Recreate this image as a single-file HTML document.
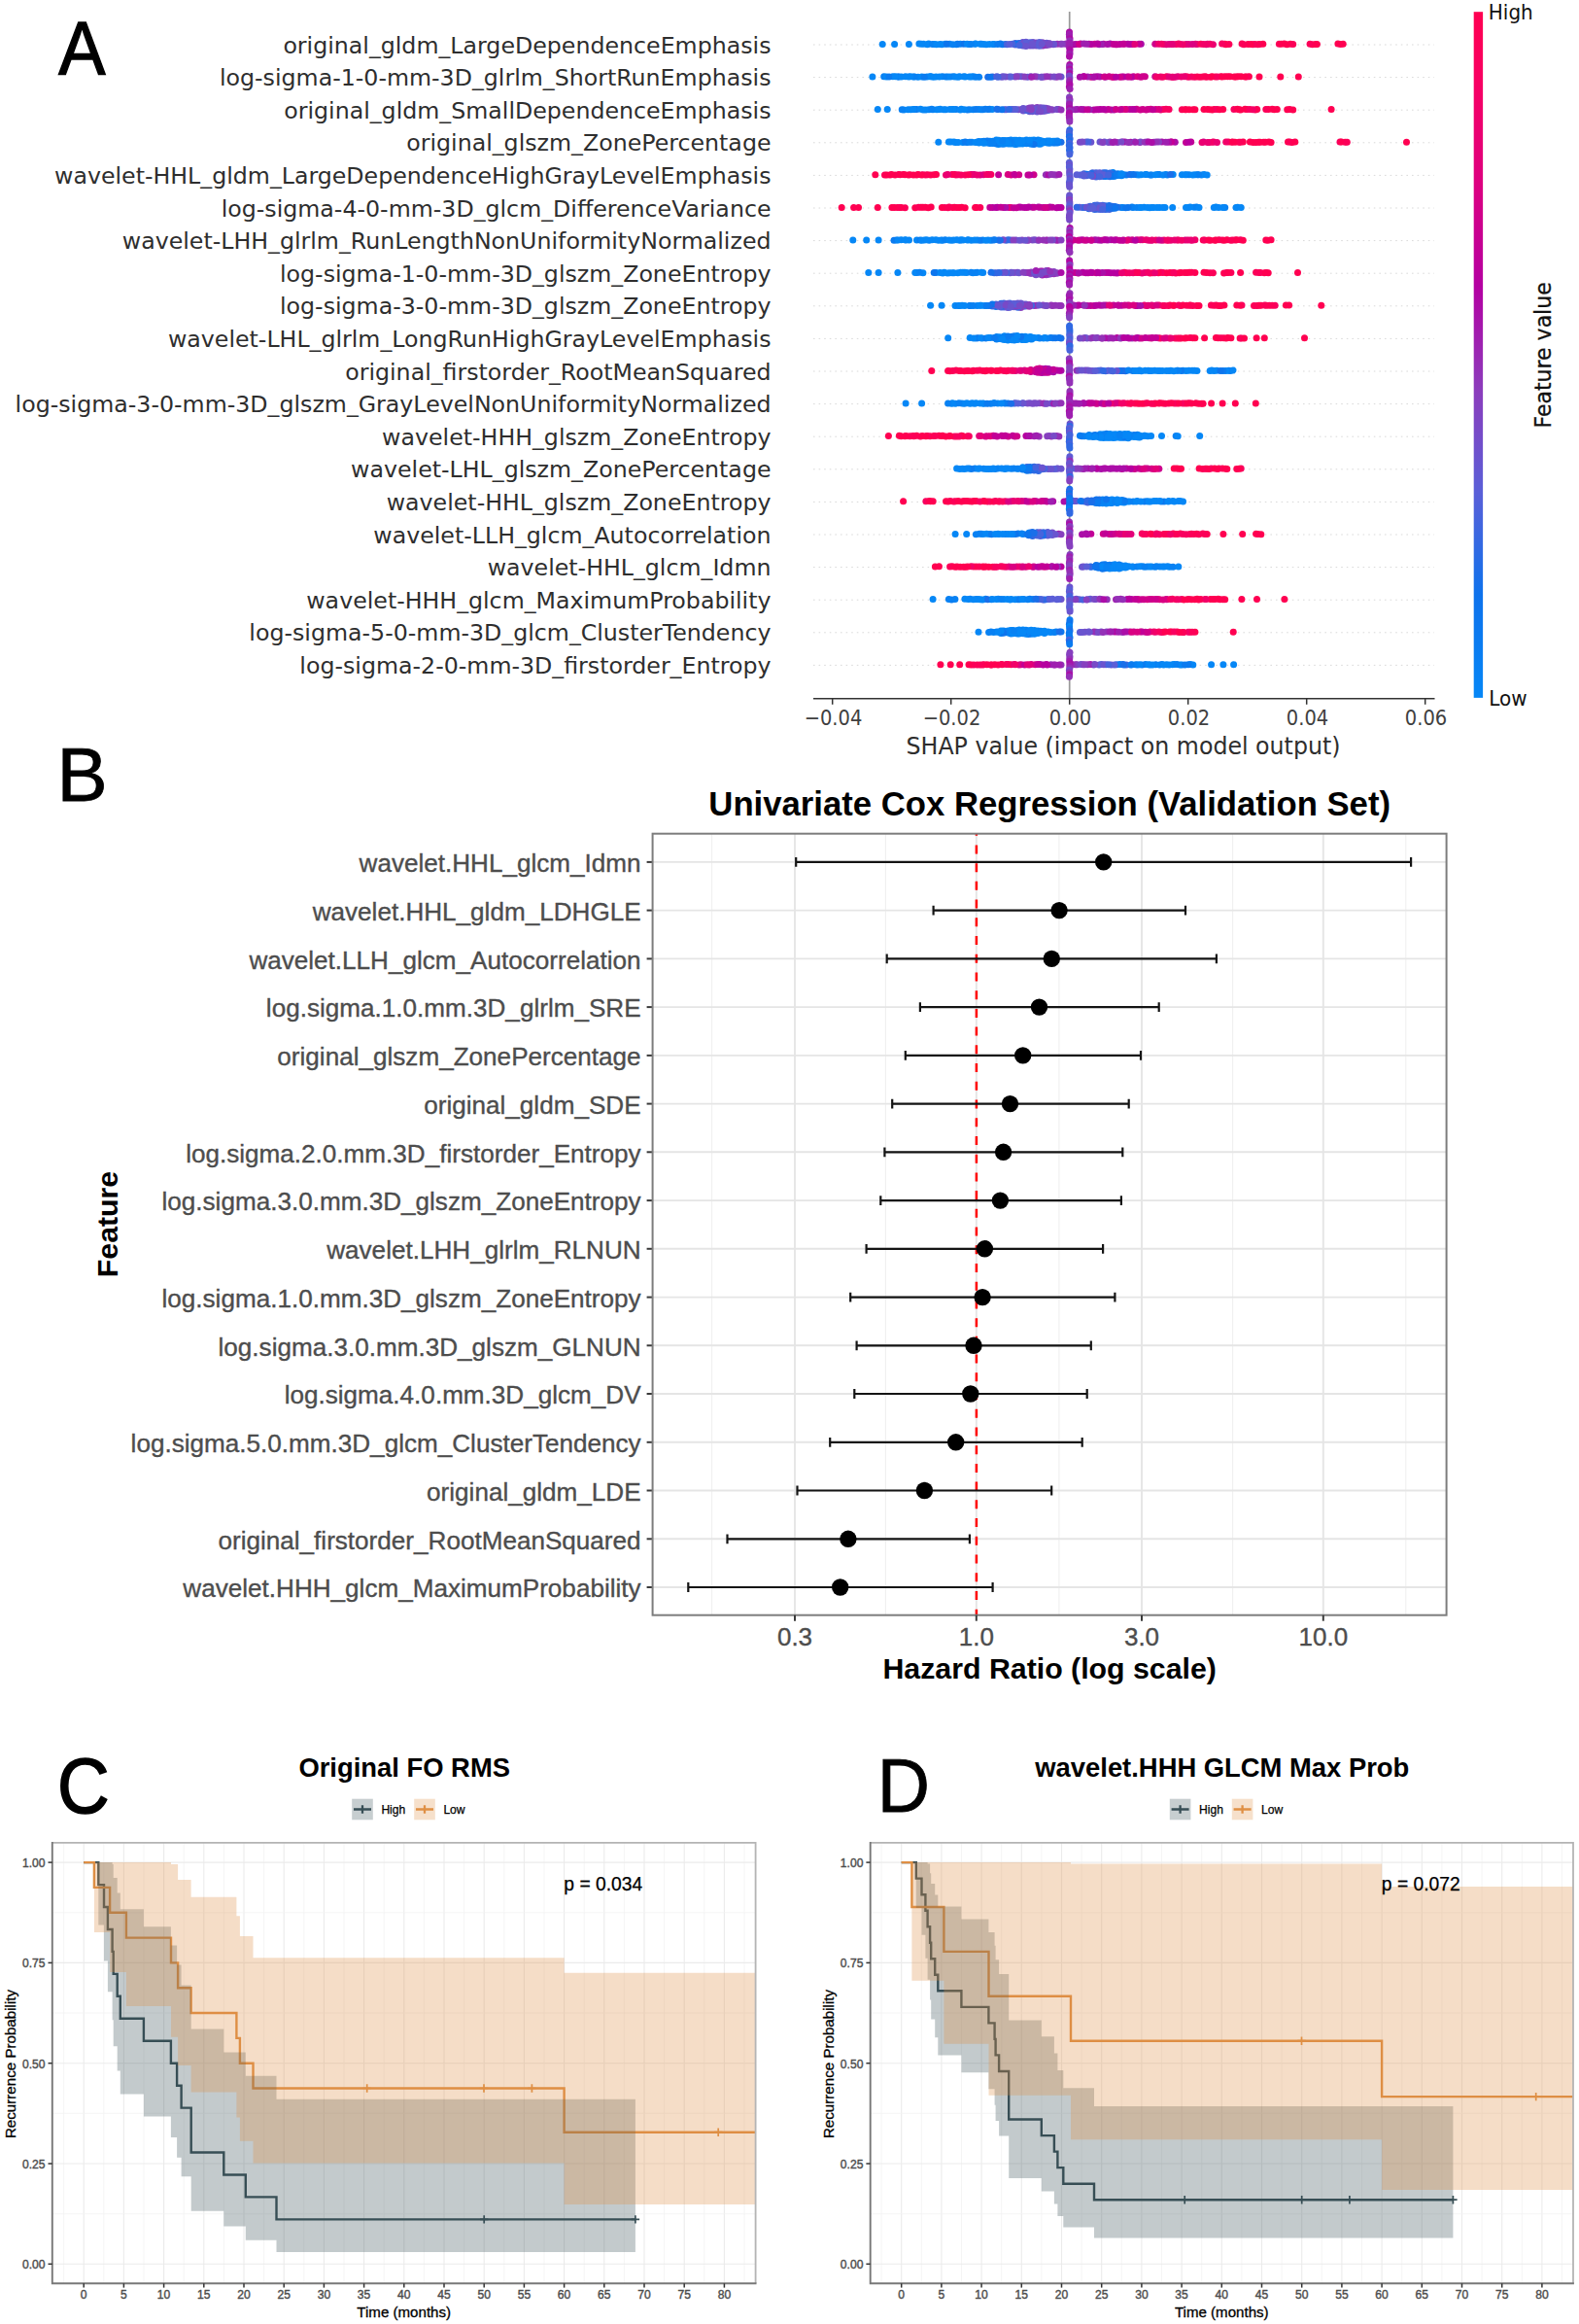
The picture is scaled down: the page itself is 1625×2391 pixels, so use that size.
<!DOCTYPE html><html><head><meta charset="utf-8"><title>Figure</title><style>html,body{margin:0;padding:0;background:#fff}svg{display:block}.dj{font-family:"DejaVu Sans","Liberation Sans",sans-serif}.lr,.lb{font-family:"Liberation Sans",Arial,Helvetica,sans-serif}.lbd{font-family:"Liberation Sans",Arial,Helvetica,sans-serif;font-weight:bold;fill:#000}.dots circle{r:3.5px}.k0{fill:#0687f6}.k1{fill:#0881f3}.k2{fill:#0b7bf0}.k3{fill:#0d75ed}.k4{fill:#1a6fe9}.k5{fill:#3069e3}.k6{fill:#4664dd}.k7{fill:#5b5ed7}.k8{fill:#6a54cf}.k9{fill:#784ac7}.k10{fill:#8740bf}.k11{fill:#9431b7}.k12{fill:#9f1fb0}.k13{fill:#ab0ea8}.k14{fill:#b600a0}.k15{fill:#c20096}.k16{fill:#ce008c}.k17{fill:#da0082}.k18{fill:#e30079}.k19{fill:#eb0071}.k20{fill:#f30068}.k21{fill:#f90060}.k22{fill:#fc0058}.k23{fill:#ff0051}</style></head><body><svg width="1625" height="2391" viewBox="0 0 1625 2391">
<g id="panelA">
<line x1="837" x2="1476" y1="46.0" y2="46.0" stroke="#d9d9d9" stroke-width="1" stroke-dasharray="1.6 4"/>
<line x1="837" x2="1476" y1="79.6" y2="79.6" stroke="#d9d9d9" stroke-width="1" stroke-dasharray="1.6 4"/>
<line x1="837" x2="1476" y1="113.2" y2="113.2" stroke="#d9d9d9" stroke-width="1" stroke-dasharray="1.6 4"/>
<line x1="837" x2="1476" y1="146.8" y2="146.8" stroke="#d9d9d9" stroke-width="1" stroke-dasharray="1.6 4"/>
<line x1="837" x2="1476" y1="180.4" y2="180.4" stroke="#d9d9d9" stroke-width="1" stroke-dasharray="1.6 4"/>
<line x1="837" x2="1476" y1="214.0" y2="214.0" stroke="#d9d9d9" stroke-width="1" stroke-dasharray="1.6 4"/>
<line x1="837" x2="1476" y1="247.6" y2="247.6" stroke="#d9d9d9" stroke-width="1" stroke-dasharray="1.6 4"/>
<line x1="837" x2="1476" y1="281.2" y2="281.2" stroke="#d9d9d9" stroke-width="1" stroke-dasharray="1.6 4"/>
<line x1="837" x2="1476" y1="314.8" y2="314.8" stroke="#d9d9d9" stroke-width="1" stroke-dasharray="1.6 4"/>
<line x1="837" x2="1476" y1="348.4" y2="348.4" stroke="#d9d9d9" stroke-width="1" stroke-dasharray="1.6 4"/>
<line x1="837" x2="1476" y1="382.0" y2="382.0" stroke="#d9d9d9" stroke-width="1" stroke-dasharray="1.6 4"/>
<line x1="837" x2="1476" y1="415.6" y2="415.6" stroke="#d9d9d9" stroke-width="1" stroke-dasharray="1.6 4"/>
<line x1="837" x2="1476" y1="449.2" y2="449.2" stroke="#d9d9d9" stroke-width="1" stroke-dasharray="1.6 4"/>
<line x1="837" x2="1476" y1="482.8" y2="482.8" stroke="#d9d9d9" stroke-width="1" stroke-dasharray="1.6 4"/>
<line x1="837" x2="1476" y1="516.4" y2="516.4" stroke="#d9d9d9" stroke-width="1" stroke-dasharray="1.6 4"/>
<line x1="837" x2="1476" y1="550.0" y2="550.0" stroke="#d9d9d9" stroke-width="1" stroke-dasharray="1.6 4"/>
<line x1="837" x2="1476" y1="583.6" y2="583.6" stroke="#d9d9d9" stroke-width="1" stroke-dasharray="1.6 4"/>
<line x1="837" x2="1476" y1="617.2" y2="617.2" stroke="#d9d9d9" stroke-width="1" stroke-dasharray="1.6 4"/>
<line x1="837" x2="1476" y1="650.8" y2="650.8" stroke="#d9d9d9" stroke-width="1" stroke-dasharray="1.6 4"/>
<line x1="837" x2="1476" y1="684.4" y2="684.4" stroke="#d9d9d9" stroke-width="1" stroke-dasharray="1.6 4"/>
<line x1="1100.7" x2="1100.7" y1="12" y2="718.4" stroke="#999" stroke-width="1.7"/>
<g class="dots">
<circle class="k2" cx="1031.6" cy="45.7"/>
<circle class="k15" cx="1135.7" cy="45.2"/>
<circle class="k8" cx="1074.1" cy="46.7"/>
<circle class="k6" cx="1047.9" cy="45.1"/>
<circle class="k10" cx="1084.0" cy="45.7"/>
<circle class="k16" cx="1203.1" cy="45.6"/>
<circle class="k19" cx="1230.4" cy="45.2"/>
<circle class="k0" cx="988.3" cy="45.2"/>
<circle class="k13" cx="1142.4" cy="45.1"/>
<circle class="k11" cx="1088.1" cy="45.2"/>
<circle class="k10" cx="1078.1" cy="45.3"/>
<circle class="k12" cx="1102.1" cy="45.6"/>
<circle class="k7" cx="1052.6" cy="47.0"/>
<circle class="k18" cx="1232.0" cy="45.6"/>
<circle class="k21" cx="1210.5" cy="45.6"/>
<circle class="k14" cx="1105.0" cy="45.7"/>
<circle class="k8" cx="1044.9" cy="46.1"/>
<circle class="k22" cx="1278.1" cy="45.1"/>
<circle class="k7" cx="1058.3" cy="45.2"/>
<circle class="k12" cx="1134.4" cy="45.4"/>
<circle class="k1" cx="969.1" cy="45.7"/>
<circle class="k23" cx="1328.0" cy="45.3"/>
<circle class="k13" cx="1174.3" cy="45.2"/>
<circle class="k9" cx="1069.7" cy="45.1"/>
<circle class="k15" cx="1148.1" cy="45.7"/>
<circle class="k17" cx="1220.8" cy="45.6"/>
<circle class="k0" cx="961.8" cy="45.4"/>
<circle class="k22" cx="1379.6" cy="45.4"/>
<circle class="k0" cx="955.7" cy="45.1"/>
<circle class="k6" cx="1060.1" cy="43.8"/>
<circle class="k4" cx="1034.7" cy="45.6"/>
<circle class="k8" cx="1064.9" cy="44.4"/>
<circle class="k20" cx="1217.6" cy="45.7"/>
<circle class="k11" cx="1096.4" cy="45.3"/>
<circle class="k11" cx="1074.1" cy="44.6"/>
<circle class="k23" cx="1291.4" cy="45.4"/>
<circle class="k12" cx="1131.2" cy="45.7"/>
<circle class="k8" cx="1075.7" cy="45.1"/>
<circle class="k0" cx="967.4" cy="45.6"/>
<circle class="k6" cx="1051.6" cy="44.4"/>
<circle class="k15" cx="1157.1" cy="45.3"/>
<circle class="k15" cx="1172.2" cy="45.3"/>
<circle class="k8" cx="1052.6" cy="43.5"/>
<circle class="k5" cx="1048.9" cy="44.6"/>
<circle class="k22" cx="1330.7" cy="45.4"/>
<circle class="k8" cx="1066.3" cy="45.1"/>
<circle class="k15" cx="1165.4" cy="45.4"/>
<circle class="k23" cx="1284.3" cy="45.5"/>
<circle class="k7" cx="1050.3" cy="45.5"/>
<circle class="k6" cx="1044.9" cy="44.6"/>
<circle class="k23" cx="1296.3" cy="45.6"/>
<circle class="k23" cx="1299.8" cy="45.2"/>
<circle class="k18" cx="1205.6" cy="45.4"/>
<circle class="k22" cx="1294.5" cy="45.7"/>
<circle class="k8" cx="1064.6" cy="45.3"/>
<circle class="k3" cx="1045.7" cy="45.3"/>
<circle class="k8" cx="1077.1" cy="44.2"/>
<circle class="k0" cx="908.2" cy="45.4"/>
<circle class="k21" cx="1289.3" cy="45.7"/>
<circle class="k10" cx="1080.1" cy="46.1"/>
<circle class="k0" cx="945.9" cy="45.1"/>
<circle class="k16" cx="1188.8" cy="45.2"/>
<circle class="k23" cx="1355.4" cy="45.4"/>
<circle class="k0" cx="984.3" cy="45.7"/>
<circle class="k19" cx="1214.9" cy="45.5"/>
<circle class="k23" cx="1261.7" cy="45.7"/>
<circle class="k0" cx="1014.9" cy="45.7"/>
<circle class="k0" cx="1010.0" cy="45.3"/>
<circle class="k18" cx="1207.2" cy="45.5"/>
<circle class="k8" cx="1063.0" cy="43.6"/>
<circle class="k9" cx="1066.4" cy="43.9"/>
<circle class="k8" cx="1055.6" cy="46.4"/>
<circle class="k13" cx="1107.3" cy="45.4"/>
<circle class="k8" cx="1084.8" cy="45.5"/>
<circle class="k0" cx="972.7" cy="45.2"/>
<circle class="k17" cx="1197.7" cy="45.5"/>
<circle class="k0" cx="1021.9" cy="45.4"/>
<circle class="k11" cx="1098.1" cy="45.1"/>
<circle class="k13" cx="1112.1" cy="45.1"/>
<circle class="k0" cx="1003.4" cy="45.2"/>
<circle class="k23" cx="1260.5" cy="45.2"/>
<circle class="k8" cx="1063.0" cy="47.0"/>
<circle class="k22" cx="1235.8" cy="45.3"/>
<circle class="k22" cx="1264.9" cy="45.6"/>
<circle class="k23" cx="1324.4" cy="45.7"/>
<circle class="k0" cx="1023.1" cy="45.5"/>
<circle class="k0" cx="935.4" cy="45.4"/>
<circle class="k5" cx="1056.0" cy="45.1"/>
<circle class="k19" cx="1248.4" cy="45.7"/>
<circle class="k23" cx="1321.7" cy="45.1"/>
<circle class="k8" cx="1055.9" cy="43.2"/>
<circle class="k16" cx="1110.6" cy="45.4"/>
<circle class="k11" cx="1091.6" cy="45.2"/>
<circle class="k6" cx="1036.3" cy="45.7"/>
<circle class="k9" cx="1064.9" cy="46.5"/>
<circle class="k9" cx="1066.4" cy="47.1"/>
<circle class="k10" cx="1077.1" cy="46.4"/>
<circle class="k14" cx="1152.5" cy="45.5"/>
<circle class="k6" cx="1042.0" cy="45.3"/>
<circle class="k0" cx="1004.0" cy="45.1"/>
<circle class="k9" cx="1060.1" cy="47.0"/>
<circle class="k0" cx="954.3" cy="45.7"/>
<circle class="k23" cx="1287.3" cy="45.4"/>
<circle class="k3" cx="991.9" cy="45.2"/>
<circle class="k23" cx="1353.9" cy="45.4"/>
<circle class="k0" cx="1018.1" cy="45.5"/>
<circle class="k19" cx="1192.2" cy="45.2"/>
<circle class="k8" cx="1061.1" cy="46.6"/>
<circle class="k0" cx="950.5" cy="45.3"/>
<circle class="k9" cx="1070.1" cy="44.4"/>
<circle class="k15" cx="1149.6" cy="45.7"/>
<circle class="k3" cx="1029.5" cy="45.1"/>
<circle class="k8" cx="1079.8" cy="45.1"/>
<circle class="k16" cx="1126.7" cy="45.2"/>
<circle class="k9" cx="1053.6" cy="45.1"/>
<circle class="k0" cx="920.6" cy="45.4"/>
<circle class="k9" cx="1067.1" cy="44.4"/>
<circle class="k0" cx="977.3" cy="45.3"/>
<circle class="k11" cx="1072.8" cy="47.0"/>
<circle class="k22" cx="1316.4" cy="45.2"/>
<circle class="k1" cx="959.5" cy="45.4"/>
<circle class="k8" cx="1067.1" cy="46.6"/>
<circle class="k19" cx="1242.7" cy="45.3"/>
<circle class="k15" cx="1145.8" cy="45.4"/>
<circle class="k9" cx="1057.5" cy="46.6"/>
<circle class="k7" cx="1055.6" cy="44.1"/>
<circle class="k18" cx="1223.5" cy="45.6"/>
<circle class="k23" cx="1376.9" cy="45.1"/>
<circle class="k9" cx="1080.1" cy="44.7"/>
<circle class="k14" cx="1120.7" cy="45.2"/>
<circle class="k2" cx="985.4" cy="45.2"/>
<circle class="k8" cx="1051.6" cy="46.4"/>
<circle class="k7" cx="1057.5" cy="44.2"/>
<circle class="k3" cx="974.5" cy="45.3"/>
<circle class="k14" cx="1129.6" cy="45.1"/>
<circle class="k1" cx="997.2" cy="45.4"/>
<circle class="k14" cx="1160.8" cy="45.2"/>
<circle class="k23" cx="1318.7" cy="45.3"/>
<circle class="k7" cx="1070.1" cy="46.4"/>
<circle class="k23" cx="1382.2" cy="45.2"/>
<circle class="k7" cx="1039.0" cy="45.6"/>
<circle class="k7" cx="1069.7" cy="47.3"/>
<circle class="k12" cx="1115.6" cy="45.1"/>
<circle class="k18" cx="1241.3" cy="45.7"/>
<circle class="k2" cx="1026.7" cy="45.5"/>
<circle class="k7" cx="1061.1" cy="44.4"/>
<circle class="k8" cx="1062.1" cy="45.2"/>
<circle class="k0" cx="963.8" cy="45.7"/>
<circle class="k14" cx="1123.1" cy="45.6"/>
<circle class="k12" cx="1118.1" cy="45.3"/>
<circle class="k0" cx="995.3" cy="45.2"/>
<circle class="k0" cx="1008.5" cy="45.3"/>
<circle class="k10" cx="1092.9" cy="45.3"/>
<circle class="k0" cx="1012.3" cy="45.4"/>
<circle class="k1" cx="980.7" cy="45.7"/>
<circle class="k9" cx="1072.8" cy="43.8"/>
<circle class="k13" cx="1139.8" cy="45.4"/>
<circle class="k23" cx="1350.7" cy="45.7"/>
<circle class="k14" cx="1162.8" cy="45.6"/>
<circle class="k20" cx="1212.9" cy="45.1"/>
<circle class="k8" cx="1055.9" cy="47.4"/>
<circle class="k21" cx="1257.6" cy="45.1"/>
<circle class="k22" cx="1280.1" cy="45.7"/>
<circle class="k6" cx="1048.9" cy="46.4"/>
<circle class="k7" cx="1069.7" cy="43.4"/>
<circle class="k0" cx="948.2" cy="45.2"/>
<circle class="k18" cx="1200.3" cy="45.7"/>
<circle class="k1" cx="999.4" cy="45.5"/>
<circle class="k15" cx="1155.9" cy="45.2"/>
<circle class="k20" cx="1195.3" cy="45.2"/>
<circle class="k8" cx="1072.3" cy="45.2"/>
<circle class="k20" cx="1238.6" cy="45.6"/>
<circle class="k18" cx="1167.9" cy="45.6"/>
<circle class="k17" cx="1227.1" cy="45.4"/>
<circle class="k22" cx="1348.1" cy="45.3"/>
<circle class="k20" cx="1245.1" cy="45.3"/>
<circle class="k13" cx="1100.5" cy="32.9"/>
<circle class="k12" cx="1100.4" cy="35.2"/>
<circle class="k12" cx="1100.5" cy="37.4"/>
<circle class="k13" cx="1101.0" cy="39.7"/>
<circle class="k11" cx="1100.9" cy="42.0"/>
<circle class="k12" cx="1100.7" cy="44.3"/>
<circle class="k12" cx="1100.6" cy="46.5"/>
<circle class="k12" cx="1100.5" cy="48.8"/>
<circle class="k13" cx="1101.1" cy="51.1"/>
<circle class="k13" cx="1100.8" cy="53.4"/>
<circle class="k12" cx="1101.0" cy="55.6"/>
<circle class="k13" cx="1100.5" cy="57.9"/>
<circle class="k20" cx="1229.3" cy="79.3"/>
<circle class="k16" cx="1166.6" cy="78.7"/>
<circle class="k23" cx="1247.4" cy="78.7"/>
<circle class="k8" cx="1092.0" cy="78.9"/>
<circle class="k0" cx="939.8" cy="78.9"/>
<circle class="k14" cx="1164.5" cy="79.2"/>
<circle class="k1" cx="958.1" cy="78.8"/>
<circle class="k16" cx="1156.4" cy="78.9"/>
<circle class="k0" cx="973.2" cy="79.0"/>
<circle class="k23" cx="1272.2" cy="79.1"/>
<circle class="k0" cx="999.7" cy="79.1"/>
<circle class="k0" cx="987.5" cy="78.8"/>
<circle class="k22" cx="1232.1" cy="78.9"/>
<circle class="k23" cx="1285.4" cy="78.8"/>
<circle class="k1" cx="975.4" cy="79.1"/>
<circle class="k0" cx="993.4" cy="78.9"/>
<circle class="k0" cx="924.1" cy="79.0"/>
<circle class="k4" cx="1016.7" cy="79.3"/>
<circle class="k9" cx="1067.2" cy="78.9"/>
<circle class="k0" cx="978.0" cy="78.9"/>
<circle class="k0" cx="985.9" cy="79.3"/>
<circle class="k8" cx="1071.5" cy="79.2"/>
<circle class="k10" cx="1081.0" cy="79.0"/>
<circle class="k0" cx="944.8" cy="79.3"/>
<circle class="k13" cx="1131.9" cy="79.0"/>
<circle class="k13" cx="1129.2" cy="78.8"/>
<circle class="k0" cx="960.5" cy="79.3"/>
<circle class="k0" cx="918.9" cy="78.7"/>
<circle class="k1" cx="909.7" cy="78.8"/>
<circle class="k7" cx="1038.8" cy="78.9"/>
<circle class="k11" cx="1087.4" cy="79.3"/>
<circle class="k16" cx="1188.8" cy="78.8"/>
<circle class="k5" cx="1021.5" cy="78.9"/>
<circle class="k3" cx="1019.4" cy="79.3"/>
<circle class="k21" cx="1226.2" cy="79.1"/>
<circle class="k12" cx="1074.9" cy="79.0"/>
<circle class="k22" cx="1240.2" cy="78.8"/>
<circle class="k9" cx="1060.7" cy="78.7"/>
<circle class="k8" cx="1057.4" cy="79.3"/>
<circle class="k21" cx="1207.1" cy="79.2"/>
<circle class="k23" cx="1245.9" cy="79.3"/>
<circle class="k14" cx="1154.5" cy="79.1"/>
<circle class="k19" cx="1206.0" cy="79.2"/>
<circle class="k3" cx="925.0" cy="79.1"/>
<circle class="k18" cx="1209.4" cy="79.3"/>
<circle class="k0" cx="912.2" cy="79.1"/>
<circle class="k9" cx="1072.4" cy="79.2"/>
<circle class="k1" cx="1007.6" cy="79.2"/>
<circle class="k0" cx="1001.7" cy="78.8"/>
<circle class="k23" cx="1336.3" cy="79.0"/>
<circle class="k9" cx="1084.8" cy="78.9"/>
<circle class="k1" cx="981.0" cy="78.8"/>
<circle class="k19" cx="1194.3" cy="79.1"/>
<circle class="k20" cx="1196.5" cy="79.3"/>
<circle class="k13" cx="1115.0" cy="78.7"/>
<circle class="k23" cx="1250.7" cy="79.1"/>
<circle class="k23" cx="1263.4" cy="78.8"/>
<circle class="k11" cx="1064.9" cy="78.8"/>
<circle class="k17" cx="1122.8" cy="79.3"/>
<circle class="k23" cx="1256.4" cy="78.8"/>
<circle class="k9" cx="1034.9" cy="79.1"/>
<circle class="k0" cx="983.0" cy="79.1"/>
<circle class="k0" cx="963.3" cy="79.1"/>
<circle class="k0" cx="935.0" cy="79.1"/>
<circle class="k23" cx="1274.3" cy="78.8"/>
<circle class="k14" cx="1126.5" cy="78.9"/>
<circle class="k12" cx="1137.7" cy="79.3"/>
<circle class="k20" cx="1223.1" cy="79.3"/>
<circle class="k7" cx="1025.8" cy="78.8"/>
<circle class="k13" cx="1125.4" cy="79.3"/>
<circle class="k0" cx="957.0" cy="78.8"/>
<circle class="k11" cx="1077.6" cy="78.7"/>
<circle class="k8" cx="1032.3" cy="78.7"/>
<circle class="k21" cx="1220.9" cy="78.8"/>
<circle class="k16" cx="1176.0" cy="78.8"/>
<circle class="k0" cx="948.7" cy="79.1"/>
<circle class="k21" cx="1252.9" cy="79.1"/>
<circle class="k18" cx="1212.1" cy="78.7"/>
<circle class="k23" cx="1296.0" cy="79.0"/>
<circle class="k1" cx="941.2" cy="79.0"/>
<circle class="k14" cx="1160.1" cy="78.9"/>
<circle class="k12" cx="1061.6" cy="79.3"/>
<circle class="k20" cx="1190.5" cy="79.2"/>
<circle class="k12" cx="1119.3" cy="79.0"/>
<circle class="k17" cx="1170.9" cy="78.8"/>
<circle class="k22" cx="1241.7" cy="79.2"/>
<circle class="k0" cx="936.8" cy="78.7"/>
<circle class="k8" cx="1051.1" cy="78.8"/>
<circle class="k22" cx="1237.9" cy="79.0"/>
<circle class="k10" cx="1054.2" cy="78.9"/>
<circle class="k0" cx="897.9" cy="79.0"/>
<circle class="k1" cx="969.9" cy="78.7"/>
<circle class="k9" cx="1044.6" cy="78.9"/>
<circle class="k16" cx="1174.0" cy="79.2"/>
<circle class="k22" cx="1235.0" cy="79.3"/>
<circle class="k0" cx="966.8" cy="78.9"/>
<circle class="k16" cx="1144.5" cy="79.2"/>
<circle class="k8" cx="1030.9" cy="79.2"/>
<circle class="k23" cx="1317.8" cy="79.0"/>
<circle class="k21" cx="1200.6" cy="78.7"/>
<circle class="k19" cx="1215.7" cy="78.9"/>
<circle class="k6" cx="1027.1" cy="79.3"/>
<circle class="k14" cx="1115.7" cy="78.8"/>
<circle class="k16" cx="1178.4" cy="78.7"/>
<circle class="k19" cx="1218.8" cy="78.7"/>
<circle class="k2" cx="915.0" cy="79.1"/>
<circle class="k8" cx="1048.3" cy="78.7"/>
<circle class="k1" cx="1004.0" cy="79.2"/>
<circle class="k16" cx="1152.6" cy="79.2"/>
<circle class="k0" cx="997.6" cy="78.9"/>
<circle class="k23" cx="1265.9" cy="78.8"/>
<circle class="k0" cx="991.9" cy="78.7"/>
<circle class="k16" cx="1161.9" cy="78.9"/>
<circle class="k23" cx="1257.9" cy="78.9"/>
<circle class="k0" cx="954.0" cy="79.0"/>
<circle class="k17" cx="1145.9" cy="79.2"/>
<circle class="k0" cx="927.7" cy="78.9"/>
<circle class="k10" cx="1089.8" cy="78.8"/>
<circle class="k16" cx="1141.4" cy="78.8"/>
<circle class="k21" cx="1282.8" cy="79.1"/>
<circle class="k13" cx="1111.4" cy="79.3"/>
<circle class="k14" cx="1148.4" cy="79.2"/>
<circle class="k7" cx="1040.5" cy="78.9"/>
<circle class="k18" cx="1203.1" cy="79.0"/>
<circle class="k0" cx="931.9" cy="78.8"/>
<circle class="k23" cx="1281.2" cy="78.9"/>
<circle class="k23" cx="1277.2" cy="78.7"/>
<circle class="k23" cx="1260.7" cy="78.7"/>
<circle class="k23" cx="1270.2" cy="79.1"/>
<circle class="k0" cx="921.4" cy="78.7"/>
<circle class="k10" cx="1046.3" cy="78.8"/>
<circle class="k2" cx="951.2" cy="79.3"/>
<circle class="k16" cx="1136.5" cy="79.0"/>
<circle class="k13" cx="1100.8" cy="66.5"/>
<circle class="k11" cx="1100.5" cy="68.8"/>
<circle class="k13" cx="1100.8" cy="71.0"/>
<circle class="k11" cx="1100.8" cy="73.3"/>
<circle class="k13" cx="1100.7" cy="75.6"/>
<circle class="k9" cx="1100.4" cy="77.9"/>
<circle class="k9" cx="1100.9" cy="80.1"/>
<circle class="k11" cx="1100.7" cy="82.4"/>
<circle class="k12" cx="1100.6" cy="84.7"/>
<circle class="k13" cx="1101.0" cy="87.0"/>
<circle class="k13" cx="1100.4" cy="89.2"/>
<circle class="k12" cx="1101.1" cy="91.5"/>
<circle class="k2" cx="983.9" cy="112.5"/>
<circle class="k15" cx="1162.8" cy="112.5"/>
<circle class="k0" cx="980.0" cy="112.5"/>
<circle class="k23" cx="1311.3" cy="112.8"/>
<circle class="k23" cx="1258.7" cy="112.4"/>
<circle class="k23" cx="1242.7" cy="112.4"/>
<circle class="k3" cx="995.6" cy="112.9"/>
<circle class="k0" cx="930.1" cy="112.9"/>
<circle class="k8" cx="1073.8" cy="114.3"/>
<circle class="k9" cx="1057.4" cy="111.7"/>
<circle class="k0" cx="934.5" cy="112.8"/>
<circle class="k12" cx="1106.5" cy="112.7"/>
<circle class="k7" cx="1052.0" cy="112.3"/>
<circle class="k14" cx="1159.1" cy="112.4"/>
<circle class="k22" cx="1327.3" cy="112.6"/>
<circle class="k8" cx="1067.1" cy="113.3"/>
<circle class="k8" cx="1074.9" cy="112.7"/>
<circle class="k10" cx="1076.3" cy="113.9"/>
<circle class="k10" cx="1062.4" cy="110.8"/>
<circle class="k0" cx="964.1" cy="112.7"/>
<circle class="k10" cx="1076.3" cy="111.3"/>
<circle class="k1" cx="952.8" cy="112.9"/>
<circle class="k19" cx="1194.5" cy="112.9"/>
<circle class="k23" cx="1247.6" cy="112.9"/>
<circle class="k23" cx="1220.7" cy="112.7"/>
<circle class="k11" cx="1068.1" cy="112.7"/>
<circle class="k22" cx="1293.7" cy="112.4"/>
<circle class="k21" cx="1269.9" cy="112.5"/>
<circle class="k17" cx="1169.7" cy="112.3"/>
<circle class="k6" cx="1033.5" cy="112.8"/>
<circle class="k0" cx="1011.5" cy="112.8"/>
<circle class="k23" cx="1223.9" cy="112.8"/>
<circle class="k21" cx="1203.1" cy="112.4"/>
<circle class="k8" cx="1062.6" cy="111.9"/>
<circle class="k7" cx="1041.1" cy="112.6"/>
<circle class="k7" cx="1059.7" cy="113.2"/>
<circle class="k16" cx="1179.6" cy="112.9"/>
<circle class="k8" cx="1053.6" cy="112.5"/>
<circle class="k17" cx="1189.5" cy="112.6"/>
<circle class="k23" cx="1324.7" cy="112.8"/>
<circle class="k8" cx="1060.2" cy="112.7"/>
<circle class="k23" cx="1276.8" cy="112.9"/>
<circle class="k1" cx="941.1" cy="112.4"/>
<circle class="k7" cx="1078.8" cy="113.4"/>
<circle class="k8" cx="1067.3" cy="114.9"/>
<circle class="k0" cx="956.0" cy="112.8"/>
<circle class="k9" cx="1072.2" cy="112.6"/>
<circle class="k11" cx="1103.2" cy="112.7"/>
<circle class="k9" cx="1048.2" cy="112.8"/>
<circle class="k23" cx="1229.9" cy="112.7"/>
<circle class="k0" cx="1001.5" cy="112.7"/>
<circle class="k0" cx="1007.1" cy="112.5"/>
<circle class="k0" cx="937.2" cy="112.7"/>
<circle class="k23" cx="1281.3" cy="112.3"/>
<circle class="k15" cx="1140.6" cy="112.4"/>
<circle class="k23" cx="1275.2" cy="112.8"/>
<circle class="k7" cx="1035.4" cy="112.7"/>
<circle class="k8" cx="1053.1" cy="113.9"/>
<circle class="k9" cx="1069.5" cy="114.0"/>
<circle class="k15" cx="1168.2" cy="112.4"/>
<circle class="k0" cx="913.2" cy="112.6"/>
<circle class="k15" cx="1128.4" cy="112.8"/>
<circle class="k4" cx="1027.0" cy="112.6"/>
<circle class="k7" cx="1042.9" cy="112.6"/>
<circle class="k0" cx="981.3" cy="112.4"/>
<circle class="k2" cx="943.4" cy="112.4"/>
<circle class="k10" cx="1074.1" cy="112.0"/>
<circle class="k9" cx="1064.3" cy="112.9"/>
<circle class="k23" cx="1305.4" cy="112.6"/>
<circle class="k14" cx="1125.7" cy="112.9"/>
<circle class="k1" cx="1018.4" cy="112.3"/>
<circle class="k15" cx="1143.5" cy="112.9"/>
<circle class="k12" cx="1121.2" cy="112.8"/>
<circle class="k16" cx="1154.8" cy="112.4"/>
<circle class="k3" cx="1031.1" cy="112.8"/>
<circle class="k1" cx="973.1" cy="112.7"/>
<circle class="k10" cx="1067.3" cy="110.6"/>
<circle class="k14" cx="1132.7" cy="112.5"/>
<circle class="k12" cx="1114.1" cy="112.8"/>
<circle class="k23" cx="1273.3" cy="112.3"/>
<circle class="k22" cx="1216.4" cy="112.7"/>
<circle class="k2" cx="1004.3" cy="112.6"/>
<circle class="k8" cx="1059.8" cy="114.8"/>
<circle class="k23" cx="1330.7" cy="112.9"/>
<circle class="k23" cx="1309.3" cy="112.3"/>
<circle class="k9" cx="1083.2" cy="112.9"/>
<circle class="k0" cx="939.9" cy="112.5"/>
<circle class="k17" cx="1184.3" cy="112.3"/>
<circle class="k23" cx="1219.6" cy="112.7"/>
<circle class="k10" cx="1081.8" cy="112.8"/>
<circle class="k0" cx="966.7" cy="112.6"/>
<circle class="k1" cx="997.8" cy="112.8"/>
<circle class="k7" cx="1059.7" cy="111.5"/>
<circle class="k1" cx="1009.5" cy="112.8"/>
<circle class="k0" cx="960.0" cy="112.8"/>
<circle class="k8" cx="1062.4" cy="114.8"/>
<circle class="k8" cx="1067.1" cy="111.7"/>
<circle class="k23" cx="1245.0" cy="112.7"/>
<circle class="k9" cx="1069.5" cy="112.9"/>
<circle class="k16" cx="1181.4" cy="112.6"/>
<circle class="k0" cx="947.3" cy="112.3"/>
<circle class="k12" cx="1108.6" cy="112.6"/>
<circle class="k0" cx="992.4" cy="112.8"/>
<circle class="k9" cx="1078.8" cy="111.8"/>
<circle class="k11" cx="1089.3" cy="112.4"/>
<circle class="k23" cx="1314.3" cy="112.5"/>
<circle class="k0" cx="1021.1" cy="112.6"/>
<circle class="k23" cx="1227.9" cy="112.7"/>
<circle class="k13" cx="1146.5" cy="112.9"/>
<circle class="k23" cx="1249.7" cy="112.4"/>
<circle class="k14" cx="1115.8" cy="112.8"/>
<circle class="k17" cx="1158.2" cy="112.4"/>
<circle class="k0" cx="950.1" cy="112.9"/>
<circle class="k23" cx="1291.9" cy="112.9"/>
<circle class="k8" cx="1069.5" cy="111.5"/>
<circle class="k6" cx="1057.4" cy="113.7"/>
<circle class="k21" cx="1252.4" cy="112.5"/>
<circle class="k15" cx="1138.0" cy="112.9"/>
<circle class="k7" cx="1062.6" cy="113.7"/>
<circle class="k13" cx="1112.4" cy="112.4"/>
<circle class="k21" cx="1200.0" cy="112.3"/>
<circle class="k9" cx="1058.1" cy="112.3"/>
<circle class="k22" cx="1302.8" cy="112.4"/>
<circle class="k0" cx="989.3" cy="112.3"/>
<circle class="k0" cx="971.2" cy="112.8"/>
<circle class="k21" cx="1197.1" cy="112.5"/>
<circle class="k5" cx="1038.5" cy="112.5"/>
<circle class="k23" cx="1255.0" cy="112.7"/>
<circle class="k9" cx="1070.8" cy="110.8"/>
<circle class="k10" cx="1079.3" cy="112.4"/>
<circle class="k2" cx="1016.9" cy="112.6"/>
<circle class="k0" cx="988.2" cy="112.9"/>
<circle class="k8" cx="1073.8" cy="110.9"/>
<circle class="k14" cx="1130.7" cy="112.7"/>
<circle class="k0" cx="967.6" cy="112.3"/>
<circle class="k10" cx="1061.4" cy="112.8"/>
<circle class="k23" cx="1370.1" cy="112.6"/>
<circle class="k1" cx="928.2" cy="112.7"/>
<circle class="k14" cx="1165.7" cy="112.5"/>
<circle class="k8" cx="1053.1" cy="111.6"/>
<circle class="k2" cx="1014.1" cy="112.3"/>
<circle class="k15" cx="1152.9" cy="112.7"/>
<circle class="k8" cx="1074.1" cy="114.0"/>
<circle class="k1" cx="958.8" cy="112.3"/>
<circle class="k17" cx="1192.7" cy="112.4"/>
<circle class="k10" cx="1059.8" cy="110.9"/>
<circle class="k4" cx="1025.9" cy="112.3"/>
<circle class="k16" cx="1176.1" cy="112.4"/>
<circle class="k0" cx="977.4" cy="112.5"/>
<circle class="k9" cx="1070.8" cy="114.7"/>
<circle class="k20" cx="1289.2" cy="112.8"/>
<circle class="k23" cx="1283.1" cy="112.4"/>
<circle class="k16" cx="1148.4" cy="112.4"/>
<circle class="k14" cx="1135.9" cy="112.4"/>
<circle class="k9" cx="1087.6" cy="112.4"/>
<circle class="k16" cx="1173.6" cy="112.9"/>
<circle class="k15" cx="1119.0" cy="112.7"/>
<circle class="k0" cx="903.3" cy="112.6"/>
<circle class="k21" cx="1286.1" cy="112.4"/>
<circle class="k7" cx="1045.3" cy="112.5"/>
<circle class="k23" cx="1239.0" cy="112.6"/>
<circle class="k11" cx="1092.0" cy="112.9"/>
<circle class="k15" cx="1186.5" cy="112.8"/>
<circle class="k10" cx="1100.5" cy="100.1"/>
<circle class="k11" cx="1101.0" cy="102.4"/>
<circle class="k10" cx="1100.7" cy="104.6"/>
<circle class="k12" cx="1100.5" cy="106.9"/>
<circle class="k12" cx="1100.5" cy="109.2"/>
<circle class="k13" cx="1100.6" cy="111.5"/>
<circle class="k11" cx="1100.8" cy="113.7"/>
<circle class="k13" cx="1100.4" cy="116.0"/>
<circle class="k13" cx="1100.3" cy="118.3"/>
<circle class="k12" cx="1100.4" cy="120.6"/>
<circle class="k12" cx="1100.8" cy="122.8"/>
<circle class="k11" cx="1100.8" cy="125.1"/>
<circle class="k23" cx="1384.3" cy="146.3"/>
<circle class="k1" cx="1056.3" cy="144.0"/>
<circle class="k8" cx="1117.8" cy="146.0"/>
<circle class="k23" cx="1296.8" cy="146.2"/>
<circle class="k11" cx="1157.9" cy="145.9"/>
<circle class="k0" cx="1025.3" cy="144.1"/>
<circle class="k0" cx="1011.2" cy="146.8"/>
<circle class="k1" cx="1044.3" cy="147.2"/>
<circle class="k0" cx="1024.9" cy="145.5"/>
<circle class="k23" cx="1268.7" cy="145.9"/>
<circle class="k20" cx="1244.5" cy="146.5"/>
<circle class="k0" cx="1028.3" cy="147.5"/>
<circle class="k0" cx="1027.7" cy="148.4"/>
<circle class="k10" cx="1142.2" cy="146.1"/>
<circle class="k0" cx="1044.6" cy="146.0"/>
<circle class="k13" cx="1163.6" cy="146.2"/>
<circle class="k0" cx="981.8" cy="146.1"/>
<circle class="k23" cx="1300.4" cy="146.2"/>
<circle class="k0" cx="1018.9" cy="146.1"/>
<circle class="k0" cx="1043.7" cy="144.2"/>
<circle class="k0" cx="1040.3" cy="144.1"/>
<circle class="k8" cx="1122.8" cy="146.3"/>
<circle class="k10" cx="1180.3" cy="145.9"/>
<circle class="k1" cx="1016.0" cy="147.1"/>
<circle class="k2" cx="1012.7" cy="145.2"/>
<circle class="k0" cx="1011.9" cy="146.4"/>
<circle class="k1" cx="1014.7" cy="146.5"/>
<circle class="k14" cx="1204.9" cy="146.0"/>
<circle class="k0" cx="1045.7" cy="144.2"/>
<circle class="k0" cx="978.7" cy="146.0"/>
<circle class="k12" cx="1173.0" cy="146.5"/>
<circle class="k9" cx="1140.8" cy="146.4"/>
<circle class="k16" cx="1238.6" cy="146.1"/>
<circle class="k1" cx="1060.7" cy="145.9"/>
<circle class="k1" cx="1037.3" cy="145.1"/>
<circle class="k22" cx="1264.1" cy="146.1"/>
<circle class="k0" cx="1070.5" cy="148.2"/>
<circle class="k0" cx="1083.8" cy="147.0"/>
<circle class="k6" cx="1119.9" cy="145.9"/>
<circle class="k1" cx="1045.7" cy="148.4"/>
<circle class="k0" cx="1085.8" cy="145.2"/>
<circle class="k0" cx="1052.3" cy="147.9"/>
<circle class="k0" cx="1061.9" cy="146.5"/>
<circle class="k1" cx="1080.5" cy="145.9"/>
<circle class="k0" cx="1017.7" cy="146.3"/>
<circle class="k0" cx="1068.1" cy="146.5"/>
<circle class="k13" cx="1155.6" cy="145.9"/>
<circle class="k0" cx="1054.1" cy="146.4"/>
<circle class="k0" cx="1059.7" cy="145.4"/>
<circle class="k1" cx="1007.5" cy="145.4"/>
<circle class="k1" cx="1021.8" cy="145.3"/>
<circle class="k3" cx="1084.9" cy="146.5"/>
<circle class="k0" cx="1043.7" cy="148.2"/>
<circle class="k0" cx="1065.5" cy="144.8"/>
<circle class="k0" cx="1041.2" cy="147.5"/>
<circle class="k15" cx="1220.5" cy="146.4"/>
<circle class="k0" cx="1039.0" cy="146.2"/>
<circle class="k23" cx="1325.5" cy="145.9"/>
<circle class="k10" cx="1150.2" cy="146.4"/>
<circle class="k2" cx="1085.8" cy="146.9"/>
<circle class="k0" cx="1065.2" cy="146.0"/>
<circle class="k0" cx="1018.8" cy="145.3"/>
<circle class="k0" cx="1061.5" cy="144.3"/>
<circle class="k20" cx="1248.9" cy="145.9"/>
<circle class="k0" cx="965.8" cy="146.2"/>
<circle class="k2" cx="1016.0" cy="144.9"/>
<circle class="k11" cx="1187.5" cy="146.3"/>
<circle class="k0" cx="983.4" cy="146.5"/>
<circle class="k4" cx="1092.0" cy="146.2"/>
<circle class="k0" cx="1005.8" cy="145.9"/>
<circle class="k0" cx="990.9" cy="146.4"/>
<circle class="k1" cx="1031.8" cy="146.0"/>
<circle class="k0" cx="1025.3" cy="147.9"/>
<circle class="k23" cx="1308.1" cy="146.5"/>
<circle class="k0" cx="1070.9" cy="145.5"/>
<circle class="k0" cx="1068.3" cy="144.0"/>
<circle class="k0" cx="1049.5" cy="147.1"/>
<circle class="k0" cx="1064.0" cy="144.1"/>
<circle class="k2" cx="1031.8" cy="148.2"/>
<circle class="k1" cx="1024.1" cy="146.4"/>
<circle class="k13" cx="1209.3" cy="146.3"/>
<circle class="k0" cx="1034.0" cy="148.1"/>
<circle class="k23" cx="1295.3" cy="146.2"/>
<circle class="k0" cx="1028.3" cy="145.1"/>
<circle class="k0" cx="1062.0" cy="147.5"/>
<circle class="k0" cx="1031.6" cy="147.6"/>
<circle class="k0" cx="1009.6" cy="146.0"/>
<circle class="k0" cx="1059.7" cy="147.5"/>
<circle class="k0" cx="1031.8" cy="144.4"/>
<circle class="k0" cx="1075.6" cy="145.9"/>
<circle class="k1" cx="995.2" cy="146.4"/>
<circle class="k23" cx="1267.5" cy="146.3"/>
<circle class="k3" cx="1078.4" cy="146.2"/>
<circle class="k9" cx="1111.4" cy="146.3"/>
<circle class="k1" cx="1026.8" cy="145.9"/>
<circle class="k0" cx="1000.1" cy="146.3"/>
<circle class="k23" cx="1271.0" cy="146.2"/>
<circle class="k2" cx="1024.9" cy="147.6"/>
<circle class="k20" cx="1247.8" cy="146.2"/>
<circle class="k2" cx="1087.7" cy="146.4"/>
<circle class="k13" cx="1195.7" cy="145.9"/>
<circle class="k0" cx="1083.8" cy="145.2"/>
<circle class="k0" cx="1077.8" cy="147.0"/>
<circle class="k12" cx="1145.1" cy="146.5"/>
<circle class="k21" cx="1379.0" cy="146.0"/>
<circle class="k0" cx="1049.5" cy="145.3"/>
<circle class="k8" cx="1136.6" cy="145.9"/>
<circle class="k0" cx="1068.3" cy="148.0"/>
<circle class="k1" cx="1021.1" cy="146.3"/>
<circle class="k1" cx="1088.2" cy="147.0"/>
<circle class="k0" cx="1034.0" cy="144.5"/>
<circle class="k2" cx="1047.6" cy="147.0"/>
<circle class="k8" cx="1132.0" cy="146.1"/>
<circle class="k9" cx="1167.5" cy="146.0"/>
<circle class="k2" cx="1067.3" cy="145.3"/>
<circle class="k1" cx="1080.2" cy="147.3"/>
<circle class="k0" cx="1041.2" cy="145.5"/>
<circle class="k1" cx="1048.0" cy="146.3"/>
<circle class="k9" cx="1173.7" cy="146.0"/>
<circle class="k2" cx="993.3" cy="145.9"/>
<circle class="k1" cx="1018.8" cy="147.5"/>
<circle class="k1" cx="1056.3" cy="147.8"/>
<circle class="k0" cx="1061.5" cy="148.3"/>
<circle class="k12" cx="1147.2" cy="145.9"/>
<circle class="k2" cx="1088.7" cy="146.3"/>
<circle class="k19" cx="1242.7" cy="146.4"/>
<circle class="k0" cx="1035.1" cy="147.0"/>
<circle class="k1" cx="998.0" cy="146.3"/>
<circle class="k20" cx="1261.7" cy="146.0"/>
<circle class="k1" cx="1011.2" cy="145.4"/>
<circle class="k23" cx="1286.4" cy="145.9"/>
<circle class="k23" cx="1329.6" cy="146.4"/>
<circle class="k0" cx="1070.5" cy="144.4"/>
<circle class="k0" cx="1080.2" cy="144.9"/>
<circle class="k15" cx="1205.7" cy="146.0"/>
<circle class="k0" cx="1067.3" cy="147.0"/>
<circle class="k0" cx="1073.3" cy="145.2"/>
<circle class="k12" cx="1168.5" cy="146.2"/>
<circle class="k0" cx="1003.9" cy="146.5"/>
<circle class="k0" cx="986.1" cy="146.5"/>
<circle class="k0" cx="976.4" cy="145.9"/>
<circle class="k22" cx="1327.3" cy="146.0"/>
<circle class="k10" cx="1134.8" cy="146.5"/>
<circle class="k15" cx="1225.7" cy="146.0"/>
<circle class="k11" cx="1161.3" cy="146.4"/>
<circle class="k0" cx="1077.8" cy="145.0"/>
<circle class="k19" cx="1237.0" cy="146.4"/>
<circle class="k0" cx="1029.2" cy="146.1"/>
<circle class="k9" cx="1154.1" cy="146.1"/>
<circle class="k0" cx="1055.7" cy="144.8"/>
<circle class="k23" cx="1275.0" cy="146.2"/>
<circle class="k0" cx="1052.8" cy="147.1"/>
<circle class="k23" cx="1332.8" cy="145.9"/>
<circle class="k0" cx="1071.5" cy="146.5"/>
<circle class="k13" cx="1202.4" cy="146.2"/>
<circle class="k0" cx="1037.3" cy="147.6"/>
<circle class="k9" cx="1113.9" cy="145.9"/>
<circle class="k12" cx="1199.7" cy="146.3"/>
<circle class="k23" cx="1380.5" cy="145.9"/>
<circle class="k0" cx="1027.7" cy="144.3"/>
<circle class="k0" cx="1040.3" cy="147.9"/>
<circle class="k0" cx="1049.2" cy="144.3"/>
<circle class="k14" cx="1223.6" cy="146.3"/>
<circle class="k23" cx="1279.3" cy="145.9"/>
<circle class="k1" cx="1062.0" cy="145.4"/>
<circle class="k0" cx="1047.6" cy="145.5"/>
<circle class="k0" cx="1035.1" cy="145.1"/>
<circle class="k23" cx="1289.6" cy="146.5"/>
<circle class="k1" cx="1088.2" cy="144.9"/>
<circle class="k10" cx="1192.6" cy="145.9"/>
<circle class="k19" cx="1252.5" cy="146.5"/>
<circle class="k11" cx="1190.1" cy="146.0"/>
<circle class="k0" cx="1007.5" cy="146.9"/>
<circle class="k22" cx="1386.3" cy="146.3"/>
<circle class="k22" cx="1276.5" cy="146.2"/>
<circle class="k0" cx="1047.2" cy="146.0"/>
<circle class="k0" cx="1065.5" cy="147.3"/>
<circle class="k0" cx="1070.9" cy="147.3"/>
<circle class="k13" cx="1185.2" cy="146.4"/>
<circle class="k23" cx="1305.9" cy="145.9"/>
<circle class="k1" cx="1073.5" cy="146.5"/>
<circle class="k0" cx="1052.8" cy="144.9"/>
<circle class="k23" cx="1292.5" cy="146.5"/>
<circle class="k1" cx="1021.8" cy="147.4"/>
<circle class="k0" cx="1051.9" cy="145.9"/>
<circle class="k0" cx="1055.7" cy="146.9"/>
<circle class="k0" cx="1044.3" cy="144.8"/>
<circle class="k3" cx="1064.0" cy="148.5"/>
<circle class="k23" cx="1447.5" cy="146.2"/>
<circle class="k1" cx="1040.8" cy="146.0"/>
<circle class="k23" cx="1302.4" cy="146.2"/>
<circle class="k1" cx="1056.2" cy="146.0"/>
<circle class="k1" cx="1037.7" cy="144.4"/>
<circle class="k1" cx="1059.5" cy="147.7"/>
<circle class="k0" cx="1037.7" cy="148.1"/>
<circle class="k0" cx="1073.3" cy="147.1"/>
<circle class="k11" cx="1178.2" cy="146.2"/>
<circle class="k0" cx="1012.7" cy="147.2"/>
<circle class="k0" cx="1059.5" cy="144.3"/>
<circle class="k0" cx="1052.3" cy="144.7"/>
<circle class="k0" cx="1049.2" cy="148.1"/>
<circle class="k0" cx="1035.6" cy="145.9"/>
<circle class="k1" cx="1031.6" cy="145.1"/>
<circle class="k13" cx="1182.0" cy="146.0"/>
<circle class="k5" cx="1100.8" cy="133.7"/>
<circle class="k6" cx="1100.4" cy="136.0"/>
<circle class="k6" cx="1100.6" cy="138.2"/>
<circle class="k4" cx="1100.4" cy="140.5"/>
<circle class="k5" cx="1101.1" cy="142.8"/>
<circle class="k4" cx="1100.5" cy="145.1"/>
<circle class="k6" cx="1100.9" cy="147.3"/>
<circle class="k5" cx="1100.3" cy="149.6"/>
<circle class="k5" cx="1101.0" cy="151.9"/>
<circle class="k5" cx="1100.5" cy="154.2"/>
<circle class="k5" cx="1101.1" cy="156.4"/>
<circle class="k6" cx="1100.8" cy="158.7"/>
<circle class="k21" cx="989.0" cy="180.1"/>
<circle class="k22" cx="943.3" cy="179.9"/>
<circle class="k23" cx="934.9" cy="180.1"/>
<circle class="k0" cx="1236.5" cy="179.9"/>
<circle class="k22" cx="910.5" cy="180.0"/>
<circle class="k18" cx="1012.2" cy="179.8"/>
<circle class="k6" cx="1129.9" cy="179.5"/>
<circle class="k6" cx="1135.1" cy="178.6"/>
<circle class="k7" cx="1115.6" cy="181.0"/>
<circle class="k1" cx="1169.6" cy="179.7"/>
<circle class="k0" cx="1232.4" cy="179.7"/>
<circle class="k2" cx="1147.2" cy="181.2"/>
<circle class="k11" cx="1087.0" cy="179.9"/>
<circle class="k19" cx="973.5" cy="179.9"/>
<circle class="k0" cx="1216.4" cy="179.8"/>
<circle class="k11" cx="1084.6" cy="179.7"/>
<circle class="k0" cx="1154.1" cy="180.7"/>
<circle class="k6" cx="1124.4" cy="177.7"/>
<circle class="k0" cx="1239.1" cy="179.5"/>
<circle class="k6" cx="1111.5" cy="179.9"/>
<circle class="k1" cx="1150.4" cy="180.6"/>
<circle class="k6" cx="1115.6" cy="178.7"/>
<circle class="k11" cx="1076.4" cy="179.8"/>
<circle class="k4" cx="1129.2" cy="178.9"/>
<circle class="k20" cx="983.9" cy="179.9"/>
<circle class="k5" cx="1137.7" cy="180.0"/>
<circle class="k2" cx="1150.4" cy="178.8"/>
<circle class="k3" cx="1118.2" cy="179.2"/>
<circle class="k22" cx="957.8" cy="179.9"/>
<circle class="k7" cx="1108.1" cy="179.8"/>
<circle class="k16" cx="1000.6" cy="179.7"/>
<circle class="k0" cx="1171.9" cy="179.9"/>
<circle class="k0" cx="1223.8" cy="179.8"/>
<circle class="k4" cx="1143.0" cy="178.9"/>
<circle class="k0" cx="1196.9" cy="180.1"/>
<circle class="k23" cx="916.0" cy="179.9"/>
<circle class="k23" cx="917.5" cy="179.5"/>
<circle class="k0" cx="1183.7" cy="179.9"/>
<circle class="k5" cx="1142.2" cy="181.8"/>
<circle class="k6" cx="1131.7" cy="178.6"/>
<circle class="k4" cx="1143.7" cy="179.9"/>
<circle class="k0" cx="1242.2" cy="180.1"/>
<circle class="k23" cx="921.1" cy="180.0"/>
<circle class="k7" cx="1118.2" cy="180.8"/>
<circle class="k1" cx="1179.8" cy="179.5"/>
<circle class="k1" cx="1221.2" cy="179.7"/>
<circle class="k5" cx="1124.9" cy="178.5"/>
<circle class="k23" cx="936.5" cy="179.8"/>
<circle class="k21" cx="986.2" cy="179.7"/>
<circle class="k6" cx="1128.0" cy="182.0"/>
<circle class="k23" cx="912.7" cy="179.9"/>
<circle class="k23" cx="940.0" cy="180.1"/>
<circle class="k0" cx="1174.5" cy="179.7"/>
<circle class="k0" cx="1145.0" cy="180.1"/>
<circle class="k23" cx="945.0" cy="179.5"/>
<circle class="k0" cx="1230.0" cy="179.7"/>
<circle class="k5" cx="1140.8" cy="181.1"/>
<circle class="k0" cx="1193.1" cy="179.5"/>
<circle class="k16" cx="1064.0" cy="179.8"/>
<circle class="k15" cx="1027.6" cy="179.8"/>
<circle class="k18" cx="1002.6" cy="179.5"/>
<circle class="k2" cx="1145.4" cy="181.6"/>
<circle class="k6" cx="1128.0" cy="177.7"/>
<circle class="k4" cx="1138.0" cy="177.7"/>
<circle class="k4" cx="1136.8" cy="180.8"/>
<circle class="k21" cx="1019.9" cy="179.5"/>
<circle class="k8" cx="1126.6" cy="180.0"/>
<circle class="k1" cx="1191.5" cy="179.5"/>
<circle class="k12" cx="1089.9" cy="179.5"/>
<circle class="k2" cx="1151.4" cy="179.8"/>
<circle class="k4" cx="1119.2" cy="179.8"/>
<circle class="k16" cx="1048.7" cy="179.7"/>
<circle class="k1" cx="1185.2" cy="180.1"/>
<circle class="k23" cx="963.5" cy="179.6"/>
<circle class="k0" cx="1164.1" cy="179.8"/>
<circle class="k23" cx="931.4" cy="179.7"/>
<circle class="k2" cx="1159.1" cy="180.1"/>
<circle class="k5" cx="1135.5" cy="177.8"/>
<circle class="k23" cx="929.6" cy="179.6"/>
<circle class="k6" cx="1140.8" cy="178.4"/>
<circle class="k6" cx="1131.7" cy="181.2"/>
<circle class="k2" cx="1156.5" cy="179.8"/>
<circle class="k19" cx="999.2" cy="179.6"/>
<circle class="k20" cx="1017.4" cy="179.5"/>
<circle class="k0" cx="1199.6" cy="179.5"/>
<circle class="k1" cx="1145.4" cy="177.6"/>
<circle class="k5" cx="1135.5" cy="181.6"/>
<circle class="k4" cx="1162.7" cy="179.6"/>
<circle class="k23" cx="961.1" cy="179.7"/>
<circle class="k20" cx="1015.6" cy="179.6"/>
<circle class="k7" cx="1124.4" cy="181.4"/>
<circle class="k13" cx="1079.1" cy="179.9"/>
<circle class="k7" cx="1114.0" cy="180.0"/>
<circle class="k5" cx="1129.2" cy="181.1"/>
<circle class="k7" cx="1115.8" cy="180.1"/>
<circle class="k4" cx="1122.9" cy="178.8"/>
<circle class="k23" cx="900.8" cy="179.8"/>
<circle class="k21" cx="982.5" cy="179.5"/>
<circle class="k20" cx="949.9" cy="179.7"/>
<circle class="k23" cx="954.7" cy="179.7"/>
<circle class="k7" cx="1135.1" cy="180.8"/>
<circle class="k21" cx="993.3" cy="180.0"/>
<circle class="k5" cx="1136.8" cy="179.2"/>
<circle class="k14" cx="1059.8" cy="179.9"/>
<circle class="k4" cx="1131.4" cy="179.8"/>
<circle class="k5" cx="1124.0" cy="179.9"/>
<circle class="k1" cx="1233.4" cy="179.7"/>
<circle class="k17" cx="1037.3" cy="179.5"/>
<circle class="k0" cx="1189.2" cy="179.8"/>
<circle class="k4" cx="1147.2" cy="179.1"/>
<circle class="k1" cx="1201.3" cy="180.1"/>
<circle class="k22" cx="924.8" cy="179.5"/>
<circle class="k17" cx="1040.6" cy="180.1"/>
<circle class="k3" cx="1138.0" cy="181.5"/>
<circle class="k5" cx="1142.2" cy="178.0"/>
<circle class="k2" cx="1148.8" cy="179.8"/>
<circle class="k9" cx="1124.9" cy="181.1"/>
<circle class="k17" cx="1044.9" cy="180.0"/>
<circle class="k22" cx="996.3" cy="179.8"/>
<circle class="k0" cx="1178.8" cy="179.5"/>
<circle class="k7" cx="1131.6" cy="177.8"/>
<circle class="k7" cx="1135.7" cy="179.8"/>
<circle class="k15" cx="1057.9" cy="180.0"/>
<circle class="k0" cx="1219.5" cy="179.8"/>
<circle class="k15" cx="1043.9" cy="179.6"/>
<circle class="k0" cx="1227.5" cy="180.0"/>
<circle class="k3" cx="1143.0" cy="180.9"/>
<circle class="k3" cx="1166.5" cy="179.5"/>
<circle class="k22" cx="952.6" cy="179.9"/>
<circle class="k17" cx="1008.8" cy="180.0"/>
<circle class="k7" cx="1121.7" cy="180.0"/>
<circle class="k1" cx="1152.9" cy="179.9"/>
<circle class="k0" cx="1207.2" cy="179.5"/>
<circle class="k22" cx="979.9" cy="179.6"/>
<circle class="k6" cx="1122.9" cy="180.5"/>
<circle class="k11" cx="1081.9" cy="179.6"/>
<circle class="k19" cx="975.4" cy="179.5"/>
<circle class="k23" cx="926.4" cy="179.7"/>
<circle class="k19" cx="1005.6" cy="179.9"/>
<circle class="k6" cx="1131.6" cy="181.7"/>
<circle class="k4" cx="1204.5" cy="179.6"/>
<circle class="k6" cx="1140.6" cy="180.1"/>
<circle class="k0" cx="1154.1" cy="178.8"/>
<circle class="k23" cx="948.3" cy="180.0"/>
<circle class="k7" cx="1100.4" cy="167.3"/>
<circle class="k8" cx="1100.6" cy="169.6"/>
<circle class="k7" cx="1100.4" cy="171.8"/>
<circle class="k7" cx="1100.9" cy="174.1"/>
<circle class="k8" cx="1100.7" cy="176.4"/>
<circle class="k8" cx="1100.7" cy="178.7"/>
<circle class="k7" cx="1101.0" cy="180.9"/>
<circle class="k8" cx="1101.1" cy="183.2"/>
<circle class="k7" cx="1101.0" cy="185.5"/>
<circle class="k7" cx="1100.4" cy="187.8"/>
<circle class="k8" cx="1100.5" cy="190.0"/>
<circle class="k8" cx="1100.7" cy="192.3"/>
<circle class="k6" cx="1129.1" cy="215.2"/>
<circle class="k5" cx="1114.1" cy="213.5"/>
<circle class="k23" cx="955.3" cy="213.7"/>
<circle class="k5" cx="1137.8" cy="211.7"/>
<circle class="k23" cx="982.3" cy="213.3"/>
<circle class="k7" cx="1128.9" cy="213.2"/>
<circle class="k22" cx="1008.8" cy="213.4"/>
<circle class="k15" cx="1062.4" cy="213.2"/>
<circle class="k0" cx="1177.4" cy="213.3"/>
<circle class="k22" cx="931.4" cy="213.7"/>
<circle class="k0" cx="1272.0" cy="213.5"/>
<circle class="k4" cx="1140.8" cy="214.0"/>
<circle class="k15" cx="1056.8" cy="213.6"/>
<circle class="k5" cx="1137.8" cy="215.5"/>
<circle class="k5" cx="1132.8" cy="214.4"/>
<circle class="k4" cx="1128.5" cy="214.2"/>
<circle class="k14" cx="1054.3" cy="213.6"/>
<circle class="k1" cx="1231.4" cy="213.1"/>
<circle class="k14" cx="1092.0" cy="213.4"/>
<circle class="k23" cx="866.2" cy="213.4"/>
<circle class="k5" cx="1126.5" cy="215.6"/>
<circle class="k14" cx="1026.3" cy="213.2"/>
<circle class="k0" cx="1199.0" cy="213.6"/>
<circle class="k1" cx="1165.0" cy="213.1"/>
<circle class="k7" cx="1110.8" cy="213.3"/>
<circle class="k15" cx="1083.0" cy="213.3"/>
<circle class="k1" cx="1166.0" cy="213.5"/>
<circle class="k7" cx="1121.9" cy="213.3"/>
<circle class="k22" cx="984.7" cy="213.5"/>
<circle class="k15" cx="1032.9" cy="213.6"/>
<circle class="k23" cx="952.3" cy="213.2"/>
<circle class="k23" cx="925.7" cy="213.4"/>
<circle class="k7" cx="1123.9" cy="213.5"/>
<circle class="k15" cx="1038.2" cy="213.5"/>
<circle class="k1" cx="1260.7" cy="213.4"/>
<circle class="k0" cx="1273.6" cy="213.3"/>
<circle class="k0" cx="1155.7" cy="213.4"/>
<circle class="k5" cx="1116.7" cy="213.6"/>
<circle class="k7" cx="1132.8" cy="212.4"/>
<circle class="k13" cx="1068.5" cy="213.1"/>
<circle class="k23" cx="878.6" cy="213.4"/>
<circle class="k14" cx="1073.5" cy="213.6"/>
<circle class="k6" cx="1132.1" cy="215.4"/>
<circle class="k7" cx="1120.7" cy="212.7"/>
<circle class="k8" cx="1134.5" cy="213.5"/>
<circle class="k6" cx="1141.5" cy="215.6"/>
<circle class="k1" cx="1154.0" cy="213.4"/>
<circle class="k5" cx="1134.8" cy="211.3"/>
<circle class="k23" cx="947.8" cy="213.3"/>
<circle class="k14" cx="1049.0" cy="213.1"/>
<circle class="k1" cx="1229.0" cy="213.2"/>
<circle class="k23" cx="980.2" cy="213.5"/>
<circle class="k23" cx="883.5" cy="213.4"/>
<circle class="k0" cx="1185.3" cy="213.4"/>
<circle class="k0" cx="1249.3" cy="213.4"/>
<circle class="k14" cx="1050.9" cy="213.3"/>
<circle class="k5" cx="1139.0" cy="214.7"/>
<circle class="k5" cx="1145.7" cy="213.1"/>
<circle class="k5" cx="1139.0" cy="212.6"/>
<circle class="k5" cx="1126.5" cy="211.3"/>
<circle class="k23" cx="927.6" cy="213.5"/>
<circle class="k3" cx="1161.0" cy="213.6"/>
<circle class="k0" cx="1251.3" cy="213.1"/>
<circle class="k6" cx="1122.1" cy="212.3"/>
<circle class="k0" cx="1224.9" cy="213.1"/>
<circle class="k0" cx="1173.1" cy="213.4"/>
<circle class="k5" cx="1142.2" cy="213.3"/>
<circle class="k15" cx="1064.3" cy="213.2"/>
<circle class="k4" cx="1150.2" cy="213.3"/>
<circle class="k0" cx="1206.7" cy="213.4"/>
<circle class="k15" cx="1070.2" cy="213.3"/>
<circle class="k1" cx="1169.9" cy="213.4"/>
<circle class="k3" cx="1158.5" cy="213.7"/>
<circle class="k7" cx="1124.9" cy="212.8"/>
<circle class="k5" cx="1137.3" cy="213.3"/>
<circle class="k15" cx="1046.1" cy="213.7"/>
<circle class="k14" cx="1025.3" cy="213.6"/>
<circle class="k18" cx="1040.2" cy="213.6"/>
<circle class="k0" cx="1187.3" cy="213.4"/>
<circle class="k5" cx="1144.5" cy="212.3"/>
<circle class="k15" cx="1043.2" cy="213.7"/>
<circle class="k4" cx="1147.2" cy="213.6"/>
<circle class="k22" cx="1005.1" cy="213.6"/>
<circle class="k6" cx="1128.5" cy="212.3"/>
<circle class="k14" cx="1089.3" cy="213.5"/>
<circle class="k4" cx="1120.7" cy="214.7"/>
<circle class="k23" cx="917.9" cy="213.5"/>
<circle class="k23" cx="958.2" cy="213.1"/>
<circle class="k22" cx="923.5" cy="213.4"/>
<circle class="k21" cx="972.3" cy="213.6"/>
<circle class="k14" cx="1080.5" cy="213.1"/>
<circle class="k0" cx="1183.2" cy="213.7"/>
<circle class="k14" cx="1087.5" cy="213.7"/>
<circle class="k0" cx="1190.8" cy="213.4"/>
<circle class="k14" cx="1021.7" cy="213.4"/>
<circle class="k0" cx="1174.3" cy="213.6"/>
<circle class="k7" cx="1135.0" cy="214.2"/>
<circle class="k15" cx="1078.4" cy="213.4"/>
<circle class="k23" cx="920.4" cy="213.5"/>
<circle class="k23" cx="941.8" cy="213.7"/>
<circle class="k23" cx="987.2" cy="213.4"/>
<circle class="k0" cx="1258.4" cy="213.5"/>
<circle class="k5" cx="1108.1" cy="213.3"/>
<circle class="k7" cx="1132.1" cy="211.4"/>
<circle class="k8" cx="1126.9" cy="213.7"/>
<circle class="k23" cx="989.7" cy="213.3"/>
<circle class="k0" cx="1193.4" cy="213.6"/>
<circle class="k0" cx="1234.0" cy="213.6"/>
<circle class="k6" cx="1129.1" cy="211.1"/>
<circle class="k22" cx="975.6" cy="213.7"/>
<circle class="k0" cx="1277.2" cy="213.5"/>
<circle class="k8" cx="1131.9" cy="213.7"/>
<circle class="k23" cx="993.2" cy="213.7"/>
<circle class="k6" cx="1140.8" cy="212.2"/>
<circle class="k13" cx="1034.8" cy="213.4"/>
<circle class="k0" cx="1223.0" cy="213.6"/>
<circle class="k4" cx="1147.5" cy="212.5"/>
<circle class="k4" cx="1144.5" cy="214.4"/>
<circle class="k0" cx="1180.9" cy="213.4"/>
<circle class="k23" cx="1003.6" cy="213.6"/>
<circle class="k8" cx="1118.0" cy="213.3"/>
<circle class="k22" cx="976.8" cy="213.1"/>
<circle class="k0" cx="1254.1" cy="213.5"/>
<circle class="k0" cx="1220.5" cy="213.6"/>
<circle class="k4" cx="1139.1" cy="213.5"/>
<circle class="k0" cx="1196.8" cy="213.5"/>
<circle class="k7" cx="1135.0" cy="212.0"/>
<circle class="k23" cx="903.3" cy="213.4"/>
<circle class="k6" cx="1134.8" cy="215.5"/>
<circle class="k3" cx="1147.5" cy="214.3"/>
<circle class="k23" cx="969.4" cy="213.6"/>
<circle class="k15" cx="1029.9" cy="213.2"/>
<circle class="k22" cx="945.4" cy="213.3"/>
<circle class="k15" cx="1018.8" cy="213.4"/>
<circle class="k7" cx="1122.1" cy="214.4"/>
<circle class="k14" cx="1058.8" cy="213.1"/>
<circle class="k23" cx="949.8" cy="213.3"/>
<circle class="k4" cx="1141.5" cy="211.5"/>
<circle class="k16" cx="1075.7" cy="213.4"/>
<circle class="k7" cx="1124.9" cy="214.2"/>
<circle class="k8" cx="1100.6" cy="200.9"/>
<circle class="k8" cx="1100.6" cy="203.2"/>
<circle class="k10" cx="1100.6" cy="205.4"/>
<circle class="k9" cx="1100.8" cy="207.7"/>
<circle class="k8" cx="1100.9" cy="210.0"/>
<circle class="k7" cx="1100.6" cy="212.3"/>
<circle class="k9" cx="1100.5" cy="214.5"/>
<circle class="k11" cx="1101.1" cy="216.8"/>
<circle class="k8" cx="1101.0" cy="219.1"/>
<circle class="k9" cx="1100.5" cy="221.4"/>
<circle class="k9" cx="1100.4" cy="223.6"/>
<circle class="k9" cx="1100.6" cy="225.9"/>
<circle class="k9" cx="1045.6" cy="247.1"/>
<circle class="k14" cx="1123.7" cy="246.9"/>
<circle class="k0" cx="943.5" cy="247.1"/>
<circle class="k2" cx="947.0" cy="247.0"/>
<circle class="k21" cx="1198.0" cy="246.9"/>
<circle class="k10" cx="1051.9" cy="247.1"/>
<circle class="k1" cx="956.2" cy="247.3"/>
<circle class="k7" cx="1040.1" cy="246.9"/>
<circle class="k0" cx="1011.4" cy="246.9"/>
<circle class="k22" cx="1238.2" cy="247.0"/>
<circle class="k22" cx="1268.5" cy="247.1"/>
<circle class="k21" cx="1271.3" cy="247.1"/>
<circle class="k23" cx="1251.3" cy="247.0"/>
<circle class="k21" cx="1257.9" cy="247.0"/>
<circle class="k23" cx="1262.8" cy="246.8"/>
<circle class="k21" cx="1239.9" cy="247.0"/>
<circle class="k1" cx="968.8" cy="247.0"/>
<circle class="k12" cx="1088.5" cy="247.2"/>
<circle class="k2" cx="1008.8" cy="247.3"/>
<circle class="k20" cx="1276.6" cy="246.8"/>
<circle class="k0" cx="965.9" cy="247.3"/>
<circle class="k6" cx="1035.3" cy="247.2"/>
<circle class="k12" cx="1086.6" cy="246.9"/>
<circle class="k0" cx="877.8" cy="247.0"/>
<circle class="k11" cx="1077.6" cy="246.9"/>
<circle class="k1" cx="922.5" cy="246.9"/>
<circle class="k0" cx="1019.6" cy="247.2"/>
<circle class="k20" cx="1212.9" cy="247.1"/>
<circle class="k23" cx="1304.9" cy="247.3"/>
<circle class="k17" cx="1219.8" cy="246.9"/>
<circle class="k11" cx="1057.5" cy="247.2"/>
<circle class="k14" cx="1111.5" cy="247.1"/>
<circle class="k0" cx="989.1" cy="246.7"/>
<circle class="k22" cx="1266.6" cy="247.3"/>
<circle class="k0" cx="948.6" cy="247.3"/>
<circle class="k13" cx="1133.2" cy="247.3"/>
<circle class="k5" cx="1027.7" cy="247.0"/>
<circle class="k20" cx="1175.7" cy="246.8"/>
<circle class="k14" cx="1130.2" cy="247.1"/>
<circle class="k18" cx="1184.9" cy="247.3"/>
<circle class="k22" cx="1245.6" cy="247.3"/>
<circle class="k0" cx="959.3" cy="246.8"/>
<circle class="k21" cx="1189.7" cy="246.9"/>
<circle class="k13" cx="1127.0" cy="246.8"/>
<circle class="k17" cx="1170.1" cy="246.8"/>
<circle class="k14" cx="1143.4" cy="246.8"/>
<circle class="k9" cx="1083.4" cy="246.9"/>
<circle class="k14" cx="1118.6" cy="246.9"/>
<circle class="k23" cx="1272.8" cy="246.8"/>
<circle class="k14" cx="1105.0" cy="246.9"/>
<circle class="k0" cx="999.6" cy="247.3"/>
<circle class="k0" cx="996.6" cy="246.7"/>
<circle class="k12" cx="1076.6" cy="247.3"/>
<circle class="k0" cx="979.2" cy="247.3"/>
<circle class="k18" cx="1182.2" cy="247.3"/>
<circle class="k9" cx="1062.6" cy="247.1"/>
<circle class="k20" cx="1211.5" cy="247.0"/>
<circle class="k23" cx="1279.3" cy="247.2"/>
<circle class="k0" cx="927.4" cy="246.8"/>
<circle class="k8" cx="1049.2" cy="247.3"/>
<circle class="k0" cx="995.5" cy="246.9"/>
<circle class="k10" cx="1092.0" cy="247.0"/>
<circle class="k17" cx="1195.6" cy="247.3"/>
<circle class="k2" cx="920.0" cy="247.3"/>
<circle class="k15" cx="1148.8" cy="246.8"/>
<circle class="k14" cx="1114.0" cy="246.8"/>
<circle class="k23" cx="1308.1" cy="246.8"/>
<circle class="k0" cx="924.2" cy="247.0"/>
<circle class="k0" cx="951.2" cy="247.0"/>
<circle class="k2" cx="1022.1" cy="247.0"/>
<circle class="k20" cx="1229.9" cy="246.7"/>
<circle class="k2" cx="1023.7" cy="246.7"/>
<circle class="k0" cx="970.0" cy="247.3"/>
<circle class="k13" cx="1140.0" cy="247.1"/>
<circle class="k15" cx="1156.3" cy="247.1"/>
<circle class="k15" cx="1161.4" cy="246.7"/>
<circle class="k22" cx="1254.5" cy="246.8"/>
<circle class="k0" cx="891.7" cy="247.0"/>
<circle class="k10" cx="1058.6" cy="246.9"/>
<circle class="k1" cx="987.7" cy="247.2"/>
<circle class="k5" cx="1037.6" cy="246.7"/>
<circle class="k0" cx="932.3" cy="247.1"/>
<circle class="k23" cx="1250.2" cy="247.3"/>
<circle class="k21" cx="1202.2" cy="247.1"/>
<circle class="k17" cx="1173.5" cy="246.7"/>
<circle class="k0" cx="1016.9" cy="246.9"/>
<circle class="k16" cx="1116.5" cy="247.2"/>
<circle class="k16" cx="1165.2" cy="246.8"/>
<circle class="k1" cx="1005.9" cy="247.0"/>
<circle class="k20" cx="1216.2" cy="247.3"/>
<circle class="k0" cx="984.8" cy="246.8"/>
<circle class="k9" cx="1068.1" cy="247.3"/>
<circle class="k0" cx="904.1" cy="247.0"/>
<circle class="k16" cx="1103.2" cy="247.0"/>
<circle class="k19" cx="1179.7" cy="246.7"/>
<circle class="k23" cx="1243.7" cy="246.9"/>
<circle class="k23" cx="1260.0" cy="247.2"/>
<circle class="k19" cx="1185.9" cy="246.9"/>
<circle class="k0" cx="1014.7" cy="247.3"/>
<circle class="k1" cx="972.8" cy="246.8"/>
<circle class="k8" cx="1055.1" cy="247.3"/>
<circle class="k0" cx="953.5" cy="246.7"/>
<circle class="k19" cx="1208.8" cy="247.1"/>
<circle class="k15" cx="1136.3" cy="246.7"/>
<circle class="k9" cx="1032.4" cy="246.8"/>
<circle class="k0" cx="981.5" cy="247.1"/>
<circle class="k19" cx="1222.4" cy="246.9"/>
<circle class="k14" cx="1138.0" cy="246.7"/>
<circle class="k14" cx="1168.3" cy="247.2"/>
<circle class="k18" cx="1159.7" cy="247.2"/>
<circle class="k11" cx="1073.9" cy="247.1"/>
<circle class="k9" cx="1064.9" cy="246.8"/>
<circle class="k0" cx="963.1" cy="246.8"/>
<circle class="k16" cx="1122.9" cy="247.3"/>
<circle class="k10" cx="1080.9" cy="247.1"/>
<circle class="k14" cx="1146.8" cy="247.0"/>
<circle class="k0" cx="935.5" cy="246.9"/>
<circle class="k0" cx="1003.0" cy="247.1"/>
<circle class="k15" cx="1152.4" cy="247.2"/>
<circle class="k4" cx="1029.3" cy="247.3"/>
<circle class="k16" cx="1109.5" cy="247.3"/>
<circle class="k10" cx="1042.9" cy="247.0"/>
<circle class="k23" cx="1302.8" cy="246.9"/>
<circle class="k0" cx="931.4" cy="246.8"/>
<circle class="k19" cx="1226.9" cy="247.3"/>
<circle class="k19" cx="1225.2" cy="247.0"/>
<circle class="k15" cx="1155.2" cy="247.2"/>
<circle class="k11" cx="1069.3" cy="247.0"/>
<circle class="k19" cx="1204.9" cy="247.2"/>
<circle class="k16" cx="1192.9" cy="247.1"/>
<circle class="k20" cx="1201.2" cy="247.3"/>
<circle class="k0" cx="991.0" cy="247.0"/>
<circle class="k0" cx="976.7" cy="247.1"/>
<circle class="k13" cx="1101.1" cy="234.5"/>
<circle class="k10" cx="1100.8" cy="236.8"/>
<circle class="k12" cx="1100.9" cy="239.0"/>
<circle class="k11" cx="1100.9" cy="241.3"/>
<circle class="k14" cx="1100.3" cy="243.6"/>
<circle class="k11" cx="1100.7" cy="245.9"/>
<circle class="k13" cx="1100.6" cy="248.1"/>
<circle class="k14" cx="1101.0" cy="250.4"/>
<circle class="k12" cx="1100.5" cy="252.7"/>
<circle class="k13" cx="1100.6" cy="255.0"/>
<circle class="k12" cx="1100.3" cy="257.2"/>
<circle class="k11" cx="1101.0" cy="259.5"/>
<circle class="k20" cx="1172.3" cy="280.5"/>
<circle class="k23" cx="1206.5" cy="280.8"/>
<circle class="k14" cx="1143.1" cy="280.7"/>
<circle class="k1" cx="943.6" cy="280.4"/>
<circle class="k15" cx="1149.0" cy="280.9"/>
<circle class="k9" cx="1047.1" cy="280.3"/>
<circle class="k9" cx="1043.8" cy="280.4"/>
<circle class="k13" cx="1075.3" cy="280.8"/>
<circle class="k23" cx="1196.9" cy="280.6"/>
<circle class="k11" cx="1068.2" cy="281.4"/>
<circle class="k12" cx="1072.7" cy="279.0"/>
<circle class="k23" cx="1276.6" cy="280.6"/>
<circle class="k23" cx="1229.9" cy="280.4"/>
<circle class="k20" cx="1159.6" cy="280.7"/>
<circle class="k7" cx="1025.7" cy="280.7"/>
<circle class="k23" cx="1186.4" cy="280.7"/>
<circle class="k0" cx="1001.3" cy="280.8"/>
<circle class="k0" cx="990.9" cy="280.3"/>
<circle class="k0" cx="949.9" cy="280.7"/>
<circle class="k0" cx="992.9" cy="280.3"/>
<circle class="k23" cx="1200.5" cy="280.8"/>
<circle class="k20" cx="1166.1" cy="280.7"/>
<circle class="k20" cx="1168.8" cy="280.3"/>
<circle class="k12" cx="1087.4" cy="280.9"/>
<circle class="k11" cx="1076.8" cy="282.7"/>
<circle class="k5" cx="1023.2" cy="280.8"/>
<circle class="k0" cx="941.8" cy="280.6"/>
<circle class="k7" cx="1031.5" cy="280.4"/>
<circle class="k22" cx="1297.1" cy="280.5"/>
<circle class="k21" cx="1245.2" cy="280.8"/>
<circle class="k8" cx="1039.6" cy="280.8"/>
<circle class="k18" cx="1178.1" cy="280.5"/>
<circle class="k14" cx="1150.8" cy="280.7"/>
<circle class="k22" cx="1303.2" cy="280.6"/>
<circle class="k0" cx="893.8" cy="280.6"/>
<circle class="k23" cx="1215.4" cy="280.5"/>
<circle class="k0" cx="923.9" cy="280.6"/>
<circle class="k23" cx="1305.2" cy="280.8"/>
<circle class="k21" cx="1157.1" cy="280.3"/>
<circle class="k11" cx="1103.2" cy="280.6"/>
<circle class="k23" cx="1221.8" cy="280.4"/>
<circle class="k9" cx="1080.7" cy="281.9"/>
<circle class="k15" cx="1128.3" cy="280.8"/>
<circle class="k0" cx="970.1" cy="280.9"/>
<circle class="k8" cx="1040.8" cy="280.3"/>
<circle class="k15" cx="1131.8" cy="280.7"/>
<circle class="k0" cx="977.4" cy="280.7"/>
<circle class="k14" cx="1146.3" cy="280.8"/>
<circle class="k0" cx="971.8" cy="280.3"/>
<circle class="k23" cx="1213.5" cy="280.8"/>
<circle class="k6" cx="1035.9" cy="280.6"/>
<circle class="k0" cx="985.7" cy="280.8"/>
<circle class="k16" cx="1138.0" cy="280.4"/>
<circle class="k14" cx="1078.4" cy="278.4"/>
<circle class="k23" cx="1301.2" cy="280.7"/>
<circle class="k23" cx="1219.1" cy="280.5"/>
<circle class="k0" cx="1004.0" cy="280.6"/>
<circle class="k1" cx="963.3" cy="280.5"/>
<circle class="k11" cx="1084.6" cy="281.7"/>
<circle class="k14" cx="1140.6" cy="280.6"/>
<circle class="k11" cx="1061.2" cy="281.3"/>
<circle class="k22" cx="1248.4" cy="280.8"/>
<circle class="k8" cx="1068.2" cy="279.5"/>
<circle class="k14" cx="1114.3" cy="280.3"/>
<circle class="k0" cx="994.9" cy="280.5"/>
<circle class="k8" cx="1048.6" cy="280.7"/>
<circle class="k10" cx="1078.4" cy="282.2"/>
<circle class="k10" cx="1059.9" cy="280.9"/>
<circle class="k9" cx="1062.3" cy="280.9"/>
<circle class="k9" cx="1055.5" cy="280.5"/>
<circle class="k15" cx="1106.5" cy="280.6"/>
<circle class="k23" cx="1241.8" cy="280.5"/>
<circle class="k10" cx="1061.2" cy="279.9"/>
<circle class="k10" cx="1084.2" cy="280.7"/>
<circle class="k21" cx="1194.8" cy="280.3"/>
<circle class="k23" cx="1259.6" cy="280.9"/>
<circle class="k10" cx="1075.3" cy="281.3"/>
<circle class="k23" cx="1335.5" cy="280.6"/>
<circle class="k0" cx="975.1" cy="280.9"/>
<circle class="k8" cx="1034.3" cy="280.3"/>
<circle class="k22" cx="1266.9" cy="280.5"/>
<circle class="k0" cx="1011.7" cy="280.6"/>
<circle class="k0" cx="980.1" cy="280.7"/>
<circle class="k12" cx="1072.7" cy="282.9"/>
<circle class="k15" cx="1119.9" cy="280.7"/>
<circle class="k19" cx="1175.3" cy="280.9"/>
<circle class="k9" cx="1071.3" cy="280.4"/>
<circle class="k12" cx="1071.4" cy="279.4"/>
<circle class="k11" cx="1067.7" cy="280.6"/>
<circle class="k22" cx="1226.3" cy="280.3"/>
<circle class="k0" cx="981.8" cy="280.7"/>
<circle class="k12" cx="1078.3" cy="280.5"/>
<circle class="k8" cx="1071.4" cy="281.5"/>
<circle class="k13" cx="1134.7" cy="280.6"/>
<circle class="k1" cx="1005.6" cy="280.3"/>
<circle class="k0" cx="967.4" cy="280.5"/>
<circle class="k10" cx="1088.4" cy="280.9"/>
<circle class="k10" cx="1076.8" cy="278.4"/>
<circle class="k22" cx="1262.4" cy="280.4"/>
<circle class="k16" cx="1109.5" cy="280.9"/>
<circle class="k1" cx="999.4" cy="280.3"/>
<circle class="k22" cx="1170.4" cy="280.5"/>
<circle class="k23" cx="1192.2" cy="280.7"/>
<circle class="k12" cx="1077.3" cy="281.3"/>
<circle class="k12" cx="1070.7" cy="278.9"/>
<circle class="k11" cx="1058.1" cy="280.4"/>
<circle class="k22" cx="1292.6" cy="280.3"/>
<circle class="k13" cx="1092.0" cy="280.4"/>
<circle class="k0" cx="904.1" cy="280.6"/>
<circle class="k23" cx="1224.1" cy="280.3"/>
<circle class="k10" cx="1053.1" cy="280.3"/>
<circle class="k11" cx="1065.6" cy="279.7"/>
<circle class="k0" cx="1010.0" cy="280.3"/>
<circle class="k9" cx="1070.7" cy="282.2"/>
<circle class="k22" cx="1183.5" cy="280.9"/>
<circle class="k20" cx="1162.5" cy="280.8"/>
<circle class="k1" cx="946.4" cy="280.3"/>
<circle class="k9" cx="1066.1" cy="282.7"/>
<circle class="k19" cx="1188.5" cy="280.7"/>
<circle class="k3" cx="961.2" cy="280.4"/>
<circle class="k23" cx="1239.0" cy="280.3"/>
<circle class="k20" cx="1181.2" cy="280.3"/>
<circle class="k5" cx="1028.1" cy="280.5"/>
<circle class="k14" cx="1129.6" cy="280.3"/>
<circle class="k9" cx="1065.6" cy="281.6"/>
<circle class="k11" cx="1077.3" cy="279.8"/>
<circle class="k9" cx="1080.9" cy="280.4"/>
<circle class="k13" cx="1110.2" cy="280.8"/>
<circle class="k15" cx="1124.2" cy="280.4"/>
<circle class="k8" cx="1064.7" cy="280.5"/>
<circle class="k23" cx="1210.0" cy="280.9"/>
<circle class="k14" cx="1122.8" cy="280.3"/>
<circle class="k0" cx="988.6" cy="280.3"/>
<circle class="k23" cx="1263.8" cy="280.6"/>
<circle class="k9" cx="1072.4" cy="280.5"/>
<circle class="k10" cx="1084.6" cy="279.4"/>
<circle class="k23" cx="1204.0" cy="280.6"/>
<circle class="k12" cx="1066.1" cy="278.4"/>
<circle class="k9" cx="1075.3" cy="280.0"/>
<circle class="k14" cx="1117.5" cy="280.8"/>
<circle class="k22" cx="1295.7" cy="280.4"/>
<circle class="k4" cx="1020.0" cy="280.3"/>
<circle class="k11" cx="1080.7" cy="279.3"/>
<circle class="k19" cx="1154.5" cy="280.7"/>
<circle class="k21" cx="1208.0" cy="280.4"/>
<circle class="k13" cx="1100.6" cy="268.1"/>
<circle class="k14" cx="1100.9" cy="270.4"/>
<circle class="k10" cx="1101.0" cy="272.6"/>
<circle class="k12" cx="1100.7" cy="274.9"/>
<circle class="k14" cx="1100.9" cy="277.2"/>
<circle class="k12" cx="1101.0" cy="279.5"/>
<circle class="k14" cx="1100.9" cy="281.7"/>
<circle class="k12" cx="1100.6" cy="284.0"/>
<circle class="k13" cx="1100.9" cy="286.3"/>
<circle class="k11" cx="1100.8" cy="288.6"/>
<circle class="k13" cx="1100.3" cy="290.8"/>
<circle class="k12" cx="1100.6" cy="293.1"/>
<circle class="k9" cx="1037.3" cy="313.3"/>
<circle class="k5" cx="1021.2" cy="314.9"/>
<circle class="k16" cx="1160.9" cy="314.0"/>
<circle class="k6" cx="1025.0" cy="313.1"/>
<circle class="k10" cx="1050.5" cy="316.4"/>
<circle class="k23" cx="1207.3" cy="314.2"/>
<circle class="k21" cx="1278.0" cy="314.1"/>
<circle class="k23" cx="1249.3" cy="314.2"/>
<circle class="k23" cx="1208.4" cy="314.3"/>
<circle class="k17" cx="1162.3" cy="314.3"/>
<circle class="k15" cx="1168.8" cy="314.4"/>
<circle class="k18" cx="1186.7" cy="314.4"/>
<circle class="k14" cx="1170.3" cy="314.4"/>
<circle class="k23" cx="1259.9" cy="314.0"/>
<circle class="k17" cx="1180.0" cy="314.4"/>
<circle class="k23" cx="1297.8" cy="314.2"/>
<circle class="k8" cx="1043.5" cy="315.7"/>
<circle class="k11" cx="1067.0" cy="314.3"/>
<circle class="k3" cx="997.7" cy="314.4"/>
<circle class="k14" cx="1151.5" cy="314.3"/>
<circle class="k10" cx="1052.9" cy="315.2"/>
<circle class="k15" cx="1146.0" cy="313.9"/>
<circle class="k21" cx="1293.5" cy="314.4"/>
<circle class="k14" cx="1154.5" cy="314.3"/>
<circle class="k23" cx="1231.6" cy="314.5"/>
<circle class="k22" cx="1251.6" cy="314.1"/>
<circle class="k11" cx="1083.1" cy="314.5"/>
<circle class="k6" cx="1033.1" cy="316.1"/>
<circle class="k23" cx="1234.0" cy="314.5"/>
<circle class="k0" cx="990.1" cy="314.2"/>
<circle class="k10" cx="1050.4" cy="314.3"/>
<circle class="k6" cx="1022.1" cy="314.1"/>
<circle class="k8" cx="1037.3" cy="315.6"/>
<circle class="k11" cx="1081.9" cy="314.1"/>
<circle class="k23" cx="1272.8" cy="314.1"/>
<circle class="k15" cx="1122.4" cy="314.4"/>
<circle class="k7" cx="1056.1" cy="314.2"/>
<circle class="k6" cx="1033.1" cy="311.9"/>
<circle class="k11" cx="1089.8" cy="314.5"/>
<circle class="k9" cx="1040.2" cy="312.9"/>
<circle class="k8" cx="1052.9" cy="312.9"/>
<circle class="k1" cx="1008.5" cy="314.2"/>
<circle class="k8" cx="1044.7" cy="313.9"/>
<circle class="k22" cx="1196.9" cy="314.5"/>
<circle class="k13" cx="1115.1" cy="313.9"/>
<circle class="k14" cx="1110.3" cy="313.9"/>
<circle class="k23" cx="1276.2" cy="314.2"/>
<circle class="k21" cx="1215.1" cy="314.4"/>
<circle class="k0" cx="957.6" cy="314.2"/>
<circle class="k23" cx="1295.8" cy="314.3"/>
<circle class="k6" cx="1039.2" cy="312.1"/>
<circle class="k23" cx="1326.6" cy="314.1"/>
<circle class="k7" cx="1040.9" cy="314.3"/>
<circle class="k4" cx="1025.0" cy="315.4"/>
<circle class="k8" cx="1034.3" cy="315.2"/>
<circle class="k8" cx="1055.7" cy="313.0"/>
<circle class="k1" cx="998.7" cy="314.4"/>
<circle class="k11" cx="1064.6" cy="314.5"/>
<circle class="k8" cx="1037.1" cy="312.2"/>
<circle class="k16" cx="1157.7" cy="314.0"/>
<circle class="k6" cx="1030.3" cy="315.9"/>
<circle class="k23" cx="1204.0" cy="313.9"/>
<circle class="k23" cx="1225.1" cy="313.9"/>
<circle class="k7" cx="1022.8" cy="313.9"/>
<circle class="k21" cx="1221.1" cy="314.2"/>
<circle class="k11" cx="1092.0" cy="314.5"/>
<circle class="k23" cx="1303.2" cy="314.2"/>
<circle class="k19" cx="1177.7" cy="314.0"/>
<circle class="k18" cx="1185.2" cy="314.0"/>
<circle class="k0" cx="969.1" cy="314.2"/>
<circle class="k13" cx="1173.7" cy="314.5"/>
<circle class="k5" cx="1030.3" cy="312.3"/>
<circle class="k23" cx="1306.3" cy="314.2"/>
<circle class="k7" cx="1055.7" cy="314.9"/>
<circle class="k21" cx="1213.0" cy="314.0"/>
<circle class="k6" cx="1031.4" cy="314.8"/>
<circle class="k12" cx="1103.2" cy="314.5"/>
<circle class="k8" cx="1043.5" cy="312.6"/>
<circle class="k23" cx="1256.5" cy="314.5"/>
<circle class="k22" cx="1290.5" cy="314.4"/>
<circle class="k6" cx="1028.3" cy="313.3"/>
<circle class="k0" cx="983.0" cy="314.5"/>
<circle class="k15" cx="1150.6" cy="313.9"/>
<circle class="k10" cx="1053.0" cy="314.1"/>
<circle class="k16" cx="1138.5" cy="314.0"/>
<circle class="k6" cx="1061.6" cy="314.3"/>
<circle class="k15" cx="1125.9" cy="314.4"/>
<circle class="k14" cx="1118.9" cy="314.5"/>
<circle class="k22" cx="1301.5" cy="314.0"/>
<circle class="k13" cx="1133.5" cy="314.2"/>
<circle class="k8" cx="1050.5" cy="311.9"/>
<circle class="k14" cx="1108.5" cy="314.2"/>
<circle class="k7" cx="1028.3" cy="315.2"/>
<circle class="k23" cx="1217.4" cy="314.1"/>
<circle class="k12" cx="1105.0" cy="313.9"/>
<circle class="k20" cx="1192.7" cy="314.0"/>
<circle class="k7" cx="1043.2" cy="314.2"/>
<circle class="k8" cx="1038.4" cy="314.1"/>
<circle class="k0" cx="1009.8" cy="314.2"/>
<circle class="k21" cx="1312.2" cy="314.2"/>
<circle class="k16" cx="1143.0" cy="314.2"/>
<circle class="k11" cx="1059.3" cy="315.3"/>
<circle class="k5" cx="1032.6" cy="314.5"/>
<circle class="k9" cx="1034.3" cy="313.2"/>
<circle class="k23" cx="1224.0" cy="314.2"/>
<circle class="k7" cx="1031.4" cy="313.2"/>
<circle class="k5" cx="1047.4" cy="316.3"/>
<circle class="k23" cx="1359.8" cy="314.2"/>
<circle class="k3" cx="1021.2" cy="312.9"/>
<circle class="k8" cx="1037.1" cy="316.5"/>
<circle class="k7" cx="1029.9" cy="314.5"/>
<circle class="k0" cx="992.9" cy="314.5"/>
<circle class="k8" cx="1043.5" cy="315.3"/>
<circle class="k1" cx="986.3" cy="314.5"/>
<circle class="k8" cx="1048.9" cy="313.3"/>
<circle class="k4" cx="1017.9" cy="314.4"/>
<circle class="k17" cx="1190.2" cy="314.0"/>
<circle class="k7" cx="1048.9" cy="315.0"/>
<circle class="k8" cx="1047.4" cy="312.0"/>
<circle class="k22" cx="1227.5" cy="314.5"/>
<circle class="k10" cx="1046.4" cy="315.1"/>
<circle class="k22" cx="1202.3" cy="314.4"/>
<circle class="k0" cx="1005.6" cy="314.5"/>
<circle class="k14" cx="1131.2" cy="314.0"/>
<circle class="k7" cx="1046.4" cy="313.3"/>
<circle class="k22" cx="1246.4" cy="314.0"/>
<circle class="k22" cx="1309.3" cy="314.2"/>
<circle class="k7" cx="1043.5" cy="312.8"/>
<circle class="k1" cx="1001.7" cy="314.5"/>
<circle class="k7" cx="1039.2" cy="316.2"/>
<circle class="k10" cx="1059.3" cy="313.6"/>
<circle class="k10" cx="1077.4" cy="314.4"/>
<circle class="k9" cx="1034.9" cy="313.9"/>
<circle class="k10" cx="1073.4" cy="314.1"/>
<circle class="k9" cx="1049.2" cy="314.5"/>
<circle class="k10" cx="1059.3" cy="314.1"/>
<circle class="k17" cx="1166.5" cy="313.9"/>
<circle class="k23" cx="1323.4" cy="314.0"/>
<circle class="k0" cx="1013.2" cy="314.4"/>
<circle class="k13" cx="1136.0" cy="314.0"/>
<circle class="k18" cx="1141.5" cy="314.0"/>
<circle class="k21" cx="1198.6" cy="314.5"/>
<circle class="k9" cx="1076.0" cy="314.4"/>
<circle class="k8" cx="1069.6" cy="314.1"/>
<circle class="k2" cx="1015.4" cy="314.4"/>
<circle class="k14" cx="1128.1" cy="314.3"/>
<circle class="k11" cx="1116.2" cy="314.2"/>
<circle class="k8" cx="1027.0" cy="313.9"/>
<circle class="k0" cx="987.9" cy="314.5"/>
<circle class="k23" cx="1254.1" cy="314.4"/>
<circle class="k11" cx="1086.1" cy="314.3"/>
<circle class="k8" cx="1040.2" cy="315.3"/>
<circle class="k18" cx="1181.5" cy="314.2"/>
<circle class="k11" cx="1101.0" cy="301.7"/>
<circle class="k12" cx="1100.3" cy="304.0"/>
<circle class="k12" cx="1101.0" cy="306.2"/>
<circle class="k13" cx="1100.4" cy="308.5"/>
<circle class="k11" cx="1101.0" cy="310.8"/>
<circle class="k10" cx="1100.7" cy="313.1"/>
<circle class="k14" cx="1100.6" cy="315.3"/>
<circle class="k14" cx="1100.9" cy="317.6"/>
<circle class="k13" cx="1101.1" cy="319.9"/>
<circle class="k12" cx="1100.4" cy="322.2"/>
<circle class="k11" cx="1100.4" cy="324.4"/>
<circle class="k10" cx="1100.6" cy="326.7"/>
<circle class="k11" cx="1165.0" cy="348.1"/>
<circle class="k16" cx="1192.2" cy="347.7"/>
<circle class="k1" cx="1025.6" cy="346.6"/>
<circle class="k0" cx="1040.7" cy="349.0"/>
<circle class="k1" cx="1041.3" cy="346.2"/>
<circle class="k1" cx="1053.0" cy="346.4"/>
<circle class="k10" cx="1140.8" cy="347.9"/>
<circle class="k0" cx="1039.1" cy="347.8"/>
<circle class="k0" cx="1075.3" cy="347.6"/>
<circle class="k0" cx="1037.8" cy="348.6"/>
<circle class="k0" cx="1034.8" cy="347.0"/>
<circle class="k0" cx="1032.3" cy="347.7"/>
<circle class="k21" cx="1253.6" cy="347.8"/>
<circle class="k0" cx="1004.7" cy="348.0"/>
<circle class="k3" cx="1006.5" cy="347.8"/>
<circle class="k0" cx="1037.2" cy="350.0"/>
<circle class="k0" cx="1019.3" cy="347.5"/>
<circle class="k0" cx="1061.8" cy="349.0"/>
<circle class="k12" cx="1160.3" cy="347.5"/>
<circle class="k0" cx="998.2" cy="347.6"/>
<circle class="k0" cx="1040.3" cy="348.1"/>
<circle class="k2" cx="1081.2" cy="347.5"/>
<circle class="k9" cx="1118.8" cy="348.0"/>
<circle class="k21" cx="1194.2" cy="348.1"/>
<circle class="k0" cx="1043.8" cy="347.6"/>
<circle class="k13" cx="1154.1" cy="347.8"/>
<circle class="k23" cx="1229.9" cy="347.8"/>
<circle class="k0" cx="1009.3" cy="347.8"/>
<circle class="k1" cx="1043.5" cy="346.6"/>
<circle class="k15" cx="1172.6" cy="348.1"/>
<circle class="k15" cx="1168.4" cy="347.9"/>
<circle class="k1" cx="1051.8" cy="346.2"/>
<circle class="k2" cx="1047.5" cy="348.9"/>
<circle class="k0" cx="1002.0" cy="347.9"/>
<circle class="k0" cx="1010.9" cy="348.1"/>
<circle class="k8" cx="1116.8" cy="347.5"/>
<circle class="k14" cx="1149.5" cy="347.6"/>
<circle class="k0" cx="1061.8" cy="347.0"/>
<circle class="k23" cx="1219.1" cy="348.1"/>
<circle class="k1" cx="1034.8" cy="348.6"/>
<circle class="k0" cx="1055.1" cy="346.2"/>
<circle class="k0" cx="1043.9" cy="350.1"/>
<circle class="k0" cx="1056.5" cy="346.9"/>
<circle class="k23" cx="1266.9" cy="347.8"/>
<circle class="k14" cx="1170.5" cy="347.6"/>
<circle class="k23" cx="1301.3" cy="347.8"/>
<circle class="k0" cx="975.7" cy="347.8"/>
<circle class="k15" cx="1189.5" cy="347.5"/>
<circle class="k23" cx="1215.6" cy="347.9"/>
<circle class="k10" cx="1122.6" cy="348.0"/>
<circle class="k0" cx="1033.7" cy="345.8"/>
<circle class="k23" cx="1227.6" cy="347.8"/>
<circle class="k0" cx="1029.6" cy="347.9"/>
<circle class="k0" cx="1035.9" cy="347.7"/>
<circle class="k15" cx="1182.5" cy="347.7"/>
<circle class="k1" cx="1077.7" cy="347.9"/>
<circle class="k0" cx="1033.7" cy="349.5"/>
<circle class="k0" cx="1073.9" cy="347.9"/>
<circle class="k1" cx="1037.8" cy="346.7"/>
<circle class="k4" cx="1092.0" cy="348.0"/>
<circle class="k3" cx="1040.7" cy="347.0"/>
<circle class="k1" cx="1060.1" cy="348.7"/>
<circle class="k0" cx="1028.6" cy="346.7"/>
<circle class="k17" cx="1185.0" cy="347.9"/>
<circle class="k0" cx="1068.4" cy="347.5"/>
<circle class="k12" cx="1145.5" cy="347.9"/>
<circle class="k22" cx="1224.9" cy="347.6"/>
<circle class="k13" cx="1137.7" cy="347.7"/>
<circle class="k2" cx="1043.9" cy="345.8"/>
<circle class="k0" cx="1053.0" cy="349.2"/>
<circle class="k23" cx="1276.1" cy="348.0"/>
<circle class="k0" cx="1060.1" cy="346.6"/>
<circle class="k11" cx="1124.7" cy="347.5"/>
<circle class="k12" cx="1143.1" cy="347.7"/>
<circle class="k3" cx="1089.9" cy="347.5"/>
<circle class="k11" cx="1152.9" cy="348.1"/>
<circle class="k0" cx="1056.1" cy="347.9"/>
<circle class="k0" cx="1056.5" cy="349.2"/>
<circle class="k22" cx="1256.3" cy="347.8"/>
<circle class="k14" cx="1156.7" cy="347.5"/>
<circle class="k16" cx="1175.1" cy="348.0"/>
<circle class="k2" cx="1014.8" cy="347.9"/>
<circle class="k22" cx="1209.3" cy="348.1"/>
<circle class="k23" cx="1221.0" cy="347.8"/>
<circle class="k15" cx="1178.8" cy="347.5"/>
<circle class="k22" cx="1259.2" cy="347.7"/>
<circle class="k0" cx="1051.8" cy="349.6"/>
<circle class="k2" cx="1043.5" cy="349.0"/>
<circle class="k1" cx="1024.5" cy="347.7"/>
<circle class="k0" cx="1050.6" cy="348.4"/>
<circle class="k0" cx="1041.3" cy="349.7"/>
<circle class="k19" cx="1203.6" cy="348.1"/>
<circle class="k14" cx="1162.0" cy="348.0"/>
<circle class="k0" cx="1028.6" cy="348.6"/>
<circle class="k0" cx="1046.9" cy="349.5"/>
<circle class="k23" cx="1261.9" cy="347.9"/>
<circle class="k1" cx="1051.6" cy="347.7"/>
<circle class="k0" cx="1017.1" cy="347.6"/>
<circle class="k2" cx="1083.7" cy="347.8"/>
<circle class="k0" cx="1062.3" cy="347.6"/>
<circle class="k21" cx="1211.7" cy="347.9"/>
<circle class="k17" cx="1197.9" cy="348.1"/>
<circle class="k0" cx="1047.5" cy="346.9"/>
<circle class="k17" cx="1200.2" cy="347.7"/>
<circle class="k2" cx="1037.2" cy="346.1"/>
<circle class="k1" cx="1054.6" cy="348.1"/>
<circle class="k0" cx="1049.2" cy="347.7"/>
<circle class="k23" cx="1263.7" cy="347.6"/>
<circle class="k22" cx="1213.7" cy="348.1"/>
<circle class="k23" cx="1342.5" cy="347.8"/>
<circle class="k23" cx="1251.4" cy="347.6"/>
<circle class="k0" cx="1026.9" cy="347.5"/>
<circle class="k10" cx="1114.6" cy="348.1"/>
<circle class="k9" cx="1111.4" cy="347.9"/>
<circle class="k1" cx="1025.6" cy="349.1"/>
<circle class="k2" cx="1023.2" cy="347.5"/>
<circle class="k10" cx="1127.9" cy="347.7"/>
<circle class="k21" cx="1277.8" cy="347.9"/>
<circle class="k23" cx="1239.6" cy="347.8"/>
<circle class="k1" cx="1031.5" cy="347.0"/>
<circle class="k10" cx="1129.4" cy="347.5"/>
<circle class="k0" cx="1046.6" cy="347.6"/>
<circle class="k0" cx="1055.1" cy="349.6"/>
<circle class="k12" cx="1134.6" cy="348.0"/>
<circle class="k23" cx="1293.1" cy="347.8"/>
<circle class="k1" cx="1070.0" cy="348.0"/>
<circle class="k19" cx="1205.2" cy="348.0"/>
<circle class="k0" cx="1031.5" cy="349.1"/>
<circle class="k3" cx="1050.6" cy="346.6"/>
<circle class="k15" cx="1185.9" cy="347.5"/>
<circle class="k0" cx="1058.8" cy="347.8"/>
<circle class="k0" cx="1064.6" cy="347.5"/>
<circle class="k0" cx="1046.9" cy="345.6"/>
<circle class="k23" cx="1280.5" cy="348.0"/>
<circle class="k3" cx="1086.2" cy="347.7"/>
<circle class="k11" cx="1133.8" cy="347.9"/>
<circle class="k5" cx="1100.6" cy="335.3"/>
<circle class="k5" cx="1100.7" cy="337.6"/>
<circle class="k5" cx="1100.9" cy="339.8"/>
<circle class="k5" cx="1100.9" cy="342.1"/>
<circle class="k6" cx="1100.7" cy="344.4"/>
<circle class="k7" cx="1101.0" cy="346.7"/>
<circle class="k6" cx="1100.9" cy="348.9"/>
<circle class="k7" cx="1100.6" cy="351.2"/>
<circle class="k9" cx="1100.5" cy="353.5"/>
<circle class="k5" cx="1101.1" cy="355.8"/>
<circle class="k5" cx="1100.8" cy="358.0"/>
<circle class="k6" cx="1101.0" cy="360.3"/>
<circle class="k1" cx="1266.2" cy="381.6"/>
<circle class="k3" cx="1155.9" cy="381.6"/>
<circle class="k1" cx="1183.3" cy="381.4"/>
<circle class="k13" cx="1076.0" cy="383.3"/>
<circle class="k14" cx="1075.4" cy="380.5"/>
<circle class="k13" cx="1073.2" cy="381.7"/>
<circle class="k14" cx="1087.6" cy="381.1"/>
<circle class="k15" cx="1083.0" cy="381.4"/>
<circle class="k5" cx="1154.6" cy="381.5"/>
<circle class="k0" cx="1203.1" cy="381.5"/>
<circle class="k15" cx="1077.7" cy="382.2"/>
<circle class="k18" cx="1049.5" cy="381.2"/>
<circle class="k13" cx="1092.0" cy="381.3"/>
<circle class="k23" cx="958.8" cy="381.4"/>
<circle class="k21" cx="1011.6" cy="381.6"/>
<circle class="k0" cx="1217.4" cy="381.3"/>
<circle class="k22" cx="988.7" cy="381.6"/>
<circle class="k21" cx="995.3" cy="381.5"/>
<circle class="k5" cx="1137.9" cy="381.7"/>
<circle class="k22" cx="1026.9" cy="381.6"/>
<circle class="k0" cx="1249.4" cy="381.6"/>
<circle class="k13" cx="1072.5" cy="383.4"/>
<circle class="k23" cx="992.5" cy="381.7"/>
<circle class="k0" cx="1204.9" cy="381.2"/>
<circle class="k0" cx="1247.0" cy="381.1"/>
<circle class="k16" cx="1067.3" cy="380.2"/>
<circle class="k2" cx="1165.6" cy="381.4"/>
<circle class="k18" cx="1067.3" cy="382.8"/>
<circle class="k23" cx="980.5" cy="381.5"/>
<circle class="k18" cx="1045.2" cy="381.6"/>
<circle class="k8" cx="1116.5" cy="381.1"/>
<circle class="k14" cx="1072.5" cy="379.5"/>
<circle class="k0" cx="1220.7" cy="381.5"/>
<circle class="k23" cx="996.8" cy="381.5"/>
<circle class="k16" cx="1078.7" cy="383.2"/>
<circle class="k1" cx="1264.6" cy="381.3"/>
<circle class="k14" cx="1081.1" cy="381.4"/>
<circle class="k15" cx="1065.4" cy="381.7"/>
<circle class="k0" cx="1171.1" cy="381.4"/>
<circle class="k0" cx="1252.2" cy="381.3"/>
<circle class="k2" cx="1215.5" cy="381.5"/>
<circle class="k23" cx="1025.3" cy="381.6"/>
<circle class="k0" cx="1227.0" cy="381.2"/>
<circle class="k14" cx="1079.9" cy="382.3"/>
<circle class="k7" cx="1140.5" cy="381.3"/>
<circle class="k14" cx="1065.6" cy="382.5"/>
<circle class="k16" cx="1060.8" cy="382.5"/>
<circle class="k21" cx="1001.8" cy="381.2"/>
<circle class="k6" cx="1143.7" cy="381.6"/>
<circle class="k11" cx="1108.1" cy="381.2"/>
<circle class="k22" cx="983.9" cy="381.1"/>
<circle class="k0" cx="1181.7" cy="381.2"/>
<circle class="k14" cx="1090.1" cy="381.2"/>
<circle class="k23" cx="1013.9" cy="381.7"/>
<circle class="k12" cx="1078.7" cy="379.4"/>
<circle class="k0" cx="1200.3" cy="381.5"/>
<circle class="k22" cx="977.5" cy="381.7"/>
<circle class="k18" cx="1051.0" cy="381.2"/>
<circle class="k17" cx="1067.4" cy="379.6"/>
<circle class="k23" cx="1029.6" cy="381.1"/>
<circle class="k4" cx="1158.3" cy="381.7"/>
<circle class="k0" cx="1261.7" cy="381.6"/>
<circle class="k3" cx="1152.1" cy="381.5"/>
<circle class="k23" cx="1020.7" cy="381.2"/>
<circle class="k9" cx="1119.0" cy="381.1"/>
<circle class="k0" cx="1193.5" cy="381.4"/>
<circle class="k0" cx="1188.3" cy="381.3"/>
<circle class="k15" cx="1067.4" cy="383.1"/>
<circle class="k0" cx="1172.7" cy="381.1"/>
<circle class="k2" cx="1258.8" cy="381.6"/>
<circle class="k16" cx="1069.6" cy="381.6"/>
<circle class="k0" cx="1269.0" cy="381.1"/>
<circle class="k13" cx="1076.0" cy="379.2"/>
<circle class="k21" cx="1041.3" cy="381.2"/>
<circle class="k7" cx="1132.9" cy="381.1"/>
<circle class="k16" cx="1069.9" cy="383.3"/>
<circle class="k8" cx="1121.0" cy="381.3"/>
<circle class="k0" cx="1231.9" cy="381.6"/>
<circle class="k23" cx="987.2" cy="381.4"/>
<circle class="k6" cx="1130.3" cy="381.2"/>
<circle class="k0" cx="1168.2" cy="381.4"/>
<circle class="k8" cx="1149.2" cy="381.5"/>
<circle class="k22" cx="1035.6" cy="381.7"/>
<circle class="k23" cx="1008.2" cy="381.1"/>
<circle class="k0" cx="1212.3" cy="381.3"/>
<circle class="k15" cx="1075.0" cy="381.1"/>
<circle class="k22" cx="1005.5" cy="381.3"/>
<circle class="k1" cx="1211.3" cy="381.2"/>
<circle class="k3" cx="1256.0" cy="381.4"/>
<circle class="k17" cx="1077.7" cy="380.5"/>
<circle class="k8" cx="1124.1" cy="381.6"/>
<circle class="k22" cx="1037.7" cy="381.2"/>
<circle class="k13" cx="1071.2" cy="380.5"/>
<circle class="k0" cx="1223.6" cy="381.2"/>
<circle class="k16" cx="1061.3" cy="381.2"/>
<circle class="k9" cx="1110.4" cy="381.1"/>
<circle class="k22" cx="1033.2" cy="381.5"/>
<circle class="k0" cx="1229.3" cy="381.2"/>
<circle class="k15" cx="1075.4" cy="382.8"/>
<circle class="k23" cx="1000.6" cy="381.7"/>
<circle class="k23" cx="975.6" cy="381.4"/>
<circle class="k0" cx="1178.5" cy="381.3"/>
<circle class="k23" cx="1015.4" cy="381.2"/>
<circle class="k0" cx="1208.0" cy="381.7"/>
<circle class="k0" cx="1174.6" cy="381.7"/>
<circle class="k23" cx="1019.3" cy="381.3"/>
<circle class="k20" cx="1042.5" cy="381.2"/>
<circle class="k16" cx="1060.8" cy="380.4"/>
<circle class="k0" cx="1196.3" cy="381.6"/>
<circle class="k14" cx="1071.2" cy="382.3"/>
<circle class="k16" cx="1065.6" cy="380.4"/>
<circle class="k18" cx="1059.0" cy="381.2"/>
<circle class="k6" cx="1145.3" cy="381.7"/>
<circle class="k5" cx="1135.4" cy="381.5"/>
<circle class="k17" cx="1054.4" cy="381.1"/>
<circle class="k16" cx="1069.9" cy="379.1"/>
<circle class="k13" cx="1084.1" cy="382.7"/>
<circle class="k0" cx="1191.5" cy="381.4"/>
<circle class="k15" cx="1068.3" cy="381.3"/>
<circle class="k1" cx="1161.3" cy="381.1"/>
<circle class="k13" cx="1079.9" cy="380.1"/>
<circle class="k15" cx="1084.1" cy="380.2"/>
<circle class="k7" cx="1127.2" cy="381.5"/>
<circle class="k18" cx="1056.6" cy="381.7"/>
<circle class="k8" cx="1113.3" cy="381.1"/>
<circle class="k14" cx="1078.7" cy="381.6"/>
<circle class="k0" cx="1245.2" cy="381.6"/>
<circle class="k0" cx="1185.1" cy="381.5"/>
<circle class="k10" cx="1100.3" cy="368.9"/>
<circle class="k11" cx="1100.5" cy="371.2"/>
<circle class="k13" cx="1100.6" cy="373.4"/>
<circle class="k12" cx="1101.0" cy="375.7"/>
<circle class="k10" cx="1100.6" cy="378.0"/>
<circle class="k10" cx="1101.0" cy="380.3"/>
<circle class="k10" cx="1100.4" cy="382.5"/>
<circle class="k10" cx="1100.9" cy="384.8"/>
<circle class="k13" cx="1100.3" cy="387.1"/>
<circle class="k11" cx="1100.5" cy="389.4"/>
<circle class="k11" cx="1100.9" cy="391.6"/>
<circle class="k11" cx="1100.9" cy="393.9"/>
<circle class="k8" cx="1075.8" cy="415.2"/>
<circle class="k0" cx="1002.9" cy="415.3"/>
<circle class="k0" cx="932.1" cy="415.0"/>
<circle class="k0" cx="1008.7" cy="415.0"/>
<circle class="k21" cx="1223.9" cy="414.8"/>
<circle class="k0" cx="1000.5" cy="414.8"/>
<circle class="k16" cx="1129.2" cy="415.2"/>
<circle class="k8" cx="1059.9" cy="414.7"/>
<circle class="k9" cx="1089.8" cy="415.0"/>
<circle class="k0" cx="948.6" cy="415.0"/>
<circle class="k23" cx="1258.1" cy="415.0"/>
<circle class="k23" cx="1210.9" cy="415.1"/>
<circle class="k8" cx="1082.0" cy="415.1"/>
<circle class="k23" cx="1219.5" cy="415.0"/>
<circle class="k4" cx="1052.1" cy="414.9"/>
<circle class="k20" cx="1199.4" cy="415.3"/>
<circle class="k23" cx="1175.9" cy="415.3"/>
<circle class="k21" cx="1151.4" cy="414.8"/>
<circle class="k23" cx="1202.9" cy="414.9"/>
<circle class="k1" cx="992.4" cy="415.3"/>
<circle class="k9" cx="1064.5" cy="414.8"/>
<circle class="k21" cx="1208.4" cy="414.9"/>
<circle class="k14" cx="1103.2" cy="414.9"/>
<circle class="k23" cx="1196.8" cy="415.1"/>
<circle class="k1" cx="1019.7" cy="415.3"/>
<circle class="k20" cx="1156.8" cy="414.7"/>
<circle class="k22" cx="1192.5" cy="415.1"/>
<circle class="k23" cx="1178.6" cy="414.9"/>
<circle class="k2" cx="1037.5" cy="415.0"/>
<circle class="k12" cx="1084.6" cy="415.2"/>
<circle class="k15" cx="1115.6" cy="414.9"/>
<circle class="k16" cx="1135.8" cy="415.3"/>
<circle class="k9" cx="1057.5" cy="415.1"/>
<circle class="k16" cx="1127.4" cy="414.9"/>
<circle class="k3" cx="1034.7" cy="415.1"/>
<circle class="k12" cx="1105.7" cy="415.1"/>
<circle class="k0" cx="1004.6" cy="414.8"/>
<circle class="k0" cx="1026.9" cy="415.1"/>
<circle class="k14" cx="1133.8" cy="414.9"/>
<circle class="k23" cx="1230.8" cy="414.7"/>
<circle class="k5" cx="1043.9" cy="415.1"/>
<circle class="k15" cx="1124.0" cy="414.7"/>
<circle class="k23" cx="1246.6" cy="415.0"/>
<circle class="k21" cx="1217.0" cy="415.0"/>
<circle class="k0" cx="998.3" cy="415.3"/>
<circle class="k21" cx="1160.6" cy="415.1"/>
<circle class="k10" cx="1070.0" cy="414.7"/>
<circle class="k23" cx="1172.5" cy="415.3"/>
<circle class="k8" cx="1053.0" cy="414.8"/>
<circle class="k17" cx="1148.9" cy="414.8"/>
<circle class="k23" cx="1189.1" cy="415.1"/>
<circle class="k0" cx="1022.6" cy="414.7"/>
<circle class="k0" cx="1011.5" cy="415.0"/>
<circle class="k10" cx="1086.5" cy="415.0"/>
<circle class="k17" cx="1146.6" cy="415.1"/>
<circle class="k7" cx="1047.8" cy="415.1"/>
<circle class="k22" cx="1180.7" cy="414.7"/>
<circle class="k1" cx="1023.5" cy="414.8"/>
<circle class="k23" cx="1213.2" cy="415.1"/>
<circle class="k22" cx="1167.8" cy="415.0"/>
<circle class="k0" cx="995.0" cy="414.7"/>
<circle class="k23" cx="1205.6" cy="414.8"/>
<circle class="k0" cx="989.9" cy="414.9"/>
<circle class="k0" cx="980.3" cy="414.7"/>
<circle class="k23" cx="1292.3" cy="415.0"/>
<circle class="k0" cx="983.2" cy="415.3"/>
<circle class="k12" cx="1107.9" cy="415.0"/>
<circle class="k14" cx="1120.3" cy="414.8"/>
<circle class="k23" cx="1233.4" cy="415.2"/>
<circle class="k23" cx="1187.5" cy="415.2"/>
<circle class="k23" cx="1221.9" cy="414.9"/>
<circle class="k2" cx="1033.4" cy="414.8"/>
<circle class="k1" cx="986.9" cy="414.8"/>
<circle class="k9" cx="1062.7" cy="415.3"/>
<circle class="k23" cx="1236.4" cy="415.2"/>
<circle class="k0" cx="979.2" cy="415.2"/>
<circle class="k0" cx="1012.6" cy="415.2"/>
<circle class="k1" cx="975.6" cy="415.0"/>
<circle class="k0" cx="1030.5" cy="414.9"/>
<circle class="k19" cx="1143.0" cy="415.1"/>
<circle class="k22" cx="1163.4" cy="415.2"/>
<circle class="k23" cx="1238.1" cy="415.3"/>
<circle class="k23" cx="1271.3" cy="415.0"/>
<circle class="k15" cx="1121.9" cy="414.9"/>
<circle class="k16" cx="1137.4" cy="415.2"/>
<circle class="k9" cx="1066.7" cy="414.9"/>
<circle class="k11" cx="1092.0" cy="414.7"/>
<circle class="k7" cx="1045.0" cy="414.8"/>
<circle class="k11" cx="1074.0" cy="414.9"/>
<circle class="k13" cx="1114.9" cy="414.7"/>
<circle class="k20" cx="1154.4" cy="415.0"/>
<circle class="k14" cx="1140.7" cy="415.1"/>
<circle class="k23" cx="1170.2" cy="415.0"/>
<circle class="k23" cx="1226.2" cy="414.9"/>
<circle class="k4" cx="1040.6" cy="415.2"/>
<circle class="k2" cx="1016.0" cy="415.3"/>
<circle class="k22" cx="1185.0" cy="415.3"/>
<circle class="k12" cx="1110.6" cy="415.2"/>
<circle class="k22" cx="1164.3" cy="414.8"/>
<circle class="k9" cx="1077.4" cy="415.3"/>
<circle class="k23" cx="1194.0" cy="414.7"/>
<circle class="k11" cx="1101.0" cy="402.5"/>
<circle class="k11" cx="1101.0" cy="404.8"/>
<circle class="k13" cx="1101.0" cy="407.0"/>
<circle class="k12" cx="1100.5" cy="409.3"/>
<circle class="k12" cx="1100.7" cy="411.6"/>
<circle class="k11" cx="1100.7" cy="413.9"/>
<circle class="k12" cx="1100.8" cy="416.1"/>
<circle class="k13" cx="1100.6" cy="418.4"/>
<circle class="k12" cx="1101.1" cy="420.7"/>
<circle class="k13" cx="1100.3" cy="423.0"/>
<circle class="k12" cx="1100.5" cy="425.2"/>
<circle class="k12" cx="1100.7" cy="427.5"/>
<circle class="k0" cx="1195.5" cy="448.6"/>
<circle class="k9" cx="1079.9" cy="448.6"/>
<circle class="k23" cx="927.3" cy="448.8"/>
<circle class="k1" cx="1157.6" cy="448.6"/>
<circle class="k22" cx="995.6" cy="448.8"/>
<circle class="k0" cx="1152.3" cy="450.3"/>
<circle class="k1" cx="1157.6" cy="450.3"/>
<circle class="k3" cx="1113.5" cy="448.8"/>
<circle class="k0" cx="1171.7" cy="448.5"/>
<circle class="k0" cx="1147.6" cy="447.8"/>
<circle class="k23" cx="984.6" cy="448.9"/>
<circle class="k11" cx="1089.9" cy="448.9"/>
<circle class="k22" cx="991.1" cy="448.7"/>
<circle class="k1" cx="1145.9" cy="449.3"/>
<circle class="k16" cx="1037.5" cy="448.9"/>
<circle class="k1" cx="1134.0" cy="448.7"/>
<circle class="k1" cx="1170.5" cy="447.3"/>
<circle class="k1" cx="1131.0" cy="447.9"/>
<circle class="k22" cx="936.3" cy="448.7"/>
<circle class="k0" cx="1155.4" cy="449.7"/>
<circle class="k14" cx="1032.2" cy="448.5"/>
<circle class="k1" cx="1168.0" cy="448.5"/>
<circle class="k23" cx="925.4" cy="448.3"/>
<circle class="k13" cx="1060.2" cy="448.6"/>
<circle class="k2" cx="1145.6" cy="447.0"/>
<circle class="k22" cx="940.5" cy="448.8"/>
<circle class="k2" cx="1124.8" cy="449.4"/>
<circle class="k22" cx="961.0" cy="448.5"/>
<circle class="k0" cx="1138.7" cy="450.2"/>
<circle class="k12" cx="1064.4" cy="448.8"/>
<circle class="k1" cx="1115.8" cy="448.8"/>
<circle class="k0" cx="1163.5" cy="448.5"/>
<circle class="k0" cx="1172.6" cy="450.0"/>
<circle class="k14" cx="1055.9" cy="448.6"/>
<circle class="k1" cx="1174.4" cy="448.9"/>
<circle class="k0" cx="1141.6" cy="447.7"/>
<circle class="k0" cx="1161.0" cy="450.7"/>
<circle class="k17" cx="1022.3" cy="448.3"/>
<circle class="k2" cx="1167.0" cy="447.5"/>
<circle class="k1" cx="1132.8" cy="447.8"/>
<circle class="k11" cx="1082.0" cy="448.9"/>
<circle class="k0" cx="1135.6" cy="450.6"/>
<circle class="k1" cx="1163.0" cy="449.5"/>
<circle class="k0" cx="1145.6" cy="450.5"/>
<circle class="k1" cx="1139.4" cy="448.7"/>
<circle class="k2" cx="1164.9" cy="448.5"/>
<circle class="k1" cx="1119.2" cy="448.7"/>
<circle class="k0" cx="1167.0" cy="449.6"/>
<circle class="k23" cx="966.3" cy="448.3"/>
<circle class="k23" cx="970.0" cy="448.3"/>
<circle class="k1" cx="1136.2" cy="449.4"/>
<circle class="k0" cx="1147.2" cy="448.7"/>
<circle class="k0" cx="1142.3" cy="450.3"/>
<circle class="k15" cx="1026.1" cy="448.9"/>
<circle class="k11" cx="1069.3" cy="448.9"/>
<circle class="k1" cx="1154.9" cy="447.0"/>
<circle class="k13" cx="1059.1" cy="448.4"/>
<circle class="k0" cx="1152.2" cy="449.6"/>
<circle class="k0" cx="1160.2" cy="447.9"/>
<circle class="k23" cx="968.8" cy="448.6"/>
<circle class="k0" cx="1154.9" cy="450.2"/>
<circle class="k11" cx="1087.4" cy="448.6"/>
<circle class="k0" cx="1152.3" cy="446.4"/>
<circle class="k0" cx="1148.1" cy="450.3"/>
<circle class="k12" cx="1066.6" cy="448.3"/>
<circle class="k23" cx="957.1" cy="448.8"/>
<circle class="k2" cx="1138.7" cy="446.3"/>
<circle class="k0" cx="1157.6" cy="446.4"/>
<circle class="k0" cx="1160.2" cy="449.8"/>
<circle class="k0" cx="1132.2" cy="446.8"/>
<circle class="k1" cx="1163.0" cy="447.4"/>
<circle class="k3" cx="1156.9" cy="449.5"/>
<circle class="k3" cx="1121.9" cy="448.8"/>
<circle class="k21" cx="997.3" cy="448.7"/>
<circle class="k21" cx="982.1" cy="448.9"/>
<circle class="k0" cx="1147.6" cy="449.3"/>
<circle class="k0" cx="1154.1" cy="448.5"/>
<circle class="k23" cx="943.4" cy="448.3"/>
<circle class="k0" cx="1172.6" cy="448.0"/>
<circle class="k0" cx="1132.2" cy="450.2"/>
<circle class="k1" cx="1120.8" cy="447.4"/>
<circle class="k23" cx="973.4" cy="448.9"/>
<circle class="k0" cx="1234.7" cy="448.6"/>
<circle class="k23" cx="931.3" cy="448.8"/>
<circle class="k0" cx="1152.6" cy="448.5"/>
<circle class="k21" cx="954.3" cy="448.6"/>
<circle class="k0" cx="1181.2" cy="448.8"/>
<circle class="k0" cx="1178.3" cy="448.3"/>
<circle class="k0" cx="1148.9" cy="448.3"/>
<circle class="k23" cx="932.5" cy="448.5"/>
<circle class="k0" cx="1135.6" cy="446.8"/>
<circle class="k2" cx="1155.4" cy="447.9"/>
<circle class="k15" cx="1044.4" cy="448.9"/>
<circle class="k18" cx="1019.0" cy="448.7"/>
<circle class="k0" cx="1139.9" cy="447.9"/>
<circle class="k18" cx="1007.7" cy="448.4"/>
<circle class="k0" cx="1161.0" cy="446.6"/>
<circle class="k15" cx="1034.5" cy="448.3"/>
<circle class="k0" cx="1124.1" cy="448.6"/>
<circle class="k0" cx="1144.4" cy="448.8"/>
<circle class="k15" cx="1023.9" cy="448.5"/>
<circle class="k23" cx="952.9" cy="448.8"/>
<circle class="k23" cx="989.5" cy="448.3"/>
<circle class="k22" cx="947.2" cy="448.9"/>
<circle class="k0" cx="1156.9" cy="447.7"/>
<circle class="k22" cx="939.5" cy="448.5"/>
<circle class="k23" cx="977.8" cy="448.5"/>
<circle class="k9" cx="1084.4" cy="448.6"/>
<circle class="k0" cx="1131.0" cy="449.4"/>
<circle class="k0" cx="1124.8" cy="448.0"/>
<circle class="k1" cx="1210.2" cy="448.6"/>
<circle class="k23" cx="914.4" cy="448.6"/>
<circle class="k16" cx="1014.2" cy="448.9"/>
<circle class="k0" cx="1142.3" cy="446.4"/>
<circle class="k1" cx="1136.2" cy="447.5"/>
<circle class="k0" cx="1212.2" cy="448.7"/>
<circle class="k15" cx="1042.2" cy="448.3"/>
<circle class="k0" cx="1177.5" cy="448.3"/>
<circle class="k23" cx="976.9" cy="448.7"/>
<circle class="k22" cx="962.3" cy="448.6"/>
<circle class="k21" cx="987.2" cy="448.9"/>
<circle class="k0" cx="1160.4" cy="448.6"/>
<circle class="k1" cx="1135.8" cy="448.7"/>
<circle class="k1" cx="1129.4" cy="448.9"/>
<circle class="k2" cx="1111.4" cy="448.3"/>
<circle class="k0" cx="1145.9" cy="447.6"/>
<circle class="k0" cx="1120.8" cy="449.2"/>
<circle class="k3" cx="1127.1" cy="447.5"/>
<circle class="k18" cx="1009.4" cy="448.4"/>
<circle class="k17" cx="1015.9" cy="448.7"/>
<circle class="k0" cx="1141.7" cy="448.6"/>
<circle class="k0" cx="1132.8" cy="449.8"/>
<circle class="k10" cx="1077.7" cy="448.7"/>
<circle class="k0" cx="1184.6" cy="448.5"/>
<circle class="k0" cx="1148.1" cy="446.8"/>
<circle class="k16" cx="1046.7" cy="448.8"/>
<circle class="k2" cx="1127.5" cy="448.6"/>
<circle class="k1" cx="1152.2" cy="447.7"/>
<circle class="k23" cx="949.3" cy="448.5"/>
<circle class="k0" cx="1127.1" cy="449.2"/>
<circle class="k15" cx="1030.9" cy="448.3"/>
<circle class="k0" cx="1139.9" cy="449.9"/>
<circle class="k0" cx="1170.5" cy="449.8"/>
<circle class="k0" cx="1141.6" cy="450.0"/>
<circle class="k8" cx="1101.1" cy="436.1"/>
<circle class="k5" cx="1101.0" cy="438.4"/>
<circle class="k7" cx="1100.4" cy="440.6"/>
<circle class="k6" cx="1100.4" cy="442.9"/>
<circle class="k8" cx="1100.6" cy="445.2"/>
<circle class="k6" cx="1101.1" cy="447.5"/>
<circle class="k6" cx="1100.5" cy="449.7"/>
<circle class="k6" cx="1100.5" cy="452.0"/>
<circle class="k5" cx="1100.3" cy="454.3"/>
<circle class="k6" cx="1100.8" cy="456.6"/>
<circle class="k5" cx="1100.7" cy="458.8"/>
<circle class="k5" cx="1100.9" cy="461.1"/>
<circle class="k21" cx="1277.2" cy="481.9"/>
<circle class="k13" cx="1164.8" cy="482.2"/>
<circle class="k3" cx="1057.0" cy="484.3"/>
<circle class="k1" cx="1003.3" cy="482.0"/>
<circle class="k0" cx="997.6" cy="481.9"/>
<circle class="k8" cx="1088.4" cy="482.0"/>
<circle class="k14" cx="1149.2" cy="482.3"/>
<circle class="k23" cx="1215.5" cy="482.2"/>
<circle class="k0" cx="1027.1" cy="481.9"/>
<circle class="k8" cx="1087.6" cy="482.2"/>
<circle class="k3" cx="1065.8" cy="483.4"/>
<circle class="k3" cx="1063.5" cy="481.1"/>
<circle class="k0" cx="1046.6" cy="482.3"/>
<circle class="k16" cx="1192.8" cy="482.2"/>
<circle class="k2" cx="1055.5" cy="481.2"/>
<circle class="k6" cx="1067.8" cy="483.1"/>
<circle class="k2" cx="999.7" cy="482.5"/>
<circle class="k5" cx="1068.7" cy="484.4"/>
<circle class="k15" cx="1159.3" cy="481.9"/>
<circle class="k16" cx="1167.8" cy="482.5"/>
<circle class="k17" cx="1185.2" cy="482.3"/>
<circle class="k12" cx="1116.6" cy="482.0"/>
<circle class="k0" cx="1030.8" cy="482.1"/>
<circle class="k5" cx="1064.3" cy="484.1"/>
<circle class="k23" cx="1258.0" cy="482.1"/>
<circle class="k14" cx="1137.7" cy="482.1"/>
<circle class="k13" cx="1133.1" cy="482.5"/>
<circle class="k8" cx="1078.6" cy="482.4"/>
<circle class="k12" cx="1129.3" cy="482.2"/>
<circle class="k3" cx="1060.1" cy="484.0"/>
<circle class="k4" cx="1062.0" cy="482.1"/>
<circle class="k5" cx="1063.5" cy="483.3"/>
<circle class="k7" cx="1085.0" cy="482.5"/>
<circle class="k1" cx="1048.2" cy="482.3"/>
<circle class="k16" cx="1180.9" cy="481.9"/>
<circle class="k6" cx="1067.8" cy="481.0"/>
<circle class="k12" cx="1114.8" cy="482.5"/>
<circle class="k15" cx="1154.6" cy="482.4"/>
<circle class="k17" cx="1187.6" cy="482.4"/>
<circle class="k0" cx="1020.2" cy="482.5"/>
<circle class="k3" cx="1054.0" cy="482.5"/>
<circle class="k5" cx="1064.3" cy="480.2"/>
<circle class="k12" cx="1119.6" cy="481.9"/>
<circle class="k16" cx="1178.5" cy="482.1"/>
<circle class="k7" cx="1073.9" cy="482.4"/>
<circle class="k2" cx="1034.8" cy="482.0"/>
<circle class="k23" cx="1275.3" cy="482.3"/>
<circle class="k0" cx="1017.6" cy="482.5"/>
<circle class="k4" cx="1068.8" cy="481.9"/>
<circle class="k6" cx="1070.7" cy="482.5"/>
<circle class="k23" cx="1262.8" cy="482.4"/>
<circle class="k10" cx="1107.0" cy="482.2"/>
<circle class="k1" cx="1058.0" cy="481.9"/>
<circle class="k14" cx="1163.4" cy="482.3"/>
<circle class="k0" cx="992.6" cy="482.5"/>
<circle class="k13" cx="1142.1" cy="482.2"/>
<circle class="k1" cx="1052.5" cy="481.9"/>
<circle class="k23" cx="1211.0" cy="482.0"/>
<circle class="k5" cx="1057.0" cy="480.4"/>
<circle class="k23" cx="1213.3" cy="482.2"/>
<circle class="k23" cx="1244.2" cy="482.5"/>
<circle class="k21" cx="1246.5" cy="482.0"/>
<circle class="k13" cx="1123.0" cy="482.3"/>
<circle class="k1" cx="1043.3" cy="482.0"/>
<circle class="k1" cx="1012.3" cy="482.3"/>
<circle class="k7" cx="1068.7" cy="480.6"/>
<circle class="k1" cx="1040.7" cy="482.3"/>
<circle class="k23" cx="1250.0" cy="482.1"/>
<circle class="k4" cx="1060.1" cy="480.5"/>
<circle class="k21" cx="1254.4" cy="481.9"/>
<circle class="k7" cx="1103.2" cy="481.9"/>
<circle class="k23" cx="1240.4" cy="482.2"/>
<circle class="k3" cx="1059.4" cy="482.3"/>
<circle class="k14" cx="1128.4" cy="482.0"/>
<circle class="k4" cx="1064.4" cy="482.0"/>
<circle class="k15" cx="1171.8" cy="481.9"/>
<circle class="k2" cx="1055.5" cy="483.3"/>
<circle class="k23" cx="1242.0" cy="482.3"/>
<circle class="k12" cx="1124.3" cy="481.9"/>
<circle class="k0" cx="987.7" cy="482.5"/>
<circle class="k4" cx="1058.9" cy="483.1"/>
<circle class="k1" cx="1024.2" cy="482.4"/>
<circle class="k0" cx="1015.0" cy="482.5"/>
<circle class="k13" cx="1156.4" cy="482.0"/>
<circle class="k0" cx="1022.2" cy="482.0"/>
<circle class="k13" cx="1135.9" cy="482.1"/>
<circle class="k16" cx="1174.6" cy="482.4"/>
<circle class="k0" cx="984.6" cy="482.1"/>
<circle class="k13" cx="1143.8" cy="482.0"/>
<circle class="k0" cx="1008.1" cy="482.1"/>
<circle class="k0" cx="1006.4" cy="482.2"/>
<circle class="k2" cx="1052.5" cy="483.1"/>
<circle class="k11" cx="1111.7" cy="482.3"/>
<circle class="k10" cx="1109.1" cy="482.0"/>
<circle class="k8" cx="1081.7" cy="482.5"/>
<circle class="k0" cx="990.5" cy="482.2"/>
<circle class="k6" cx="1065.8" cy="481.0"/>
<circle class="k17" cx="1177.4" cy="482.3"/>
<circle class="k2" cx="1058.9" cy="481.5"/>
<circle class="k6" cx="1074.9" cy="482.2"/>
<circle class="k18" cx="1189.8" cy="482.2"/>
<circle class="k8" cx="1092.0" cy="482.2"/>
<circle class="k13" cx="1152.3" cy="482.1"/>
<circle class="k22" cx="1237.6" cy="482.5"/>
<circle class="k23" cx="1272.8" cy="482.5"/>
<circle class="k23" cx="1252.9" cy="482.5"/>
<circle class="k6" cx="1072.6" cy="482.8"/>
<circle class="k8" cx="1072.6" cy="481.2"/>
<circle class="k0" cx="1037.2" cy="482.1"/>
<circle class="k0" cx="995.3" cy="482.0"/>
<circle class="k23" cx="1208.2" cy="482.1"/>
<circle class="k0" cx="1034.0" cy="482.5"/>
<circle class="k13" cx="1146.0" cy="482.1"/>
<circle class="k23" cx="1261.3" cy="482.2"/>
<circle class="k23" cx="1234.1" cy="482.1"/>
<circle class="k0" cx="1052.5" cy="480.8"/>
<circle class="k7" cx="1100.9" cy="469.7"/>
<circle class="k8" cx="1100.8" cy="472.0"/>
<circle class="k11" cx="1101.1" cy="474.2"/>
<circle class="k8" cx="1100.5" cy="476.5"/>
<circle class="k8" cx="1100.8" cy="478.8"/>
<circle class="k9" cx="1100.9" cy="481.1"/>
<circle class="k8" cx="1100.5" cy="483.3"/>
<circle class="k7" cx="1100.6" cy="485.6"/>
<circle class="k8" cx="1100.9" cy="487.9"/>
<circle class="k5" cx="1101.1" cy="490.2"/>
<circle class="k9" cx="1100.9" cy="492.4"/>
<circle class="k10" cx="1100.7" cy="494.7"/>
<circle class="k1" cx="1144.7" cy="517.3"/>
<circle class="k21" cx="1024.6" cy="515.5"/>
<circle class="k22" cx="1022.4" cy="516.0"/>
<circle class="k0" cx="1144.7" cy="516.9"/>
<circle class="k0" cx="1212.6" cy="515.6"/>
<circle class="k1" cx="1154.6" cy="514.4"/>
<circle class="k0" cx="1206.9" cy="515.5"/>
<circle class="k1" cx="1198.0" cy="515.9"/>
<circle class="k0" cx="1156.9" cy="517.1"/>
<circle class="k15" cx="1073.0" cy="515.5"/>
<circle class="k1" cx="1170.4" cy="515.5"/>
<circle class="k22" cx="981.5" cy="516.1"/>
<circle class="k23" cx="1012.2" cy="515.5"/>
<circle class="k23" cx="1002.3" cy="515.5"/>
<circle class="k3" cx="1156.9" cy="514.9"/>
<circle class="k3" cx="1195.0" cy="515.9"/>
<circle class="k16" cx="1040.5" cy="515.8"/>
<circle class="k6" cx="1131.4" cy="513.9"/>
<circle class="k5" cx="1123.4" cy="514.9"/>
<circle class="k3" cx="1126.6" cy="514.9"/>
<circle class="k9" cx="1107.6" cy="515.5"/>
<circle class="k0" cx="1149.7" cy="514.0"/>
<circle class="k0" cx="1153.2" cy="515.5"/>
<circle class="k0" cx="1180.2" cy="515.8"/>
<circle class="k4" cx="1118.7" cy="515.7"/>
<circle class="k2" cx="1131.4" cy="517.7"/>
<circle class="k15" cx="1066.6" cy="515.8"/>
<circle class="k17" cx="1048.6" cy="515.8"/>
<circle class="k1" cx="1149.0" cy="516.5"/>
<circle class="k21" cx="952.9" cy="515.7"/>
<circle class="k0" cx="1202.2" cy="516.1"/>
<circle class="k7" cx="1113.3" cy="515.7"/>
<circle class="k2" cx="1177.7" cy="516.0"/>
<circle class="k1" cx="1132.3" cy="515.5"/>
<circle class="k13" cx="1083.7" cy="515.8"/>
<circle class="k0" cx="1149.0" cy="514.9"/>
<circle class="k2" cx="1129.5" cy="514.5"/>
<circle class="k1" cx="1143.0" cy="517.5"/>
<circle class="k20" cx="1034.7" cy="515.8"/>
<circle class="k16" cx="1064.5" cy="515.6"/>
<circle class="k15" cx="1055.2" cy="515.6"/>
<circle class="k0" cx="1162.5" cy="516.1"/>
<circle class="k22" cx="978.0" cy="515.6"/>
<circle class="k0" cx="1143.0" cy="514.3"/>
<circle class="k23" cx="1018.8" cy="515.9"/>
<circle class="k19" cx="1059.7" cy="515.9"/>
<circle class="k0" cx="1138.6" cy="515.8"/>
<circle class="k22" cx="983.3" cy="515.7"/>
<circle class="k15" cx="1075.8" cy="515.6"/>
<circle class="k21" cx="1016.2" cy="516.0"/>
<circle class="k21" cx="1028.9" cy="515.7"/>
<circle class="k0" cx="1138.5" cy="518.0"/>
<circle class="k23" cx="1004.7" cy="515.6"/>
<circle class="k0" cx="1153.9" cy="515.5"/>
<circle class="k7" cx="1106.1" cy="515.5"/>
<circle class="k0" cx="1217.5" cy="516.1"/>
<circle class="k5" cx="1116.2" cy="516.1"/>
<circle class="k1" cx="1135.2" cy="516.8"/>
<circle class="k0" cx="1193.6" cy="515.5"/>
<circle class="k23" cx="992.0" cy="515.6"/>
<circle class="k23" cx="986.2" cy="515.6"/>
<circle class="k0" cx="1160.2" cy="515.9"/>
<circle class="k17" cx="1051.6" cy="515.5"/>
<circle class="k0" cx="1184.0" cy="515.9"/>
<circle class="k23" cx="1000.2" cy="516.1"/>
<circle class="k15" cx="1077.4" cy="516.1"/>
<circle class="k1" cx="1151.3" cy="516.8"/>
<circle class="k21" cx="1008.6" cy="516.0"/>
<circle class="k1" cx="1134.8" cy="514.1"/>
<circle class="k2" cx="1132.9" cy="514.5"/>
<circle class="k3" cx="1122.2" cy="516.0"/>
<circle class="k9" cx="1101.2" cy="516.1"/>
<circle class="k2" cx="1126.6" cy="517.0"/>
<circle class="k23" cx="973.5" cy="515.7"/>
<circle class="k0" cx="1140.8" cy="515.7"/>
<circle class="k3" cx="1128.4" cy="514.0"/>
<circle class="k10" cx="1097.9" cy="515.6"/>
<circle class="k13" cx="1095.0" cy="516.1"/>
<circle class="k23" cx="957.7" cy="515.8"/>
<circle class="k6" cx="1119.4" cy="517.1"/>
<circle class="k1" cx="1138.5" cy="515.2"/>
<circle class="k23" cx="1013.4" cy="515.7"/>
<circle class="k19" cx="1043.2" cy="515.6"/>
<circle class="k0" cx="1214.6" cy="515.6"/>
<circle class="k1" cx="1135.2" cy="515.0"/>
<circle class="k0" cx="1138.5" cy="516.9"/>
<circle class="k0" cx="1144.7" cy="516.0"/>
<circle class="k3" cx="1132.9" cy="516.5"/>
<circle class="k0" cx="1182.0" cy="516.1"/>
<circle class="k0" cx="1134.8" cy="517.7"/>
<circle class="k22" cx="1027.9" cy="516.1"/>
<circle class="k2" cx="1128.4" cy="517.5"/>
<circle class="k0" cx="1144.7" cy="514.0"/>
<circle class="k23" cx="929.6" cy="515.8"/>
<circle class="k8" cx="1104.1" cy="515.6"/>
<circle class="k1" cx="1141.3" cy="514.9"/>
<circle class="k23" cx="975.8" cy="515.9"/>
<circle class="k5" cx="1127.6" cy="515.8"/>
<circle class="k0" cx="1149.7" cy="517.6"/>
<circle class="k15" cx="1057.2" cy="516.1"/>
<circle class="k12" cx="1081.6" cy="516.0"/>
<circle class="k0" cx="1154.6" cy="516.8"/>
<circle class="k23" cx="956.3" cy="515.5"/>
<circle class="k4" cx="1130.3" cy="515.8"/>
<circle class="k3" cx="1112.1" cy="515.5"/>
<circle class="k0" cx="1208.5" cy="516.1"/>
<circle class="k2" cx="1157.4" cy="515.6"/>
<circle class="k0" cx="1141.3" cy="517.1"/>
<circle class="k1" cx="1136.3" cy="515.9"/>
<circle class="k1" cx="1166.3" cy="516.1"/>
<circle class="k0" cx="1190.3" cy="515.6"/>
<circle class="k0" cx="1187.5" cy="515.5"/>
<circle class="k17" cx="1062.9" cy="516.1"/>
<circle class="k23" cx="960.2" cy="515.8"/>
<circle class="k0" cx="1144.7" cy="514.7"/>
<circle class="k19" cx="1047.1" cy="515.6"/>
<circle class="k1" cx="1147.7" cy="515.9"/>
<circle class="k21" cx="1031.8" cy="516.0"/>
<circle class="k23" cx="997.8" cy="515.8"/>
<circle class="k23" cx="995.0" cy="515.6"/>
<circle class="k3" cx="1138.5" cy="513.7"/>
<circle class="k0" cx="1169.4" cy="516.1"/>
<circle class="k4" cx="1125.1" cy="515.5"/>
<circle class="k0" cx="1202.8" cy="515.5"/>
<circle class="k23" cx="989.5" cy="516.1"/>
<circle class="k2" cx="1129.5" cy="516.6"/>
<circle class="k17" cx="1037.7" cy="516.1"/>
<circle class="k5" cx="1119.4" cy="515.0"/>
<circle class="k4" cx="1123.4" cy="516.4"/>
<circle class="k16" cx="1071.3" cy="515.8"/>
<circle class="k0" cx="1174.0" cy="516.0"/>
<circle class="k0" cx="1150.4" cy="515.5"/>
<circle class="k0" cx="1151.3" cy="514.7"/>
<circle class="k4" cx="1100.8" cy="503.3"/>
<circle class="k5" cx="1100.4" cy="505.6"/>
<circle class="k3" cx="1100.4" cy="507.8"/>
<circle class="k5" cx="1100.5" cy="510.1"/>
<circle class="k3" cx="1101.0" cy="512.4"/>
<circle class="k2" cx="1100.7" cy="514.7"/>
<circle class="k2" cx="1101.1" cy="516.9"/>
<circle class="k3" cx="1100.5" cy="519.2"/>
<circle class="k3" cx="1100.6" cy="521.5"/>
<circle class="k1" cx="1100.3" cy="523.8"/>
<circle class="k5" cx="1101.0" cy="526.0"/>
<circle class="k5" cx="1100.9" cy="528.3"/>
<circle class="k3" cx="1060.0" cy="549.6"/>
<circle class="k2" cx="1034.9" cy="549.6"/>
<circle class="k1" cx="1047.8" cy="549.1"/>
<circle class="k23" cx="1242.2" cy="549.4"/>
<circle class="k23" cx="1176.9" cy="549.5"/>
<circle class="k12" cx="1089.5" cy="549.3"/>
<circle class="k16" cx="1135.3" cy="549.3"/>
<circle class="k23" cx="1258.9" cy="549.4"/>
<circle class="k22" cx="1240.0" cy="549.4"/>
<circle class="k13" cx="1113.5" cy="549.7"/>
<circle class="k5" cx="1067.4" cy="547.8"/>
<circle class="k6" cx="1073.9" cy="551.1"/>
<circle class="k17" cx="1155.9" cy="549.5"/>
<circle class="k17" cx="1152.9" cy="549.4"/>
<circle class="k22" cx="1226.2" cy="549.3"/>
<circle class="k19" cx="1158.3" cy="549.6"/>
<circle class="k18" cx="1160.9" cy="549.6"/>
<circle class="k15" cx="1122.8" cy="549.2"/>
<circle class="k9" cx="1083.0" cy="548.1"/>
<circle class="k0" cx="1011.7" cy="549.4"/>
<circle class="k6" cx="1070.7" cy="551.4"/>
<circle class="k23" cx="1214.8" cy="549.1"/>
<circle class="k0" cx="1009.9" cy="549.3"/>
<circle class="k21" cx="1228.5" cy="549.6"/>
<circle class="k4" cx="1072.8" cy="549.7"/>
<circle class="k5" cx="1080.4" cy="549.3"/>
<circle class="k13" cx="1118.7" cy="549.7"/>
<circle class="k0" cx="1037.8" cy="549.4"/>
<circle class="k0" cx="1015.3" cy="549.3"/>
<circle class="k1" cx="1051.6" cy="549.1"/>
<circle class="k0" cx="994.7" cy="549.4"/>
<circle class="k8" cx="1083.9" cy="549.1"/>
<circle class="k10" cx="1092.0" cy="549.7"/>
<circle class="k0" cx="1018.5" cy="549.5"/>
<circle class="k15" cx="1141.5" cy="549.5"/>
<circle class="k13" cx="1117.7" cy="549.1"/>
<circle class="k1" cx="1007.9" cy="549.3"/>
<circle class="k8" cx="1078.2" cy="551.0"/>
<circle class="k17" cx="1143.0" cy="549.5"/>
<circle class="k2" cx="1020.4" cy="549.7"/>
<circle class="k23" cx="1292.6" cy="549.3"/>
<circle class="k8" cx="1086.2" cy="549.7"/>
<circle class="k7" cx="1078.2" cy="547.5"/>
<circle class="k1" cx="1052.9" cy="549.4"/>
<circle class="k0" cx="1028.1" cy="549.6"/>
<circle class="k4" cx="1060.3" cy="550.6"/>
<circle class="k23" cx="1189.2" cy="549.7"/>
<circle class="k23" cx="1207.4" cy="549.1"/>
<circle class="k8" cx="1083.0" cy="550.4"/>
<circle class="k7" cx="1067.5" cy="548.3"/>
<circle class="k5" cx="1060.3" cy="548.1"/>
<circle class="k5" cx="1066.5" cy="549.6"/>
<circle class="k7" cx="1077.3" cy="548.5"/>
<circle class="k5" cx="1062.6" cy="551.4"/>
<circle class="k23" cx="1202.4" cy="549.6"/>
<circle class="k23" cx="1199.9" cy="549.5"/>
<circle class="k0" cx="983.1" cy="549.4"/>
<circle class="k22" cx="1224.5" cy="549.4"/>
<circle class="k8" cx="1077.9" cy="549.1"/>
<circle class="k21" cx="1179.7" cy="549.4"/>
<circle class="k9" cx="1070.0" cy="550.5"/>
<circle class="k3" cx="1045.1" cy="549.6"/>
<circle class="k22" cx="1209.4" cy="549.5"/>
<circle class="k20" cx="1185.2" cy="549.5"/>
<circle class="k5" cx="1075.8" cy="549.1"/>
<circle class="k15" cx="1137.6" cy="549.1"/>
<circle class="k5" cx="1064.7" cy="549.6"/>
<circle class="k23" cx="1231.5" cy="549.2"/>
<circle class="k21" cx="1193.2" cy="549.7"/>
<circle class="k1" cx="1042.0" cy="549.6"/>
<circle class="k23" cx="1297.8" cy="549.7"/>
<circle class="k4" cx="1061.2" cy="549.4"/>
<circle class="k6" cx="1070.0" cy="548.3"/>
<circle class="k7" cx="1067.4" cy="551.1"/>
<circle class="k5" cx="1064.5" cy="550.0"/>
<circle class="k1" cx="1058.8" cy="548.2"/>
<circle class="k22" cx="1211.7" cy="549.4"/>
<circle class="k4" cx="1058.8" cy="550.8"/>
<circle class="k0" cx="1027.1" cy="549.2"/>
<circle class="k8" cx="1070.7" cy="547.8"/>
<circle class="k15" cx="1145.0" cy="549.4"/>
<circle class="k22" cx="1197.6" cy="549.6"/>
<circle class="k7" cx="1074.0" cy="548.0"/>
<circle class="k5" cx="1073.9" cy="547.9"/>
<circle class="k23" cx="1294.5" cy="549.6"/>
<circle class="k23" cx="1184.0" cy="549.3"/>
<circle class="k7" cx="1077.3" cy="550.4"/>
<circle class="k6" cx="1067.5" cy="550.4"/>
<circle class="k4" cx="1062.6" cy="547.5"/>
<circle class="k3" cx="1057.3" cy="549.7"/>
<circle class="k20" cx="1190.3" cy="549.1"/>
<circle class="k21" cx="1175.2" cy="549.1"/>
<circle class="k21" cx="1217.3" cy="549.6"/>
<circle class="k0" cx="1031.8" cy="549.6"/>
<circle class="k20" cx="1204.4" cy="549.7"/>
<circle class="k4" cx="1074.0" cy="550.3"/>
<circle class="k16" cx="1148.2" cy="549.2"/>
<circle class="k21" cx="1220.8" cy="549.7"/>
<circle class="k23" cx="1278.7" cy="549.4"/>
<circle class="k22" cx="1237.9" cy="549.1"/>
<circle class="k18" cx="1164.0" cy="549.5"/>
<circle class="k4" cx="1064.5" cy="548.4"/>
<circle class="k7" cx="1080.0" cy="550.0"/>
<circle class="k7" cx="1080.0" cy="548.4"/>
<circle class="k17" cx="1151.7" cy="549.2"/>
<circle class="k0" cx="1040.9" cy="549.5"/>
<circle class="k0" cx="1024.2" cy="549.6"/>
<circle class="k6" cx="1070.9" cy="549.4"/>
<circle class="k22" cx="1233.8" cy="549.7"/>
<circle class="k1" cx="1004.4" cy="549.7"/>
<circle class="k11" cx="1100.5" cy="536.9"/>
<circle class="k13" cx="1100.6" cy="539.2"/>
<circle class="k10" cx="1101.1" cy="541.4"/>
<circle class="k11" cx="1100.6" cy="543.7"/>
<circle class="k12" cx="1101.1" cy="546.0"/>
<circle class="k9" cx="1100.8" cy="548.3"/>
<circle class="k10" cx="1101.1" cy="550.5"/>
<circle class="k11" cx="1100.7" cy="552.8"/>
<circle class="k12" cx="1100.5" cy="555.1"/>
<circle class="k10" cx="1100.4" cy="557.4"/>
<circle class="k10" cx="1100.7" cy="559.6"/>
<circle class="k10" cx="1101.0" cy="561.9"/>
<circle class="k1" cx="1153.8" cy="582.9"/>
<circle class="k0" cx="1166.2" cy="583.2"/>
<circle class="k0" cx="1134.4" cy="583.8"/>
<circle class="k0" cx="1151.7" cy="582.8"/>
<circle class="k2" cx="1131.8" cy="583.0"/>
<circle class="k2" cx="1141.0" cy="582.9"/>
<circle class="k0" cx="1175.9" cy="582.8"/>
<circle class="k0" cx="1142.3" cy="583.3"/>
<circle class="k0" cx="1154.6" cy="582.0"/>
<circle class="k1" cx="1151.8" cy="585.1"/>
<circle class="k1" cx="1146.7" cy="583.1"/>
<circle class="k0" cx="1144.1" cy="583.8"/>
<circle class="k1" cx="1161.7" cy="582.8"/>
<circle class="k22" cx="977.6" cy="583.1"/>
<circle class="k20" cx="1025.7" cy="583.2"/>
<circle class="k0" cx="1151.8" cy="584.0"/>
<circle class="k0" cx="1156.9" cy="583.1"/>
<circle class="k18" cx="1074.9" cy="583.2"/>
<circle class="k23" cx="1011.4" cy="582.9"/>
<circle class="k22" cx="1007.9" cy="583.1"/>
<circle class="k0" cx="1165.3" cy="583.1"/>
<circle class="k15" cx="1077.5" cy="583.1"/>
<circle class="k0" cx="1144.9" cy="581.2"/>
<circle class="k0" cx="1185.2" cy="583.1"/>
<circle class="k0" cx="1159.7" cy="583.3"/>
<circle class="k4" cx="1123.1" cy="583.2"/>
<circle class="k0" cx="1180.7" cy="583.0"/>
<circle class="k0" cx="1148.5" cy="583.7"/>
<circle class="k0" cx="1147.4" cy="584.7"/>
<circle class="k17" cx="1038.2" cy="583.1"/>
<circle class="k17" cx="1040.8" cy="583.3"/>
<circle class="k16" cx="1082.0" cy="583.0"/>
<circle class="k1" cx="1170.2" cy="583.0"/>
<circle class="k19" cx="1046.4" cy="582.9"/>
<circle class="k1" cx="1138.8" cy="582.0"/>
<circle class="k1" cx="1134.4" cy="581.8"/>
<circle class="k5" cx="1122.0" cy="582.9"/>
<circle class="k13" cx="1082.9" cy="582.8"/>
<circle class="k2" cx="1137.6" cy="583.3"/>
<circle class="k23" cx="962.4" cy="582.9"/>
<circle class="k16" cx="1062.8" cy="583.3"/>
<circle class="k0" cx="1144.1" cy="582.2"/>
<circle class="k23" cx="1012.7" cy="583.3"/>
<circle class="k2" cx="1140.8" cy="582.0"/>
<circle class="k2" cx="1151.8" cy="580.9"/>
<circle class="k2" cx="1137.2" cy="580.7"/>
<circle class="k0" cx="1148.5" cy="583.2"/>
<circle class="k2" cx="1130.4" cy="584.2"/>
<circle class="k23" cx="988.1" cy="583.2"/>
<circle class="k14" cx="1092.0" cy="583.0"/>
<circle class="k3" cx="1129.6" cy="582.9"/>
<circle class="k22" cx="1004.9" cy="583.0"/>
<circle class="k11" cx="1088.4" cy="583.1"/>
<circle class="k0" cx="1183.1" cy="582.9"/>
<circle class="k0" cx="1203.7" cy="583.3"/>
<circle class="k0" cx="1173.2" cy="582.8"/>
<circle class="k2" cx="1137.2" cy="584.8"/>
<circle class="k9" cx="1115.1" cy="583.1"/>
<circle class="k17" cx="1055.7" cy="583.2"/>
<circle class="k1" cx="1188.7" cy="583.2"/>
<circle class="k8" cx="1113.5" cy="583.2"/>
<circle class="k16" cx="1064.1" cy="583.1"/>
<circle class="k0" cx="1158.2" cy="583.9"/>
<circle class="k0" cx="1198.4" cy="583.1"/>
<circle class="k3" cx="1130.4" cy="581.9"/>
<circle class="k14" cx="1086.6" cy="583.3"/>
<circle class="k0" cx="1193.6" cy="583.0"/>
<circle class="k2" cx="1142.0" cy="581.2"/>
<circle class="k23" cx="1002.0" cy="583.0"/>
<circle class="k15" cx="1072.8" cy="582.7"/>
<circle class="k7" cx="1118.3" cy="583.1"/>
<circle class="k0" cx="1196.4" cy="583.1"/>
<circle class="k23" cx="1014.7" cy="583.1"/>
<circle class="k0" cx="1144.9" cy="584.7"/>
<circle class="k23" cx="991.5" cy="583.2"/>
<circle class="k23" cx="1021.7" cy="583.3"/>
<circle class="k0" cx="1154.6" cy="583.9"/>
<circle class="k20" cx="999.4" cy="582.7"/>
<circle class="k22" cx="979.9" cy="582.8"/>
<circle class="k21" cx="1030.0" cy="582.7"/>
<circle class="k19" cx="1035.1" cy="583.3"/>
<circle class="k17" cx="1043.4" cy="583.2"/>
<circle class="k0" cx="1158.2" cy="581.9"/>
<circle class="k3" cx="1134.6" cy="585.2"/>
<circle class="k23" cx="983.0" cy="583.2"/>
<circle class="k0" cx="1140.8" cy="584.0"/>
<circle class="k17" cx="1051.6" cy="583.2"/>
<circle class="k0" cx="1147.4" cy="580.7"/>
<circle class="k21" cx="1032.2" cy="583.1"/>
<circle class="k21" cx="1023.7" cy="583.3"/>
<circle class="k2" cx="1134.6" cy="581.0"/>
<circle class="k23" cx="993.8" cy="583.2"/>
<circle class="k3" cx="1128.0" cy="581.6"/>
<circle class="k1" cx="1190.3" cy="582.8"/>
<circle class="k0" cx="1201.6" cy="582.7"/>
<circle class="k0" cx="1142.0" cy="584.9"/>
<circle class="k0" cx="1148.5" cy="582.0"/>
<circle class="k1" cx="1207.2" cy="583.3"/>
<circle class="k0" cx="1134.4" cy="582.9"/>
<circle class="k14" cx="1068.3" cy="583.3"/>
<circle class="k23" cx="995.9" cy="583.1"/>
<circle class="k23" cx="985.0" cy="582.9"/>
<circle class="k19" cx="1049.3" cy="582.9"/>
<circle class="k1" cx="1178.0" cy="583.2"/>
<circle class="k23" cx="966.4" cy="582.7"/>
<circle class="k3" cx="1128.0" cy="583.6"/>
<circle class="k0" cx="1212.8" cy="583.0"/>
<circle class="k23" cx="1017.6" cy="583.2"/>
<circle class="k3" cx="1127.6" cy="583.2"/>
<circle class="k1" cx="1138.8" cy="583.8"/>
<circle class="k17" cx="1052.8" cy="582.9"/>
<circle class="k19" cx="1058.7" cy="582.7"/>
<circle class="k15" cx="1070.9" cy="582.9"/>
<circle class="k0" cx="1151.8" cy="582.2"/>
<circle class="k10" cx="1101.1" cy="570.5"/>
<circle class="k12" cx="1100.7" cy="572.8"/>
<circle class="k11" cx="1100.9" cy="575.0"/>
<circle class="k12" cx="1100.8" cy="577.3"/>
<circle class="k11" cx="1100.4" cy="579.6"/>
<circle class="k10" cx="1100.7" cy="581.9"/>
<circle class="k10" cx="1100.4" cy="584.1"/>
<circle class="k12" cx="1100.8" cy="586.4"/>
<circle class="k11" cx="1101.0" cy="588.7"/>
<circle class="k11" cx="1101.1" cy="591.0"/>
<circle class="k10" cx="1100.6" cy="593.2"/>
<circle class="k12" cx="1100.7" cy="595.5"/>
<circle class="k23" cx="1250.4" cy="616.5"/>
<circle class="k16" cx="1200.2" cy="616.5"/>
<circle class="k0" cx="1044.8" cy="616.8"/>
<circle class="k23" cx="1258.6" cy="616.8"/>
<circle class="k17" cx="1193.5" cy="616.8"/>
<circle class="k8" cx="1110.8" cy="616.7"/>
<circle class="k23" cx="1277.9" cy="616.6"/>
<circle class="k15" cx="1162.4" cy="616.3"/>
<circle class="k6" cx="1114.3" cy="616.9"/>
<circle class="k17" cx="1200.9" cy="616.7"/>
<circle class="k18" cx="1180.8" cy="616.8"/>
<circle class="k6" cx="1078.5" cy="616.5"/>
<circle class="k2" cx="979.2" cy="616.9"/>
<circle class="k2" cx="1004.5" cy="616.4"/>
<circle class="k23" cx="1321.9" cy="616.6"/>
<circle class="k0" cx="1033.1" cy="616.6"/>
<circle class="k0" cx="1047.4" cy="616.8"/>
<circle class="k8" cx="1122.1" cy="616.3"/>
<circle class="k3" cx="1059.8" cy="616.3"/>
<circle class="k5" cx="1068.1" cy="616.6"/>
<circle class="k23" cx="1245.6" cy="616.6"/>
<circle class="k21" cx="1216.0" cy="616.5"/>
<circle class="k12" cx="1148.5" cy="616.7"/>
<circle class="k9" cx="1127.8" cy="616.4"/>
<circle class="k22" cx="1206.5" cy="616.3"/>
<circle class="k0" cx="1006.7" cy="616.4"/>
<circle class="k21" cx="1210.5" cy="616.7"/>
<circle class="k12" cx="1153.3" cy="616.3"/>
<circle class="k0" cx="1008.8" cy="616.7"/>
<circle class="k23" cx="1218.3" cy="616.9"/>
<circle class="k20" cx="1212.5" cy="616.8"/>
<circle class="k1" cx="982.9" cy="616.5"/>
<circle class="k17" cx="1185.9" cy="616.6"/>
<circle class="k11" cx="1132.7" cy="616.4"/>
<circle class="k1" cx="998.4" cy="616.3"/>
<circle class="k14" cx="1160.1" cy="616.6"/>
<circle class="k8" cx="1073.3" cy="616.9"/>
<circle class="k0" cx="1040.8" cy="616.5"/>
<circle class="k17" cx="1191.3" cy="616.5"/>
<circle class="k1" cx="1020.4" cy="616.7"/>
<circle class="k23" cx="1229.7" cy="616.8"/>
<circle class="k1" cx="1053.8" cy="616.6"/>
<circle class="k20" cx="1204.6" cy="616.4"/>
<circle class="k2" cx="1063.1" cy="616.4"/>
<circle class="k0" cx="1001.8" cy="616.7"/>
<circle class="k0" cx="1036.8" cy="616.5"/>
<circle class="k20" cx="1223.5" cy="616.5"/>
<circle class="k8" cx="1092.0" cy="616.4"/>
<circle class="k7" cx="1089.0" cy="616.6"/>
<circle class="k16" cx="1183.4" cy="616.6"/>
<circle class="k0" cx="1039.5" cy="616.9"/>
<circle class="k0" cx="1027.3" cy="616.3"/>
<circle class="k7" cx="1107.7" cy="616.3"/>
<circle class="k11" cx="1139.3" cy="616.7"/>
<circle class="k5" cx="1075.1" cy="616.9"/>
<circle class="k23" cx="1226.2" cy="616.8"/>
<circle class="k23" cx="1233.6" cy="616.9"/>
<circle class="k16" cx="1189.2" cy="616.6"/>
<circle class="k6" cx="1103.2" cy="616.5"/>
<circle class="k23" cx="1248.3" cy="616.6"/>
<circle class="k6" cx="1071.0" cy="616.6"/>
<circle class="k10" cx="1106.8" cy="616.8"/>
<circle class="k16" cx="1174.7" cy="616.7"/>
<circle class="k7" cx="1083.2" cy="616.3"/>
<circle class="k22" cx="1235.8" cy="616.6"/>
<circle class="k2" cx="1049.2" cy="616.8"/>
<circle class="k0" cx="992.9" cy="616.3"/>
<circle class="k23" cx="1260.7" cy="616.7"/>
<circle class="k9" cx="1126.1" cy="616.6"/>
<circle class="k22" cx="1240.3" cy="616.4"/>
<circle class="k7" cx="1080.3" cy="616.6"/>
<circle class="k1" cx="1014.4" cy="616.3"/>
<circle class="k0" cx="1025.3" cy="616.5"/>
<circle class="k0" cx="1011.1" cy="616.9"/>
<circle class="k11" cx="1131.9" cy="616.3"/>
<circle class="k23" cx="1253.7" cy="616.3"/>
<circle class="k23" cx="1232.0" cy="616.3"/>
<circle class="k14" cx="1171.9" cy="616.9"/>
<circle class="k7" cx="1087.7" cy="616.8"/>
<circle class="k14" cx="1164.4" cy="616.6"/>
<circle class="k20" cx="1241.1" cy="616.5"/>
<circle class="k7" cx="1119.1" cy="616.8"/>
<circle class="k0" cx="996.4" cy="616.6"/>
<circle class="k17" cx="1197.0" cy="616.9"/>
<circle class="k23" cx="1221.7" cy="616.8"/>
<circle class="k1" cx="976.4" cy="616.4"/>
<circle class="k11" cx="1155.5" cy="616.8"/>
<circle class="k0" cx="960.1" cy="616.6"/>
<circle class="k11" cx="1150.3" cy="616.4"/>
<circle class="k16" cx="1170.9" cy="616.4"/>
<circle class="k0" cx="1051.9" cy="616.6"/>
<circle class="k1" cx="1030.2" cy="616.5"/>
<circle class="k15" cx="1168.2" cy="616.4"/>
<circle class="k4" cx="1066.1" cy="616.3"/>
<circle class="k16" cx="1177.2" cy="616.8"/>
<circle class="k1" cx="1057.8" cy="616.8"/>
<circle class="k23" cx="1255.6" cy="616.7"/>
<circle class="k4" cx="1016.6" cy="616.8"/>
<circle class="k0" cx="1021.3" cy="616.6"/>
<circle class="k23" cx="1293.5" cy="616.6"/>
<circle class="k13" cx="1135.9" cy="616.8"/>
<circle class="k10" cx="1118.2" cy="616.9"/>
<circle class="k8" cx="1100.9" cy="604.1"/>
<circle class="k7" cx="1100.8" cy="606.4"/>
<circle class="k7" cx="1100.4" cy="608.6"/>
<circle class="k8" cx="1101.0" cy="610.9"/>
<circle class="k6" cx="1100.7" cy="613.2"/>
<circle class="k6" cx="1100.9" cy="615.5"/>
<circle class="k8" cx="1100.7" cy="617.7"/>
<circle class="k8" cx="1100.9" cy="620.0"/>
<circle class="k7" cx="1100.9" cy="622.3"/>
<circle class="k7" cx="1100.6" cy="624.6"/>
<circle class="k7" cx="1101.0" cy="626.8"/>
<circle class="k8" cx="1101.1" cy="629.1"/>
<circle class="k0" cx="1048.3" cy="649.2"/>
<circle class="k3" cx="1045.5" cy="649.3"/>
<circle class="k18" cx="1189.2" cy="650.3"/>
<circle class="k9" cx="1133.3" cy="649.9"/>
<circle class="k1" cx="1055.8" cy="648.3"/>
<circle class="k0" cx="1073.4" cy="650.1"/>
<circle class="k11" cx="1155.3" cy="650.5"/>
<circle class="k2" cx="1060.9" cy="650.5"/>
<circle class="k0" cx="1042.5" cy="648.4"/>
<circle class="k23" cx="1205.7" cy="649.9"/>
<circle class="k0" cx="1081.2" cy="650.4"/>
<circle class="k23" cx="1203.7" cy="650.1"/>
<circle class="k0" cx="1074.9" cy="651.4"/>
<circle class="k14" cx="1162.9" cy="650.1"/>
<circle class="k9" cx="1116.6" cy="650.3"/>
<circle class="k1" cx="1030.1" cy="651.5"/>
<circle class="k8" cx="1120.3" cy="649.9"/>
<circle class="k2" cx="1054.9" cy="651.1"/>
<circle class="k0" cx="1078.7" cy="650.1"/>
<circle class="k0" cx="1022.7" cy="650.4"/>
<circle class="k0" cx="1048.9" cy="648.0"/>
<circle class="k0" cx="1052.8" cy="648.0"/>
<circle class="k17" cx="1173.5" cy="650.0"/>
<circle class="k2" cx="1052.6" cy="649.3"/>
<circle class="k8" cx="1128.2" cy="650.3"/>
<circle class="k12" cx="1146.4" cy="649.9"/>
<circle class="k15" cx="1166.9" cy="650.1"/>
<circle class="k0" cx="1064.5" cy="648.6"/>
<circle class="k12" cx="1159.8" cy="650.1"/>
<circle class="k15" cx="1178.8" cy="650.3"/>
<circle class="k21" cx="1224.7" cy="650.3"/>
<circle class="k11" cx="1126.0" cy="650.1"/>
<circle class="k21" cx="1217.3" cy="650.5"/>
<circle class="k0" cx="1039.7" cy="650.3"/>
<circle class="k15" cx="1175.3" cy="649.9"/>
<circle class="k14" cx="1148.5" cy="650.0"/>
<circle class="k0" cx="1047.3" cy="650.2"/>
<circle class="k1" cx="1039.4" cy="649.0"/>
<circle class="k0" cx="1039.4" cy="651.1"/>
<circle class="k0" cx="1058.3" cy="648.7"/>
<circle class="k0" cx="1054.6" cy="650.0"/>
<circle class="k1" cx="1061.6" cy="651.0"/>
<circle class="k0" cx="1047.0" cy="648.5"/>
<circle class="k20" cx="1195.4" cy="650.5"/>
<circle class="k7" cx="1111.4" cy="650.5"/>
<circle class="k1" cx="1061.6" cy="649.2"/>
<circle class="k0" cx="1048.9" cy="652.1"/>
<circle class="k2" cx="1064.9" cy="650.9"/>
<circle class="k22" cx="1211.4" cy="650.1"/>
<circle class="k20" cx="1222.8" cy="650.3"/>
<circle class="k8" cx="1121.2" cy="650.3"/>
<circle class="k1" cx="1052.8" cy="651.8"/>
<circle class="k9" cx="1130.4" cy="650.4"/>
<circle class="k22" cx="1197.3" cy="650.3"/>
<circle class="k2" cx="1092.0" cy="650.1"/>
<circle class="k0" cx="1037.3" cy="649.1"/>
<circle class="k2" cx="1048.3" cy="651.0"/>
<circle class="k17" cx="1170.3" cy="650.3"/>
<circle class="k1" cx="1032.8" cy="649.1"/>
<circle class="k0" cx="1034.5" cy="650.4"/>
<circle class="k1" cx="1025.8" cy="650.1"/>
<circle class="k21" cx="1192.7" cy="649.9"/>
<circle class="k0" cx="1047.0" cy="652.1"/>
<circle class="k0" cx="1068.0" cy="649.0"/>
<circle class="k10" cx="1138.9" cy="650.1"/>
<circle class="k0" cx="1068.0" cy="651.5"/>
<circle class="k0" cx="1054.9" cy="649.0"/>
<circle class="k1" cx="1064.9" cy="649.6"/>
<circle class="k0" cx="1067.4" cy="650.4"/>
<circle class="k17" cx="1164.6" cy="650.3"/>
<circle class="k1" cx="1063.6" cy="650.2"/>
<circle class="k0" cx="1007.0" cy="650.2"/>
<circle class="k0" cx="1059.4" cy="651.4"/>
<circle class="k0" cx="1040.4" cy="648.5"/>
<circle class="k12" cx="1151.3" cy="650.2"/>
<circle class="k0" cx="1061.2" cy="652.2"/>
<circle class="k21" cx="1208.5" cy="649.9"/>
<circle class="k23" cx="1269.2" cy="650.2"/>
<circle class="k2" cx="1058.3" cy="652.4"/>
<circle class="k20" cx="1187.3" cy="649.9"/>
<circle class="k12" cx="1143.5" cy="649.9"/>
<circle class="k19" cx="1183.6" cy="649.9"/>
<circle class="k11" cx="1135.2" cy="650.4"/>
<circle class="k0" cx="1055.8" cy="652.3"/>
<circle class="k0" cx="1070.7" cy="650.5"/>
<circle class="k2" cx="1056.6" cy="649.9"/>
<circle class="k0" cx="1045.2" cy="650.4"/>
<circle class="k1" cx="1019.9" cy="650.0"/>
<circle class="k1" cx="1086.9" cy="650.1"/>
<circle class="k13" cx="1157.5" cy="650.0"/>
<circle class="k0" cx="1037.3" cy="651.1"/>
<circle class="k1" cx="1045.5" cy="651.4"/>
<circle class="k1" cx="1040.4" cy="651.9"/>
<circle class="k12" cx="1141.9" cy="650.0"/>
<circle class="k1" cx="1035.2" cy="650.1"/>
<circle class="k2" cx="1031.0" cy="650.2"/>
<circle class="k23" cx="1229.9" cy="650.3"/>
<circle class="k1" cx="1052.6" cy="651.0"/>
<circle class="k3" cx="1032.8" cy="651.3"/>
<circle class="k1" cx="1085.0" cy="650.4"/>
<circle class="k1" cx="1070.9" cy="649.2"/>
<circle class="k0" cx="1049.9" cy="650.3"/>
<circle class="k0" cx="1059.4" cy="649.5"/>
<circle class="k0" cx="1030.1" cy="649.1"/>
<circle class="k22" cx="1218.0" cy="650.4"/>
<circle class="k0" cx="1052.7" cy="650.5"/>
<circle class="k0" cx="1041.6" cy="650.1"/>
<circle class="k0" cx="1065.9" cy="650.3"/>
<circle class="k0" cx="1064.5" cy="652.3"/>
<circle class="k0" cx="1061.2" cy="648.3"/>
<circle class="k0" cx="1075.7" cy="650.5"/>
<circle class="k0" cx="1070.9" cy="650.8"/>
<circle class="k4" cx="1090.3" cy="650.1"/>
<circle class="k1" cx="1017.6" cy="650.5"/>
<circle class="k0" cx="1042.5" cy="651.7"/>
<circle class="k22" cx="1227.0" cy="650.2"/>
<circle class="k0" cx="1043.3" cy="651.2"/>
<circle class="k23" cx="1213.8" cy="650.5"/>
<circle class="k0" cx="1027.2" cy="650.3"/>
<circle class="k23" cx="1199.2" cy="650.0"/>
<circle class="k16" cx="1181.0" cy="650.4"/>
<circle class="k8" cx="1113.8" cy="650.5"/>
<circle class="k1" cx="1043.3" cy="649.0"/>
<circle class="k0" cx="1074.9" cy="649.2"/>
<circle class="k2" cx="1101.0" cy="637.7"/>
<circle class="k3" cx="1100.9" cy="640.0"/>
<circle class="k3" cx="1100.4" cy="642.2"/>
<circle class="k0" cx="1100.6" cy="644.5"/>
<circle class="k2" cx="1100.7" cy="646.8"/>
<circle class="k4" cx="1101.0" cy="649.1"/>
<circle class="k2" cx="1100.3" cy="651.3"/>
<circle class="k2" cx="1100.4" cy="653.6"/>
<circle class="k2" cx="1101.0" cy="655.9"/>
<circle class="k6" cx="1100.3" cy="658.2"/>
<circle class="k4" cx="1100.6" cy="660.4"/>
<circle class="k2" cx="1100.7" cy="662.7"/>
<circle class="k21" cx="1035.4" cy="683.6"/>
<circle class="k1" cx="1164.8" cy="683.7"/>
<circle class="k21" cx="1037.6" cy="683.6"/>
<circle class="k2" cx="1189.4" cy="683.8"/>
<circle class="k0" cx="1227.8" cy="684.0"/>
<circle class="k12" cx="1106.9" cy="683.7"/>
<circle class="k23" cx="1027.1" cy="684.1"/>
<circle class="k11" cx="1081.5" cy="683.7"/>
<circle class="k0" cx="1225.1" cy="683.5"/>
<circle class="k14" cx="1076.7" cy="683.5"/>
<circle class="k17" cx="1048.8" cy="683.9"/>
<circle class="k10" cx="1114.6" cy="683.7"/>
<circle class="k5" cx="1149.1" cy="683.7"/>
<circle class="k7" cx="1138.2" cy="683.8"/>
<circle class="k10" cx="1108.4" cy="683.8"/>
<circle class="k23" cx="978.2" cy="683.8"/>
<circle class="k17" cx="1050.9" cy="683.7"/>
<circle class="k17" cx="1061.3" cy="683.5"/>
<circle class="k0" cx="1193.4" cy="684.0"/>
<circle class="k22" cx="1005.6" cy="684.1"/>
<circle class="k23" cx="999.3" cy="684.1"/>
<circle class="k23" cx="1011.0" cy="684.0"/>
<circle class="k12" cx="1084.5" cy="683.9"/>
<circle class="k23" cx="987.7" cy="683.8"/>
<circle class="k22" cx="1002.1" cy="683.9"/>
<circle class="k23" cx="1020.7" cy="684.0"/>
<circle class="k0" cx="1206.6" cy="683.7"/>
<circle class="k4" cx="1155.5" cy="683.6"/>
<circle class="k7" cx="1133.4" cy="683.5"/>
<circle class="k11" cx="1092.0" cy="684.1"/>
<circle class="k22" cx="1012.6" cy="683.7"/>
<circle class="k0" cx="1200.5" cy="683.7"/>
<circle class="k0" cx="1258.9" cy="683.8"/>
<circle class="k7" cx="1131.1" cy="684.1"/>
<circle class="k6" cx="1159.0" cy="683.9"/>
<circle class="k23" cx="1023.8" cy="683.7"/>
<circle class="k8" cx="1125.6" cy="684.1"/>
<circle class="k14" cx="1077.8" cy="683.9"/>
<circle class="k0" cx="1183.5" cy="683.9"/>
<circle class="k2" cx="1152.4" cy="683.5"/>
<circle class="k22" cx="1040.5" cy="683.7"/>
<circle class="k17" cx="1065.4" cy="683.7"/>
<circle class="k18" cx="1043.9" cy="683.5"/>
<circle class="k9" cx="1112.4" cy="683.6"/>
<circle class="k8" cx="1143.6" cy="683.9"/>
<circle class="k12" cx="1122.2" cy="683.6"/>
<circle class="k23" cx="1019.6" cy="683.9"/>
<circle class="k1" cx="1178.9" cy="683.6"/>
<circle class="k15" cx="1054.5" cy="684.0"/>
<circle class="k0" cx="1186.1" cy="684.1"/>
<circle class="k1" cx="1170.7" cy="683.9"/>
<circle class="k11" cx="1119.1" cy="683.7"/>
<circle class="k12" cx="1090.1" cy="684.0"/>
<circle class="k11" cx="1103.2" cy="683.5"/>
<circle class="k2" cx="1175.3" cy="684.1"/>
<circle class="k22" cx="1008.5" cy="684.1"/>
<circle class="k18" cx="1057.2" cy="683.8"/>
<circle class="k23" cx="1030.6" cy="683.6"/>
<circle class="k8" cx="1135.9" cy="683.8"/>
<circle class="k0" cx="1208.4" cy="683.6"/>
<circle class="k10" cx="1116.2" cy="683.8"/>
<circle class="k20" cx="1044.9" cy="683.8"/>
<circle class="k13" cx="1070.4" cy="683.6"/>
<circle class="k14" cx="1073.5" cy="684.0"/>
<circle class="k23" cx="1015.9" cy="683.8"/>
<circle class="k1" cx="1168.9" cy="683.7"/>
<circle class="k22" cx="1031.2" cy="683.8"/>
<circle class="k0" cx="1269.6" cy="683.8"/>
<circle class="k23" cx="997.0" cy="683.7"/>
<circle class="k0" cx="1214.3" cy="684.0"/>
<circle class="k1" cx="1195.8" cy="683.5"/>
<circle class="k0" cx="1203.2" cy="683.9"/>
<circle class="k0" cx="1197.5" cy="683.9"/>
<circle class="k23" cx="967.9" cy="683.8"/>
<circle class="k0" cx="1182.0" cy="683.7"/>
<circle class="k2" cx="1163.8" cy="684.0"/>
<circle class="k0" cx="1173.0" cy="683.8"/>
<circle class="k12" cx="1086.0" cy="684.1"/>
<circle class="k7" cx="1147.0" cy="684.1"/>
<circle class="k9" cx="1126.7" cy="683.5"/>
<circle class="k1" cx="1211.2" cy="683.6"/>
<circle class="k18" cx="1059.2" cy="683.9"/>
<circle class="k0" cx="1246.6" cy="683.8"/>
<circle class="k0" cx="1216.4" cy="683.9"/>
<circle class="k2" cx="1222.9" cy="683.7"/>
<circle class="k4" cx="1156.5" cy="684.1"/>
<circle class="k6" cx="1140.9" cy="683.7"/>
<circle class="k2" cx="1219.5" cy="684.1"/>
<circle class="k15" cx="1068.0" cy="683.5"/>
<circle class="k10" cx="1101.0" cy="671.3"/>
<circle class="k10" cx="1100.6" cy="673.6"/>
<circle class="k10" cx="1101.0" cy="675.8"/>
<circle class="k11" cx="1100.7" cy="678.1"/>
<circle class="k12" cx="1100.7" cy="680.4"/>
<circle class="k13" cx="1101.0" cy="682.7"/>
<circle class="k12" cx="1100.8" cy="684.9"/>
<circle class="k11" cx="1100.9" cy="687.2"/>
<circle class="k9" cx="1100.4" cy="689.5"/>
<circle class="k11" cx="1100.7" cy="691.8"/>
<circle class="k13" cx="1100.6" cy="694.0"/>
<circle class="k11" cx="1100.4" cy="696.3"/>
</g>
<line x1="837" x2="1476.5" y1="718.8" y2="718.8" stroke="#333" stroke-width="1.6"/>
<line x1="856.7" x2="856.7" y1="718.8" y2="724.8" stroke="#333" stroke-width="1.5"/>
<text class="dj" transform="translate(857.5,746.4) scale(0.975,1.09)" font-size="20" fill="#404040" text-anchor="middle">−0.04</text>
<line x1="978.7" x2="978.7" y1="718.8" y2="724.8" stroke="#333" stroke-width="1.5"/>
<text class="dj" transform="translate(979.5,746.4) scale(0.975,1.09)" font-size="20" fill="#404040" text-anchor="middle">−0.02</text>
<line x1="1100.7" x2="1100.7" y1="718.8" y2="724.8" stroke="#333" stroke-width="1.5"/>
<text class="dj" transform="translate(1101.5,746.4) scale(0.975,1.09)" font-size="20" fill="#404040" text-anchor="middle">0.00</text>
<line x1="1222.7" x2="1222.7" y1="718.8" y2="724.8" stroke="#333" stroke-width="1.5"/>
<text class="dj" transform="translate(1223.5,746.4) scale(0.975,1.09)" font-size="20" fill="#404040" text-anchor="middle">0.02</text>
<line x1="1344.7" x2="1344.7" y1="718.8" y2="724.8" stroke="#333" stroke-width="1.5"/>
<text class="dj" transform="translate(1345.5,746.4) scale(0.975,1.09)" font-size="20" fill="#404040" text-anchor="middle">0.04</text>
<line x1="1466.7" x2="1466.7" y1="718.8" y2="724.8" stroke="#333" stroke-width="1.5"/>
<text class="dj" transform="translate(1467.5,746.4) scale(0.975,1.09)" font-size="20" fill="#404040" text-anchor="middle">0.06</text>
<text class="dj" transform="translate(1156,775.6) scale(1,1.04)" font-size="23.7" fill="#2e2e2e" text-anchor="middle">SHAP value (impact on model output)</text>
<text class="dj" x="793.5" y="54.6" font-size="23.7" fill="#2e2e2e" text-anchor="end">original_gldm_LargeDependenceEmphasis</text>
<text class="dj" x="793.5" y="88.2" font-size="23.7" fill="#2e2e2e" text-anchor="end">log-sigma-1-0-mm-3D_glrlm_ShortRunEmphasis</text>
<text class="dj" x="793.5" y="121.8" font-size="23.7" fill="#2e2e2e" text-anchor="end">original_gldm_SmallDependenceEmphasis</text>
<text class="dj" x="793.5" y="155.4" font-size="23.7" fill="#2e2e2e" text-anchor="end">original_glszm_ZonePercentage</text>
<text class="dj" x="793.5" y="189.0" font-size="23.7" fill="#2e2e2e" text-anchor="end">wavelet-HHL_gldm_LargeDependenceHighGrayLevelEmphasis</text>
<text class="dj" x="793.5" y="222.6" font-size="23.7" fill="#2e2e2e" text-anchor="end">log-sigma-4-0-mm-3D_glcm_DifferenceVariance</text>
<text class="dj" x="793.5" y="256.2" font-size="23.7" fill="#2e2e2e" text-anchor="end">wavelet-LHH_glrlm_RunLengthNonUniformityNormalized</text>
<text class="dj" x="793.5" y="289.8" font-size="23.7" fill="#2e2e2e" text-anchor="end">log-sigma-1-0-mm-3D_glszm_ZoneEntropy</text>
<text class="dj" x="793.5" y="323.4" font-size="23.7" fill="#2e2e2e" text-anchor="end">log-sigma-3-0-mm-3D_glszm_ZoneEntropy</text>
<text class="dj" x="793.5" y="357.0" font-size="23.7" fill="#2e2e2e" text-anchor="end">wavelet-LHL_glrlm_LongRunHighGrayLevelEmphasis</text>
<text class="dj" x="793.5" y="390.6" font-size="23.7" fill="#2e2e2e" text-anchor="end">original_firstorder_RootMeanSquared</text>
<text class="dj" x="793.5" y="424.2" font-size="23.7" fill="#2e2e2e" text-anchor="end">log-sigma-3-0-mm-3D_glszm_GrayLevelNonUniformityNormalized</text>
<text class="dj" x="793.5" y="457.8" font-size="23.7" fill="#2e2e2e" text-anchor="end">wavelet-HHH_glszm_ZoneEntropy</text>
<text class="dj" x="793.5" y="491.4" font-size="23.7" fill="#2e2e2e" text-anchor="end">wavelet-LHL_glszm_ZonePercentage</text>
<text class="dj" x="793.5" y="525.0" font-size="23.7" fill="#2e2e2e" text-anchor="end">wavelet-HHL_glszm_ZoneEntropy</text>
<text class="dj" x="793.5" y="558.6" font-size="23.7" fill="#2e2e2e" text-anchor="end">wavelet-LLH_glcm_Autocorrelation</text>
<text class="dj" x="793.5" y="592.2" font-size="23.7" fill="#2e2e2e" text-anchor="end">wavelet-HHL_glcm_Idmn</text>
<text class="dj" x="793.5" y="625.8" font-size="23.7" fill="#2e2e2e" text-anchor="end">wavelet-HHH_glcm_MaximumProbability</text>
<text class="dj" x="793.5" y="659.4" font-size="23.7" fill="#2e2e2e" text-anchor="end">log-sigma-5-0-mm-3D_glcm_ClusterTendency</text>
<text class="dj" x="793.5" y="693.0" font-size="23.7" fill="#2e2e2e" text-anchor="end">log-sigma-2-0-mm-3D_firstorder_Entropy</text>
<defs><linearGradient id="cb" x1="0" y1="1" x2="0" y2="0"><stop offset="0.0" stop-color="#0687f6"/><stop offset="0.15" stop-color="#0e72ec"/><stop offset="0.3" stop-color="#5a5fd8"/><stop offset="0.45" stop-color="#8c3cbc"/><stop offset="0.6" stop-color="#b400a2"/><stop offset="0.75" stop-color="#dd0080"/><stop offset="0.9" stop-color="#f80062"/><stop offset="1.0" stop-color="#ff0051"/></linearGradient></defs>
<rect x="1516.7" y="12.2" width="9.4" height="705.7" fill="url(#cb)"/>
<text class="dj" transform="translate(1531.8,20.3) scale(1,1.075)" font-size="20" fill="#111">High</text>
<text class="dj" transform="translate(1532.2,725.9) scale(1,1.075)" font-size="20" fill="#111">Low</text>
<text class="dj" transform="translate(1595.8,365.4) rotate(-90) scale(1,1.06)" font-size="22" fill="#111" stroke="#111" stroke-width="0.3" text-anchor="middle">Feature value</text>
</g>
<text class="lb" transform="translate(60.3,76.6) scale(0.925,1)" font-size="78.2" fill="#000" stroke="#000" stroke-width="1.4">A</text>
<text class="lb" transform="translate(58.6,823.9) scale(1,1)" font-size="78.2" fill="#000" stroke="#000" stroke-width="0.8">B</text>
<text class="lb" transform="translate(58.9,1864.8) scale(0.95,1.02)" font-size="78.2" fill="#000" stroke="#000" stroke-width="1.5">C</text>
<text class="lb" transform="translate(902.8,1863.7) scale(0.96,0.99)" font-size="78.2" fill="#000" stroke="#000" stroke-width="0.8">D</text>
<g id="panelB">
<rect x="671.6" y="857.7" width="816.9999999999999" height="804.0" fill="#fff"/>
<line x1="732.6" x2="732.6" y1="857.7" y2="1661.7" stroke="#f0f0f0" stroke-width="1.1"/>
<line x1="911.4" x2="911.4" y1="857.7" y2="1661.7" stroke="#f0f0f0" stroke-width="1.1"/>
<line x1="1089.9" x2="1089.9" y1="857.7" y2="1661.7" stroke="#f0f0f0" stroke-width="1.1"/>
<line x1="1268.6" x2="1268.6" y1="857.7" y2="1661.7" stroke="#f0f0f0" stroke-width="1.1"/>
<line x1="1446.8" x2="1446.8" y1="857.7" y2="1661.7" stroke="#f0f0f0" stroke-width="1.1"/>
<line x1="818" x2="818" y1="857.7" y2="1661.7" stroke="#e5e5e5" stroke-width="1.9"/>
<line x1="1004.8" x2="1004.8" y1="857.7" y2="1661.7" stroke="#e5e5e5" stroke-width="1.9"/>
<line x1="1175" x2="1175" y1="857.7" y2="1661.7" stroke="#e5e5e5" stroke-width="1.9"/>
<line x1="1361.8" x2="1361.8" y1="857.7" y2="1661.7" stroke="#e5e5e5" stroke-width="1.9"/>
<line x1="671.6" x2="1488.6" y1="886.9" y2="886.9" stroke="#e5e5e5" stroke-width="1.9"/>
<line x1="671.6" x2="1488.6" y1="936.6" y2="936.6" stroke="#e5e5e5" stroke-width="1.9"/>
<line x1="671.6" x2="1488.6" y1="986.4" y2="986.4" stroke="#e5e5e5" stroke-width="1.9"/>
<line x1="671.6" x2="1488.6" y1="1036.1" y2="1036.1" stroke="#e5e5e5" stroke-width="1.9"/>
<line x1="671.6" x2="1488.6" y1="1085.9" y2="1085.9" stroke="#e5e5e5" stroke-width="1.9"/>
<line x1="671.6" x2="1488.6" y1="1135.6" y2="1135.6" stroke="#e5e5e5" stroke-width="1.9"/>
<line x1="671.6" x2="1488.6" y1="1185.3" y2="1185.3" stroke="#e5e5e5" stroke-width="1.9"/>
<line x1="671.6" x2="1488.6" y1="1235.1" y2="1235.1" stroke="#e5e5e5" stroke-width="1.9"/>
<line x1="671.6" x2="1488.6" y1="1284.8" y2="1284.8" stroke="#e5e5e5" stroke-width="1.9"/>
<line x1="671.6" x2="1488.6" y1="1334.6" y2="1334.6" stroke="#e5e5e5" stroke-width="1.9"/>
<line x1="671.6" x2="1488.6" y1="1384.3" y2="1384.3" stroke="#e5e5e5" stroke-width="1.9"/>
<line x1="671.6" x2="1488.6" y1="1434.0" y2="1434.0" stroke="#e5e5e5" stroke-width="1.9"/>
<line x1="671.6" x2="1488.6" y1="1483.8" y2="1483.8" stroke="#e5e5e5" stroke-width="1.9"/>
<line x1="671.6" x2="1488.6" y1="1533.5" y2="1533.5" stroke="#e5e5e5" stroke-width="1.9"/>
<line x1="671.6" x2="1488.6" y1="1583.3" y2="1583.3" stroke="#e5e5e5" stroke-width="1.9"/>
<line x1="671.6" x2="1488.6" y1="1633.0" y2="1633.0" stroke="#e5e5e5" stroke-width="1.9"/>
<line x1="1004.9" x2="1004.9" y1="857.7" y2="1661.7" stroke="#ff0000" stroke-width="2.5" stroke-dasharray="9 9.72" stroke-dashoffset="7"/>
<path d="M819.2 886.9H1452.1M819.2 882.0v9.8M1452.1 882.0v9.8" stroke="#141414" stroke-width="2.2" fill="none"/>
<circle cx="1135.7" cy="886.9" r="8.7" fill="#000"/>
<line x1="665.6" x2="671.6" y1="886.9" y2="886.9" stroke="#3a3a3a" stroke-width="2"/>
<text class="lr" x="659.6" y="897.1" font-size="26.1" fill="#4d4d4d" stroke="#4d4d4d" stroke-width="0.35" text-anchor="end">wavelet.HHL_glcm_Idmn</text>
<path d="M960.6 936.6H1220.0M960.6 931.7v9.8M1220.0 931.7v9.8" stroke="#141414" stroke-width="2.2" fill="none"/>
<circle cx="1090.1" cy="936.6" r="8.7" fill="#000"/>
<line x1="665.6" x2="671.6" y1="936.6" y2="936.6" stroke="#3a3a3a" stroke-width="2"/>
<text class="lr" x="659.6" y="946.8" font-size="26.1" fill="#4d4d4d" stroke="#4d4d4d" stroke-width="0.35" text-anchor="end">wavelet.HHL_gldm_LDHGLE</text>
<path d="M912.7 986.4H1251.9M912.7 981.5v9.8M1251.9 981.5v9.8" stroke="#141414" stroke-width="2.2" fill="none"/>
<circle cx="1082.3" cy="986.4" r="8.7" fill="#000"/>
<line x1="665.6" x2="671.6" y1="986.4" y2="986.4" stroke="#3a3a3a" stroke-width="2"/>
<text class="lr" x="659.6" y="996.6" font-size="26.1" fill="#4d4d4d" stroke="#4d4d4d" stroke-width="0.35" text-anchor="end">wavelet.LLH_glcm_Autocorrelation</text>
<path d="M946.9 1036.1H1192.7M946.9 1031.2v9.8M1192.7 1031.2v9.8" stroke="#141414" stroke-width="2.2" fill="none"/>
<circle cx="1069.5" cy="1036.1" r="8.7" fill="#000"/>
<line x1="665.6" x2="671.6" y1="1036.1" y2="1036.1" stroke="#3a3a3a" stroke-width="2"/>
<text class="lr" x="659.6" y="1046.3" font-size="26.1" fill="#4d4d4d" stroke="#4d4d4d" stroke-width="0.35" text-anchor="end">log.sigma.1.0.mm.3D_glrlm_SRE</text>
<path d="M931.8 1085.9H1174M931.8 1081.0v9.8M1174 1081.0v9.8" stroke="#141414" stroke-width="2.2" fill="none"/>
<circle cx="1052.7" cy="1085.9" r="8.7" fill="#000"/>
<line x1="665.6" x2="671.6" y1="1085.9" y2="1085.9" stroke="#3a3a3a" stroke-width="2"/>
<text class="lr" x="659.6" y="1096.1" font-size="26.1" fill="#4d4d4d" stroke="#4d4d4d" stroke-width="0.35" text-anchor="end">original_glszm_ZonePercentage</text>
<path d="M918.2 1135.6H1161.7M918.2 1130.7v9.8M1161.7 1130.7v9.8" stroke="#141414" stroke-width="2.2" fill="none"/>
<circle cx="1039.5" cy="1135.6" r="8.7" fill="#000"/>
<line x1="665.6" x2="671.6" y1="1135.6" y2="1135.6" stroke="#3a3a3a" stroke-width="2"/>
<text class="lr" x="659.6" y="1145.8" font-size="26.1" fill="#4d4d4d" stroke="#4d4d4d" stroke-width="0.35" text-anchor="end">original_gldm_SDE</text>
<path d="M910.4 1185.3H1155.3M910.4 1180.4v9.8M1155.3 1180.4v9.8" stroke="#141414" stroke-width="2.2" fill="none"/>
<circle cx="1032.6" cy="1185.3" r="8.7" fill="#000"/>
<line x1="665.6" x2="671.6" y1="1185.3" y2="1185.3" stroke="#3a3a3a" stroke-width="2"/>
<text class="lr" x="659.6" y="1195.5" font-size="26.1" fill="#4d4d4d" stroke="#4d4d4d" stroke-width="0.35" text-anchor="end">log.sigma.2.0.mm.3D_firstorder_Entropy</text>
<path d="M906.3 1235.1H1153.9M906.3 1230.2v9.8M1153.9 1230.2v9.8" stroke="#141414" stroke-width="2.2" fill="none"/>
<circle cx="1029.4" cy="1235.1" r="8.7" fill="#000"/>
<line x1="665.6" x2="671.6" y1="1235.1" y2="1235.1" stroke="#3a3a3a" stroke-width="2"/>
<text class="lr" x="659.6" y="1245.3" font-size="26.1" fill="#4d4d4d" stroke="#4d4d4d" stroke-width="0.35" text-anchor="end">log.sigma.3.0.mm.3D_glszm_ZoneEntropy</text>
<path d="M891.6 1284.8H1135.1M891.6 1279.9v9.8M1135.1 1279.9v9.8" stroke="#141414" stroke-width="2.2" fill="none"/>
<circle cx="1013.4" cy="1284.8" r="8.7" fill="#000"/>
<line x1="665.6" x2="671.6" y1="1284.8" y2="1284.8" stroke="#3a3a3a" stroke-width="2"/>
<text class="lr" x="659.6" y="1295.0" font-size="26.1" fill="#4d4d4d" stroke="#4d4d4d" stroke-width="0.35" text-anchor="end">wavelet.LHH_glrlm_RLNUN</text>
<path d="M875.2 1334.6H1147.4M875.2 1329.7v9.8M1147.4 1329.7v9.8" stroke="#141414" stroke-width="2.2" fill="none"/>
<circle cx="1011.1" cy="1334.6" r="8.7" fill="#000"/>
<line x1="665.6" x2="671.6" y1="1334.6" y2="1334.6" stroke="#3a3a3a" stroke-width="2"/>
<text class="lr" x="659.6" y="1344.8" font-size="26.1" fill="#4d4d4d" stroke="#4d4d4d" stroke-width="0.35" text-anchor="end">log.sigma.1.0.mm.3D_glszm_ZoneEntropy</text>
<path d="M881.6 1384.3H1122.8M881.6 1379.4v9.8M1122.8 1379.4v9.8" stroke="#141414" stroke-width="2.2" fill="none"/>
<circle cx="1002" cy="1384.3" r="8.7" fill="#000"/>
<line x1="665.6" x2="671.6" y1="1384.3" y2="1384.3" stroke="#3a3a3a" stroke-width="2"/>
<text class="lr" x="659.6" y="1394.5" font-size="26.1" fill="#4d4d4d" stroke="#4d4d4d" stroke-width="0.35" text-anchor="end">log.sigma.3.0.mm.3D_glszm_GLNUN</text>
<path d="M879.3 1434.0H1118.7M879.3 1429.1v9.8M1118.7 1429.1v9.8" stroke="#141414" stroke-width="2.2" fill="none"/>
<circle cx="998.8" cy="1434.0" r="8.7" fill="#000"/>
<line x1="665.6" x2="671.6" y1="1434.0" y2="1434.0" stroke="#3a3a3a" stroke-width="2"/>
<text class="lr" x="659.6" y="1444.2" font-size="26.1" fill="#4d4d4d" stroke="#4d4d4d" stroke-width="0.35" text-anchor="end">log.sigma.4.0.mm.3D_glcm_DV</text>
<path d="M854.2 1483.8H1113.7M854.2 1478.9v9.8M1113.7 1478.9v9.8" stroke="#141414" stroke-width="2.2" fill="none"/>
<circle cx="983.7" cy="1483.8" r="8.7" fill="#000"/>
<line x1="665.6" x2="671.6" y1="1483.8" y2="1483.8" stroke="#3a3a3a" stroke-width="2"/>
<text class="lr" x="659.6" y="1494.0" font-size="26.1" fill="#4d4d4d" stroke="#4d4d4d" stroke-width="0.35" text-anchor="end">log.sigma.5.0.mm.3D_glcm_ClusterTendency</text>
<path d="M820.5 1533.5H1082.2M820.5 1528.6v9.8M1082.2 1528.6v9.8" stroke="#141414" stroke-width="2.2" fill="none"/>
<circle cx="951.4" cy="1533.5" r="8.7" fill="#000"/>
<line x1="665.6" x2="671.6" y1="1533.5" y2="1533.5" stroke="#3a3a3a" stroke-width="2"/>
<text class="lr" x="659.6" y="1543.7" font-size="26.1" fill="#4d4d4d" stroke="#4d4d4d" stroke-width="0.35" text-anchor="end">original_gldm_LDE</text>
<path d="M748.5 1583.3H997.9M748.5 1578.4v9.8M997.9 1578.4v9.8" stroke="#141414" stroke-width="2.2" fill="none"/>
<circle cx="872.9" cy="1583.3" r="8.7" fill="#000"/>
<line x1="665.6" x2="671.6" y1="1583.3" y2="1583.3" stroke="#3a3a3a" stroke-width="2"/>
<text class="lr" x="659.6" y="1593.5" font-size="26.1" fill="#4d4d4d" stroke="#4d4d4d" stroke-width="0.35" text-anchor="end">original_firstorder_RootMeanSquared</text>
<path d="M708.3 1633.0H1021.6M708.3 1628.1v9.8M1021.6 1628.1v9.8" stroke="#141414" stroke-width="2.2" fill="none"/>
<circle cx="864.7" cy="1633.0" r="8.7" fill="#000"/>
<line x1="665.6" x2="671.6" y1="1633.0" y2="1633.0" stroke="#3a3a3a" stroke-width="2"/>
<text class="lr" x="659.6" y="1643.2" font-size="26.1" fill="#4d4d4d" stroke="#4d4d4d" stroke-width="0.35" text-anchor="end">wavelet.HHH_glcm_MaximumProbability</text>
<rect x="671.6" y="857.7" width="816.9999999999999" height="804.0" fill="none" stroke="#7d7d7d" stroke-width="2"/>
<line x1="818" x2="818" y1="1661.7" y2="1667.7" stroke="#3a3a3a" stroke-width="2"/>
<text class="lr" x="818" y="1693.4" font-size="26" fill="#4d4d4d" stroke="#4d4d4d" stroke-width="0.35" text-anchor="middle">0.3</text>
<line x1="1004.8" x2="1004.8" y1="1661.7" y2="1667.7" stroke="#3a3a3a" stroke-width="2"/>
<text class="lr" x="1004.8" y="1693.4" font-size="26" fill="#4d4d4d" stroke="#4d4d4d" stroke-width="0.35" text-anchor="middle">1.0</text>
<line x1="1175" x2="1175" y1="1661.7" y2="1667.7" stroke="#3a3a3a" stroke-width="2"/>
<text class="lr" x="1175" y="1693.4" font-size="26" fill="#4d4d4d" stroke="#4d4d4d" stroke-width="0.35" text-anchor="middle">3.0</text>
<line x1="1361.8" x2="1361.8" y1="1661.7" y2="1667.7" stroke="#3a3a3a" stroke-width="2"/>
<text class="lr" x="1361.8" y="1693.4" font-size="26" fill="#4d4d4d" stroke="#4d4d4d" stroke-width="0.35" text-anchor="middle">10.0</text>
<text class="lbd" x="1080.2" y="839" font-size="34.7" text-anchor="middle">Univariate Cox Regression (Validation Set)</text>
<text class="lbd" x="1080.2" y="1727.4" font-size="30.3" text-anchor="middle">Hazard Ratio (log scale)</text>
<text class="lbd" transform="translate(121.2,1259.5) rotate(-90)" font-size="30.3" text-anchor="middle">Feature</text>
</g>
<g id="pC">
<clipPath id="cppC"><rect x="53.8" y="1895.8" width="723.8000000000001" height="453.5000000000002"/></clipPath>
<line x1="65.6" x2="65.6" y1="1895.8" y2="2349.3" stroke="#f3f3f3" stroke-width="0.8"/><line x1="86.2" x2="86.2" y1="1895.8" y2="2349.3" stroke="#ebebeb" stroke-width="1.1"/><line x1="106.8" x2="106.8" y1="1895.8" y2="2349.3" stroke="#f3f3f3" stroke-width="0.8"/><line x1="127.4" x2="127.4" y1="1895.8" y2="2349.3" stroke="#ebebeb" stroke-width="1.1"/><line x1="148.0" x2="148.0" y1="1895.8" y2="2349.3" stroke="#f3f3f3" stroke-width="0.8"/><line x1="168.6" x2="168.6" y1="1895.8" y2="2349.3" stroke="#ebebeb" stroke-width="1.1"/><line x1="189.2" x2="189.2" y1="1895.8" y2="2349.3" stroke="#f3f3f3" stroke-width="0.8"/><line x1="209.8" x2="209.8" y1="1895.8" y2="2349.3" stroke="#ebebeb" stroke-width="1.1"/><line x1="230.4" x2="230.4" y1="1895.8" y2="2349.3" stroke="#f3f3f3" stroke-width="0.8"/><line x1="251.0" x2="251.0" y1="1895.8" y2="2349.3" stroke="#ebebeb" stroke-width="1.1"/><line x1="271.6" x2="271.6" y1="1895.8" y2="2349.3" stroke="#f3f3f3" stroke-width="0.8"/><line x1="292.2" x2="292.2" y1="1895.8" y2="2349.3" stroke="#ebebeb" stroke-width="1.1"/><line x1="312.8" x2="312.8" y1="1895.8" y2="2349.3" stroke="#f3f3f3" stroke-width="0.8"/><line x1="333.4" x2="333.4" y1="1895.8" y2="2349.3" stroke="#ebebeb" stroke-width="1.1"/><line x1="354.0" x2="354.0" y1="1895.8" y2="2349.3" stroke="#f3f3f3" stroke-width="0.8"/><line x1="374.6" x2="374.6" y1="1895.8" y2="2349.3" stroke="#ebebeb" stroke-width="1.1"/><line x1="395.2" x2="395.2" y1="1895.8" y2="2349.3" stroke="#f3f3f3" stroke-width="0.8"/><line x1="415.8" x2="415.8" y1="1895.8" y2="2349.3" stroke="#ebebeb" stroke-width="1.1"/><line x1="436.4" x2="436.4" y1="1895.8" y2="2349.3" stroke="#f3f3f3" stroke-width="0.8"/><line x1="457.0" x2="457.0" y1="1895.8" y2="2349.3" stroke="#ebebeb" stroke-width="1.1"/><line x1="477.6" x2="477.6" y1="1895.8" y2="2349.3" stroke="#f3f3f3" stroke-width="0.8"/><line x1="498.2" x2="498.2" y1="1895.8" y2="2349.3" stroke="#ebebeb" stroke-width="1.1"/><line x1="518.8" x2="518.8" y1="1895.8" y2="2349.3" stroke="#f3f3f3" stroke-width="0.8"/><line x1="539.4" x2="539.4" y1="1895.8" y2="2349.3" stroke="#ebebeb" stroke-width="1.1"/><line x1="560.0" x2="560.0" y1="1895.8" y2="2349.3" stroke="#f3f3f3" stroke-width="0.8"/><line x1="580.6" x2="580.6" y1="1895.8" y2="2349.3" stroke="#ebebeb" stroke-width="1.1"/><line x1="601.2" x2="601.2" y1="1895.8" y2="2349.3" stroke="#f3f3f3" stroke-width="0.8"/><line x1="621.8" x2="621.8" y1="1895.8" y2="2349.3" stroke="#ebebeb" stroke-width="1.1"/><line x1="642.4" x2="642.4" y1="1895.8" y2="2349.3" stroke="#f3f3f3" stroke-width="0.8"/><line x1="663.0" x2="663.0" y1="1895.8" y2="2349.3" stroke="#ebebeb" stroke-width="1.1"/><line x1="683.6" x2="683.6" y1="1895.8" y2="2349.3" stroke="#f3f3f3" stroke-width="0.8"/><line x1="704.2" x2="704.2" y1="1895.8" y2="2349.3" stroke="#ebebeb" stroke-width="1.1"/><line x1="724.8" x2="724.8" y1="1895.8" y2="2349.3" stroke="#f3f3f3" stroke-width="0.8"/><line x1="745.4" x2="745.4" y1="1895.8" y2="2349.3" stroke="#ebebeb" stroke-width="1.1"/><line x1="766.0" x2="766.0" y1="1895.8" y2="2349.3" stroke="#f3f3f3" stroke-width="0.8"/><line x1="53.8" x2="777.6" y1="2329.3" y2="2329.3" stroke="#ebebeb" stroke-width="1.1"/><line x1="53.8" x2="777.6" y1="2277.7" y2="2277.7" stroke="#f3f3f3" stroke-width="0.8"/><line x1="53.8" x2="777.6" y1="2226.0" y2="2226.0" stroke="#ebebeb" stroke-width="1.1"/><line x1="53.8" x2="777.6" y1="2174.3" y2="2174.3" stroke="#f3f3f3" stroke-width="0.8"/><line x1="53.8" x2="777.6" y1="2122.7" y2="2122.7" stroke="#ebebeb" stroke-width="1.1"/><line x1="53.8" x2="777.6" y1="2071.0" y2="2071.0" stroke="#f3f3f3" stroke-width="0.8"/><line x1="53.8" x2="777.6" y1="2019.4" y2="2019.4" stroke="#ebebeb" stroke-width="1.1"/><line x1="53.8" x2="777.6" y1="1967.8" y2="1967.8" stroke="#f3f3f3" stroke-width="0.8"/><line x1="53.8" x2="777.6" y1="1916.1" y2="1916.1" stroke="#ebebeb" stroke-width="1.1"/>
<g clip-path="url(#cppC)">
<path d="M86.2 1916.1H101.3V1939.1H107.0V1962.0H110.9V1985.0H115.6V2007.9H116.7V2030.9H120.7V2053.8H123.8V2076.8H147.9V2099.7H175.9V2122.7H182.1V2145.7H186.6V2168.6H196.7V2214.5H230.3V2237.5H252.8V2260.4H284.5V2283.4H653.9" fill="none" stroke="#374E55" stroke-width="2.4" stroke-linejoin="miter"/>
<path d="M86.2 1916.1H96.9V1941.9H113.1V1967.8H129.9V1993.6H176.0V2019.4H183.1V2045.2H196.6V2071.0H243.4V2096.9H246.9V2122.7H260.5V2148.5H580.6V2193.7H827.8" fill="none" stroke="#DF8F44" stroke-width="2.4" stroke-linejoin="miter"/>
<path d="M86.2 1916.1L101.3 1916.1L101.3 1916.1L107.0 1916.1L107.0 1916.1L110.9 1916.1L110.9 1916.1L115.6 1916.1L115.6 1917.9L116.7 1917.9L116.7 1931.9L120.7 1931.9L120.7 1947.4L123.8 1947.4L123.8 1964.3L147.9 1964.3L147.9 1982.3L175.9 1982.3L175.9 2001.4L182.1 2001.4L182.1 2021.5L186.6 2021.5L186.6 2042.6L196.7 2042.6L196.7 2087.5L230.3 2087.5L230.3 2111.4L252.8 2111.4L252.8 2135.8L284.5 2135.8L284.5 2159.7L653.9 2159.7L653.9 2316.9L284.5 2316.9L284.5 2304.8L252.8 2304.8L252.8 2290.6L230.3 2290.6L230.3 2274.8L196.7 2274.8L196.7 2239.3L186.6 2239.3L186.6 2219.7L182.1 2219.7L182.1 2199.1L175.9 2199.1L175.9 2177.4L147.9 2177.4L147.9 2154.6L123.8 2154.6L123.8 2130.6L120.7 2130.6L120.7 2105.2L116.7 2105.2L116.7 2078.2L115.6 2078.2L115.6 2049.2L110.9 2049.2L110.9 2017.4L107.0 2017.4L107.0 1980.4L101.3 1980.4L101.3 1916.1L86.2 1916.1Z" fill="#374E55" fill-opacity="0.3"/>
<path d="M86.2 1916.1L96.9 1916.1L96.9 1916.1L113.1 1916.1L113.1 1916.1L129.9 1916.1L129.9 1916.1L176.0 1916.1L176.0 1918.1L183.1 1918.1L183.1 1934.0L196.6 1934.0L196.6 1951.8L243.4 1951.8L243.4 1971.2L246.9 1971.2L246.9 1992.1L260.5 1992.1L260.5 2014.2L580.6 2014.2L580.6 2029.7L827.8 2029.7L827.8 2268.0L580.6 2268.0L580.6 2225.6L260.5 2225.6L260.5 2202.7L246.9 2202.7L246.9 2178.4L243.4 2178.4L243.4 2152.6L196.6 2152.6L196.6 2125.1L183.1 2125.1L183.1 2095.8L176.0 2095.8L176.0 2064.0L129.9 2064.0L129.9 2028.9L113.1 2028.9L113.1 1988.0L96.9 1988.0L96.9 1916.1L86.2 1916.1Z" fill="#DF8F44" fill-opacity="0.3"/>
<path d="M498.2 2279.2v8.4M494.0 2283.4h8.4" stroke="#374E55" stroke-width="1.7" fill="none"/>
<path d="M653.9 2279.2v8.4M649.7 2283.4h8.4" stroke="#374E55" stroke-width="1.7" fill="none"/>
<path d="M377.7 2144.3v8.4M373.5 2148.5h8.4" stroke="#DF8F44" stroke-width="1.7" fill="none"/>
<path d="M498.0 2144.3v8.4M493.8 2148.5h8.4" stroke="#DF8F44" stroke-width="1.7" fill="none"/>
<path d="M547.4 2144.3v8.4M543.2 2148.5h8.4" stroke="#DF8F44" stroke-width="1.7" fill="none"/>
<path d="M739.2 2189.5v8.4M735.0 2193.7h8.4" stroke="#DF8F44" stroke-width="1.7" fill="none"/>
<path d="M827.8 2189.5v8.4M823.6 2193.7h8.4" stroke="#DF8F44" stroke-width="1.7" fill="none"/>
</g>
<path d="M53.8 1895.8H777.6V2349.3" fill="none" stroke="#b4b4b4" stroke-width="1.8"/>
<path d="M53.8 1894.8999999999999V2349.3H778.5" fill="none" stroke="#787878" stroke-width="1.9"/>
<line x1="86.2" x2="86.2" y1="2349.3" y2="2353.6000000000004" stroke="#333" stroke-width="1.5"/>
<text class="lr" x="86.2" y="2365.2" font-size="12.1" fill="#4d4d4d" stroke="#4d4d4d" stroke-width="0.4" text-anchor="middle">0</text>
<line x1="127.4" x2="127.4" y1="2349.3" y2="2353.6000000000004" stroke="#333" stroke-width="1.5"/>
<text class="lr" x="127.4" y="2365.2" font-size="12.1" fill="#4d4d4d" stroke="#4d4d4d" stroke-width="0.4" text-anchor="middle">5</text>
<line x1="168.6" x2="168.6" y1="2349.3" y2="2353.6000000000004" stroke="#333" stroke-width="1.5"/>
<text class="lr" x="168.6" y="2365.2" font-size="12.1" fill="#4d4d4d" stroke="#4d4d4d" stroke-width="0.4" text-anchor="middle">10</text>
<line x1="209.8" x2="209.8" y1="2349.3" y2="2353.6000000000004" stroke="#333" stroke-width="1.5"/>
<text class="lr" x="209.8" y="2365.2" font-size="12.1" fill="#4d4d4d" stroke="#4d4d4d" stroke-width="0.4" text-anchor="middle">15</text>
<line x1="251.0" x2="251.0" y1="2349.3" y2="2353.6000000000004" stroke="#333" stroke-width="1.5"/>
<text class="lr" x="251.0" y="2365.2" font-size="12.1" fill="#4d4d4d" stroke="#4d4d4d" stroke-width="0.4" text-anchor="middle">20</text>
<line x1="292.2" x2="292.2" y1="2349.3" y2="2353.6000000000004" stroke="#333" stroke-width="1.5"/>
<text class="lr" x="292.2" y="2365.2" font-size="12.1" fill="#4d4d4d" stroke="#4d4d4d" stroke-width="0.4" text-anchor="middle">25</text>
<line x1="333.4" x2="333.4" y1="2349.3" y2="2353.6000000000004" stroke="#333" stroke-width="1.5"/>
<text class="lr" x="333.4" y="2365.2" font-size="12.1" fill="#4d4d4d" stroke="#4d4d4d" stroke-width="0.4" text-anchor="middle">30</text>
<line x1="374.6" x2="374.6" y1="2349.3" y2="2353.6000000000004" stroke="#333" stroke-width="1.5"/>
<text class="lr" x="374.6" y="2365.2" font-size="12.1" fill="#4d4d4d" stroke="#4d4d4d" stroke-width="0.4" text-anchor="middle">35</text>
<line x1="415.8" x2="415.8" y1="2349.3" y2="2353.6000000000004" stroke="#333" stroke-width="1.5"/>
<text class="lr" x="415.8" y="2365.2" font-size="12.1" fill="#4d4d4d" stroke="#4d4d4d" stroke-width="0.4" text-anchor="middle">40</text>
<line x1="457.0" x2="457.0" y1="2349.3" y2="2353.6000000000004" stroke="#333" stroke-width="1.5"/>
<text class="lr" x="457.0" y="2365.2" font-size="12.1" fill="#4d4d4d" stroke="#4d4d4d" stroke-width="0.4" text-anchor="middle">45</text>
<line x1="498.2" x2="498.2" y1="2349.3" y2="2353.6000000000004" stroke="#333" stroke-width="1.5"/>
<text class="lr" x="498.2" y="2365.2" font-size="12.1" fill="#4d4d4d" stroke="#4d4d4d" stroke-width="0.4" text-anchor="middle">50</text>
<line x1="539.4" x2="539.4" y1="2349.3" y2="2353.6000000000004" stroke="#333" stroke-width="1.5"/>
<text class="lr" x="539.4" y="2365.2" font-size="12.1" fill="#4d4d4d" stroke="#4d4d4d" stroke-width="0.4" text-anchor="middle">55</text>
<line x1="580.6" x2="580.6" y1="2349.3" y2="2353.6000000000004" stroke="#333" stroke-width="1.5"/>
<text class="lr" x="580.6" y="2365.2" font-size="12.1" fill="#4d4d4d" stroke="#4d4d4d" stroke-width="0.4" text-anchor="middle">60</text>
<line x1="621.8" x2="621.8" y1="2349.3" y2="2353.6000000000004" stroke="#333" stroke-width="1.5"/>
<text class="lr" x="621.8" y="2365.2" font-size="12.1" fill="#4d4d4d" stroke="#4d4d4d" stroke-width="0.4" text-anchor="middle">65</text>
<line x1="663.0" x2="663.0" y1="2349.3" y2="2353.6000000000004" stroke="#333" stroke-width="1.5"/>
<text class="lr" x="663.0" y="2365.2" font-size="12.1" fill="#4d4d4d" stroke="#4d4d4d" stroke-width="0.4" text-anchor="middle">70</text>
<line x1="704.2" x2="704.2" y1="2349.3" y2="2353.6000000000004" stroke="#333" stroke-width="1.5"/>
<text class="lr" x="704.2" y="2365.2" font-size="12.1" fill="#4d4d4d" stroke="#4d4d4d" stroke-width="0.4" text-anchor="middle">75</text>
<line x1="745.4" x2="745.4" y1="2349.3" y2="2353.6000000000004" stroke="#333" stroke-width="1.5"/>
<text class="lr" x="745.4" y="2365.2" font-size="12.1" fill="#4d4d4d" stroke="#4d4d4d" stroke-width="0.4" text-anchor="middle">80</text>
<line x1="49.5" x2="53.8" y1="2329.3" y2="2329.3" stroke="#333" stroke-width="1.5"/>
<text class="lr" x="46.5" y="2334.3" font-size="12.1" fill="#4d4d4d" stroke="#4d4d4d" stroke-width="0.4" text-anchor="end">0.00</text>
<line x1="49.5" x2="53.8" y1="2226.0" y2="2226.0" stroke="#333" stroke-width="1.5"/>
<text class="lr" x="46.5" y="2231.0" font-size="12.1" fill="#4d4d4d" stroke="#4d4d4d" stroke-width="0.4" text-anchor="end">0.25</text>
<line x1="49.5" x2="53.8" y1="2122.7" y2="2122.7" stroke="#333" stroke-width="1.5"/>
<text class="lr" x="46.5" y="2127.7" font-size="12.1" fill="#4d4d4d" stroke="#4d4d4d" stroke-width="0.4" text-anchor="end">0.50</text>
<line x1="49.5" x2="53.8" y1="2019.4" y2="2019.4" stroke="#333" stroke-width="1.5"/>
<text class="lr" x="46.5" y="2024.4" font-size="12.1" fill="#4d4d4d" stroke="#4d4d4d" stroke-width="0.4" text-anchor="end">0.75</text>
<line x1="49.5" x2="53.8" y1="1916.1" y2="1916.1" stroke="#333" stroke-width="1.5"/>
<text class="lr" x="46.5" y="1921.1" font-size="12.1" fill="#4d4d4d" stroke="#4d4d4d" stroke-width="0.4" text-anchor="end">1.00</text>
<text class="lr" x="415.7" y="2384.3" font-size="15.1" fill="#000" stroke="#000" stroke-width="0.3" text-anchor="middle">Time (months)</text>
<text class="lr" transform="translate(16.1,2123.5) rotate(-90)" font-size="15.15" fill="#000" stroke="#000" stroke-width="0.3" text-anchor="middle">Recurrence Probability</text>
<text class="lbd" x="416.2" y="1828.1" font-size="27.4" text-anchor="middle">Original FO RMS</text>
<text class="lr" x="580.3" y="1944.5" font-size="19.3" fill="#000" stroke="#000" stroke-width="0.25">p = 0.034</text>
<rect x="362.2" y="1850.7" width="21.6" height="21.6" fill="#374E55" fill-opacity="0.28"/>
<path d="M364.0 1861.5h18M373.0 1857.3v8.4" stroke="#374E55" stroke-width="2.3" fill="none"/>
<text class="lr" x="392.4" y="1865.8" font-size="12.1" fill="#000" stroke="#000" stroke-width="0.25">High</text>
<rect x="426.2" y="1850.7" width="21.6" height="21.6" fill="#DF8F44" fill-opacity="0.28"/>
<path d="M428.0 1861.5h18M437.0 1857.3v8.4" stroke="#DF8F44" stroke-width="2.3" fill="none"/>
<text class="lr" x="456.4" y="1865.8" font-size="12.1" fill="#000" stroke="#000" stroke-width="0.25">Low</text>
</g>
<g id="pD">
<clipPath id="cppD"><rect x="895.7" y="1895.8" width="723.3" height="453.5000000000002"/></clipPath>
<line x1="907.1" x2="907.1" y1="1895.8" y2="2349.3" stroke="#f3f3f3" stroke-width="0.8"/><line x1="927.7" x2="927.7" y1="1895.8" y2="2349.3" stroke="#ebebeb" stroke-width="1.1"/><line x1="948.3" x2="948.3" y1="1895.8" y2="2349.3" stroke="#f3f3f3" stroke-width="0.8"/><line x1="968.9" x2="968.9" y1="1895.8" y2="2349.3" stroke="#ebebeb" stroke-width="1.1"/><line x1="989.5" x2="989.5" y1="1895.8" y2="2349.3" stroke="#f3f3f3" stroke-width="0.8"/><line x1="1010.1" x2="1010.1" y1="1895.8" y2="2349.3" stroke="#ebebeb" stroke-width="1.1"/><line x1="1030.7" x2="1030.7" y1="1895.8" y2="2349.3" stroke="#f3f3f3" stroke-width="0.8"/><line x1="1051.3" x2="1051.3" y1="1895.8" y2="2349.3" stroke="#ebebeb" stroke-width="1.1"/><line x1="1071.9" x2="1071.9" y1="1895.8" y2="2349.3" stroke="#f3f3f3" stroke-width="0.8"/><line x1="1092.5" x2="1092.5" y1="1895.8" y2="2349.3" stroke="#ebebeb" stroke-width="1.1"/><line x1="1113.1" x2="1113.1" y1="1895.8" y2="2349.3" stroke="#f3f3f3" stroke-width="0.8"/><line x1="1133.7" x2="1133.7" y1="1895.8" y2="2349.3" stroke="#ebebeb" stroke-width="1.1"/><line x1="1154.3" x2="1154.3" y1="1895.8" y2="2349.3" stroke="#f3f3f3" stroke-width="0.8"/><line x1="1174.9" x2="1174.9" y1="1895.8" y2="2349.3" stroke="#ebebeb" stroke-width="1.1"/><line x1="1195.5" x2="1195.5" y1="1895.8" y2="2349.3" stroke="#f3f3f3" stroke-width="0.8"/><line x1="1216.1" x2="1216.1" y1="1895.8" y2="2349.3" stroke="#ebebeb" stroke-width="1.1"/><line x1="1236.7" x2="1236.7" y1="1895.8" y2="2349.3" stroke="#f3f3f3" stroke-width="0.8"/><line x1="1257.3" x2="1257.3" y1="1895.8" y2="2349.3" stroke="#ebebeb" stroke-width="1.1"/><line x1="1277.9" x2="1277.9" y1="1895.8" y2="2349.3" stroke="#f3f3f3" stroke-width="0.8"/><line x1="1298.5" x2="1298.5" y1="1895.8" y2="2349.3" stroke="#ebebeb" stroke-width="1.1"/><line x1="1319.1" x2="1319.1" y1="1895.8" y2="2349.3" stroke="#f3f3f3" stroke-width="0.8"/><line x1="1339.7" x2="1339.7" y1="1895.8" y2="2349.3" stroke="#ebebeb" stroke-width="1.1"/><line x1="1360.3" x2="1360.3" y1="1895.8" y2="2349.3" stroke="#f3f3f3" stroke-width="0.8"/><line x1="1380.9" x2="1380.9" y1="1895.8" y2="2349.3" stroke="#ebebeb" stroke-width="1.1"/><line x1="1401.5" x2="1401.5" y1="1895.8" y2="2349.3" stroke="#f3f3f3" stroke-width="0.8"/><line x1="1422.1" x2="1422.1" y1="1895.8" y2="2349.3" stroke="#ebebeb" stroke-width="1.1"/><line x1="1442.7" x2="1442.7" y1="1895.8" y2="2349.3" stroke="#f3f3f3" stroke-width="0.8"/><line x1="1463.3" x2="1463.3" y1="1895.8" y2="2349.3" stroke="#ebebeb" stroke-width="1.1"/><line x1="1483.9" x2="1483.9" y1="1895.8" y2="2349.3" stroke="#f3f3f3" stroke-width="0.8"/><line x1="1504.5" x2="1504.5" y1="1895.8" y2="2349.3" stroke="#ebebeb" stroke-width="1.1"/><line x1="1525.1" x2="1525.1" y1="1895.8" y2="2349.3" stroke="#f3f3f3" stroke-width="0.8"/><line x1="1545.7" x2="1545.7" y1="1895.8" y2="2349.3" stroke="#ebebeb" stroke-width="1.1"/><line x1="1566.3" x2="1566.3" y1="1895.8" y2="2349.3" stroke="#f3f3f3" stroke-width="0.8"/><line x1="1586.9" x2="1586.9" y1="1895.8" y2="2349.3" stroke="#ebebeb" stroke-width="1.1"/><line x1="1607.5" x2="1607.5" y1="1895.8" y2="2349.3" stroke="#f3f3f3" stroke-width="0.8"/><line x1="895.7" x2="1619.0" y1="2329.3" y2="2329.3" stroke="#ebebeb" stroke-width="1.1"/><line x1="895.7" x2="1619.0" y1="2277.7" y2="2277.7" stroke="#f3f3f3" stroke-width="0.8"/><line x1="895.7" x2="1619.0" y1="2226.0" y2="2226.0" stroke="#ebebeb" stroke-width="1.1"/><line x1="895.7" x2="1619.0" y1="2174.3" y2="2174.3" stroke="#f3f3f3" stroke-width="0.8"/><line x1="895.7" x2="1619.0" y1="2122.7" y2="2122.7" stroke="#ebebeb" stroke-width="1.1"/><line x1="895.7" x2="1619.0" y1="2071.0" y2="2071.0" stroke="#f3f3f3" stroke-width="0.8"/><line x1="895.7" x2="1619.0" y1="2019.4" y2="2019.4" stroke="#ebebeb" stroke-width="1.1"/><line x1="895.7" x2="1619.0" y1="1967.8" y2="1967.8" stroke="#f3f3f3" stroke-width="0.8"/><line x1="895.7" x2="1619.0" y1="1916.1" y2="1916.1" stroke="#ebebeb" stroke-width="1.1"/>
<g clip-path="url(#cppD)">
<path d="M927.7 1916.1H942.8V1932.6H948.5V1949.2H952.4V1965.7H954.6V1982.2H957.1V1998.7H958.2V2015.3H962.2V2031.8H965.3V2048.3H989.4V2064.9H1017.4V2081.4H1023.6V2097.9H1024.6V2114.4H1028.1V2131.0H1038.2V2180.5H1071.8V2197.1H1084.9V2213.6H1088.4V2230.1H1094.3V2246.7H1126.0V2263.2H1495.4" fill="none" stroke="#374E55" stroke-width="2.4" stroke-linejoin="miter"/>
<path d="M927.7 1916.1H938.4V1962.0H971.4V2007.9H1017.5V2053.8H1102.0V2099.7H1422.1V2157.1H1669.3" fill="none" stroke="#DF8F44" stroke-width="2.4" stroke-linejoin="miter"/>
<path d="M927.7 1916.1L942.8 1916.1L942.8 1916.1L948.5 1916.1L948.5 1916.1L952.4 1916.1L952.4 1916.1L954.6 1916.1L954.6 1917.4L957.1 1917.4L957.1 1927.2L958.2 1927.2L958.2 1937.9L962.2 1937.9L962.2 1949.4L965.3 1949.4L965.3 1961.6L989.4 1961.6L989.4 1974.5L1017.4 1974.5L1017.4 1987.9L1023.6 1987.9L1023.6 2001.8L1024.6 2001.8L1024.6 2016.2L1028.1 2016.2L1028.1 2031.0L1038.2 2031.0L1038.2 2078.4L1071.8 2078.4L1071.8 2095.2L1084.9 2095.2L1084.9 2112.4L1088.4 2112.4L1088.4 2130.1L1094.3 2130.1L1094.3 2148.3L1126.0 2148.3L1126.0 2167.0L1495.4 2167.0L1495.4 2302.4L1126.0 2302.4L1126.0 2291.6L1094.3 2291.6L1094.3 2279.9L1088.4 2279.9L1088.4 2267.6L1084.9 2267.6L1084.9 2254.6L1071.8 2254.6L1071.8 2241.1L1038.2 2241.1L1038.2 2197.4L1028.1 2197.4L1028.1 2181.9L1024.6 2181.9L1024.6 2165.8L1023.6 2165.8L1023.6 2149.3L1017.4 2149.3L1017.4 2132.2L989.4 2132.2L989.4 2114.6L965.3 2114.6L965.3 2096.3L962.2 2096.3L962.2 2077.4L958.2 2077.4L958.2 2057.6L957.1 2057.6L957.1 2036.8L954.6 2036.8L954.6 2014.7L952.4 2014.7L952.4 1990.7L948.5 1990.7L948.5 1963.1L942.8 1963.1L942.8 1916.1L927.7 1916.1Z" fill="#374E55" fill-opacity="0.3"/>
<path d="M927.7 1916.1L938.4 1916.1L938.4 1916.1L971.4 1916.1L971.4 1916.1L1017.5 1916.1L1017.5 1916.1L1102.0 1916.1L1102.0 1917.5L1422.1 1917.5L1422.1 1941.0L1669.3 1941.0L1669.3 2253.0L1422.1 2253.0L1422.1 2201.3L1102.0 2201.3L1102.0 2155.7L1017.5 2155.7L1017.5 2102.7L971.4 2102.7L971.4 2037.8L938.4 2037.8L938.4 1916.1L927.7 1916.1Z" fill="#DF8F44" fill-opacity="0.3"/>
<path d="M1219.2 2259.0v8.4M1215.0 2263.2h8.4" stroke="#374E55" stroke-width="1.7" fill="none"/>
<path d="M1339.7 2259.0v8.4M1335.5 2263.2h8.4" stroke="#374E55" stroke-width="1.7" fill="none"/>
<path d="M1388.9 2259.0v8.4M1384.7 2263.2h8.4" stroke="#374E55" stroke-width="1.7" fill="none"/>
<path d="M1495.4 2259.0v8.4M1491.2 2263.2h8.4" stroke="#374E55" stroke-width="1.7" fill="none"/>
<path d="M1339.5 2095.5v8.4M1335.3 2099.7h8.4" stroke="#DF8F44" stroke-width="1.7" fill="none"/>
<path d="M1580.7 2152.9v8.4M1576.5 2157.1h8.4" stroke="#DF8F44" stroke-width="1.7" fill="none"/>
<path d="M1669.3 2152.9v8.4M1665.1 2157.1h8.4" stroke="#DF8F44" stroke-width="1.7" fill="none"/>
</g>
<path d="M895.7 1895.8H1619.0V2349.3" fill="none" stroke="#b4b4b4" stroke-width="1.8"/>
<path d="M895.7 1894.8999999999999V2349.3H1619.9" fill="none" stroke="#787878" stroke-width="1.9"/>
<line x1="927.7" x2="927.7" y1="2349.3" y2="2353.6000000000004" stroke="#333" stroke-width="1.5"/>
<text class="lr" x="927.7" y="2365.2" font-size="12.1" fill="#4d4d4d" stroke="#4d4d4d" stroke-width="0.4" text-anchor="middle">0</text>
<line x1="968.9" x2="968.9" y1="2349.3" y2="2353.6000000000004" stroke="#333" stroke-width="1.5"/>
<text class="lr" x="968.9" y="2365.2" font-size="12.1" fill="#4d4d4d" stroke="#4d4d4d" stroke-width="0.4" text-anchor="middle">5</text>
<line x1="1010.1" x2="1010.1" y1="2349.3" y2="2353.6000000000004" stroke="#333" stroke-width="1.5"/>
<text class="lr" x="1010.1" y="2365.2" font-size="12.1" fill="#4d4d4d" stroke="#4d4d4d" stroke-width="0.4" text-anchor="middle">10</text>
<line x1="1051.3" x2="1051.3" y1="2349.3" y2="2353.6000000000004" stroke="#333" stroke-width="1.5"/>
<text class="lr" x="1051.3" y="2365.2" font-size="12.1" fill="#4d4d4d" stroke="#4d4d4d" stroke-width="0.4" text-anchor="middle">15</text>
<line x1="1092.5" x2="1092.5" y1="2349.3" y2="2353.6000000000004" stroke="#333" stroke-width="1.5"/>
<text class="lr" x="1092.5" y="2365.2" font-size="12.1" fill="#4d4d4d" stroke="#4d4d4d" stroke-width="0.4" text-anchor="middle">20</text>
<line x1="1133.7" x2="1133.7" y1="2349.3" y2="2353.6000000000004" stroke="#333" stroke-width="1.5"/>
<text class="lr" x="1133.7" y="2365.2" font-size="12.1" fill="#4d4d4d" stroke="#4d4d4d" stroke-width="0.4" text-anchor="middle">25</text>
<line x1="1174.9" x2="1174.9" y1="2349.3" y2="2353.6000000000004" stroke="#333" stroke-width="1.5"/>
<text class="lr" x="1174.9" y="2365.2" font-size="12.1" fill="#4d4d4d" stroke="#4d4d4d" stroke-width="0.4" text-anchor="middle">30</text>
<line x1="1216.1" x2="1216.1" y1="2349.3" y2="2353.6000000000004" stroke="#333" stroke-width="1.5"/>
<text class="lr" x="1216.1" y="2365.2" font-size="12.1" fill="#4d4d4d" stroke="#4d4d4d" stroke-width="0.4" text-anchor="middle">35</text>
<line x1="1257.3" x2="1257.3" y1="2349.3" y2="2353.6000000000004" stroke="#333" stroke-width="1.5"/>
<text class="lr" x="1257.3" y="2365.2" font-size="12.1" fill="#4d4d4d" stroke="#4d4d4d" stroke-width="0.4" text-anchor="middle">40</text>
<line x1="1298.5" x2="1298.5" y1="2349.3" y2="2353.6000000000004" stroke="#333" stroke-width="1.5"/>
<text class="lr" x="1298.5" y="2365.2" font-size="12.1" fill="#4d4d4d" stroke="#4d4d4d" stroke-width="0.4" text-anchor="middle">45</text>
<line x1="1339.7" x2="1339.7" y1="2349.3" y2="2353.6000000000004" stroke="#333" stroke-width="1.5"/>
<text class="lr" x="1339.7" y="2365.2" font-size="12.1" fill="#4d4d4d" stroke="#4d4d4d" stroke-width="0.4" text-anchor="middle">50</text>
<line x1="1380.9" x2="1380.9" y1="2349.3" y2="2353.6000000000004" stroke="#333" stroke-width="1.5"/>
<text class="lr" x="1380.9" y="2365.2" font-size="12.1" fill="#4d4d4d" stroke="#4d4d4d" stroke-width="0.4" text-anchor="middle">55</text>
<line x1="1422.1" x2="1422.1" y1="2349.3" y2="2353.6000000000004" stroke="#333" stroke-width="1.5"/>
<text class="lr" x="1422.1" y="2365.2" font-size="12.1" fill="#4d4d4d" stroke="#4d4d4d" stroke-width="0.4" text-anchor="middle">60</text>
<line x1="1463.3" x2="1463.3" y1="2349.3" y2="2353.6000000000004" stroke="#333" stroke-width="1.5"/>
<text class="lr" x="1463.3" y="2365.2" font-size="12.1" fill="#4d4d4d" stroke="#4d4d4d" stroke-width="0.4" text-anchor="middle">65</text>
<line x1="1504.5" x2="1504.5" y1="2349.3" y2="2353.6000000000004" stroke="#333" stroke-width="1.5"/>
<text class="lr" x="1504.5" y="2365.2" font-size="12.1" fill="#4d4d4d" stroke="#4d4d4d" stroke-width="0.4" text-anchor="middle">70</text>
<line x1="1545.7" x2="1545.7" y1="2349.3" y2="2353.6000000000004" stroke="#333" stroke-width="1.5"/>
<text class="lr" x="1545.7" y="2365.2" font-size="12.1" fill="#4d4d4d" stroke="#4d4d4d" stroke-width="0.4" text-anchor="middle">75</text>
<line x1="1586.9" x2="1586.9" y1="2349.3" y2="2353.6000000000004" stroke="#333" stroke-width="1.5"/>
<text class="lr" x="1586.9" y="2365.2" font-size="12.1" fill="#4d4d4d" stroke="#4d4d4d" stroke-width="0.4" text-anchor="middle">80</text>
<line x1="891.4000000000001" x2="895.7" y1="2329.3" y2="2329.3" stroke="#333" stroke-width="1.5"/>
<text class="lr" x="888.4" y="2334.3" font-size="12.1" fill="#4d4d4d" stroke="#4d4d4d" stroke-width="0.4" text-anchor="end">0.00</text>
<line x1="891.4000000000001" x2="895.7" y1="2226.0" y2="2226.0" stroke="#333" stroke-width="1.5"/>
<text class="lr" x="888.4" y="2231.0" font-size="12.1" fill="#4d4d4d" stroke="#4d4d4d" stroke-width="0.4" text-anchor="end">0.25</text>
<line x1="891.4000000000001" x2="895.7" y1="2122.7" y2="2122.7" stroke="#333" stroke-width="1.5"/>
<text class="lr" x="888.4" y="2127.7" font-size="12.1" fill="#4d4d4d" stroke="#4d4d4d" stroke-width="0.4" text-anchor="end">0.50</text>
<line x1="891.4000000000001" x2="895.7" y1="2019.4" y2="2019.4" stroke="#333" stroke-width="1.5"/>
<text class="lr" x="888.4" y="2024.4" font-size="12.1" fill="#4d4d4d" stroke="#4d4d4d" stroke-width="0.4" text-anchor="end">0.75</text>
<line x1="891.4000000000001" x2="895.7" y1="1916.1" y2="1916.1" stroke="#333" stroke-width="1.5"/>
<text class="lr" x="888.4" y="1921.1" font-size="12.1" fill="#4d4d4d" stroke="#4d4d4d" stroke-width="0.4" text-anchor="end">1.00</text>
<text class="lr" x="1257.3" y="2384.3" font-size="15.1" fill="#000" stroke="#000" stroke-width="0.3" text-anchor="middle">Time (months)</text>
<text class="lr" transform="translate(858.0,2123.5) rotate(-90)" font-size="15.15" fill="#000" stroke="#000" stroke-width="0.3" text-anchor="middle">Recurrence Probability</text>
<text class="lbd" x="1257.8" y="1828.1" font-size="27.4" text-anchor="middle">wavelet.HHH GLCM Max Prob</text>
<text class="lr" x="1421.8" y="1944.5" font-size="19.3" fill="#000" stroke="#000" stroke-width="0.25">p = 0.072</text>
<rect x="1203.8" y="1850.7" width="21.6" height="21.6" fill="#374E55" fill-opacity="0.28"/>
<path d="M1205.6 1861.5h18M1214.6 1857.3v8.4" stroke="#374E55" stroke-width="2.3" fill="none"/>
<text class="lr" x="1234.0" y="1865.8" font-size="12.1" fill="#000" stroke="#000" stroke-width="0.25">High</text>
<rect x="1267.8" y="1850.7" width="21.6" height="21.6" fill="#DF8F44" fill-opacity="0.28"/>
<path d="M1269.6 1861.5h18M1278.6 1857.3v8.4" stroke="#DF8F44" stroke-width="2.3" fill="none"/>
<text class="lr" x="1298.0" y="1865.8" font-size="12.1" fill="#000" stroke="#000" stroke-width="0.25">Low</text>
</g>
</svg></body></html>
